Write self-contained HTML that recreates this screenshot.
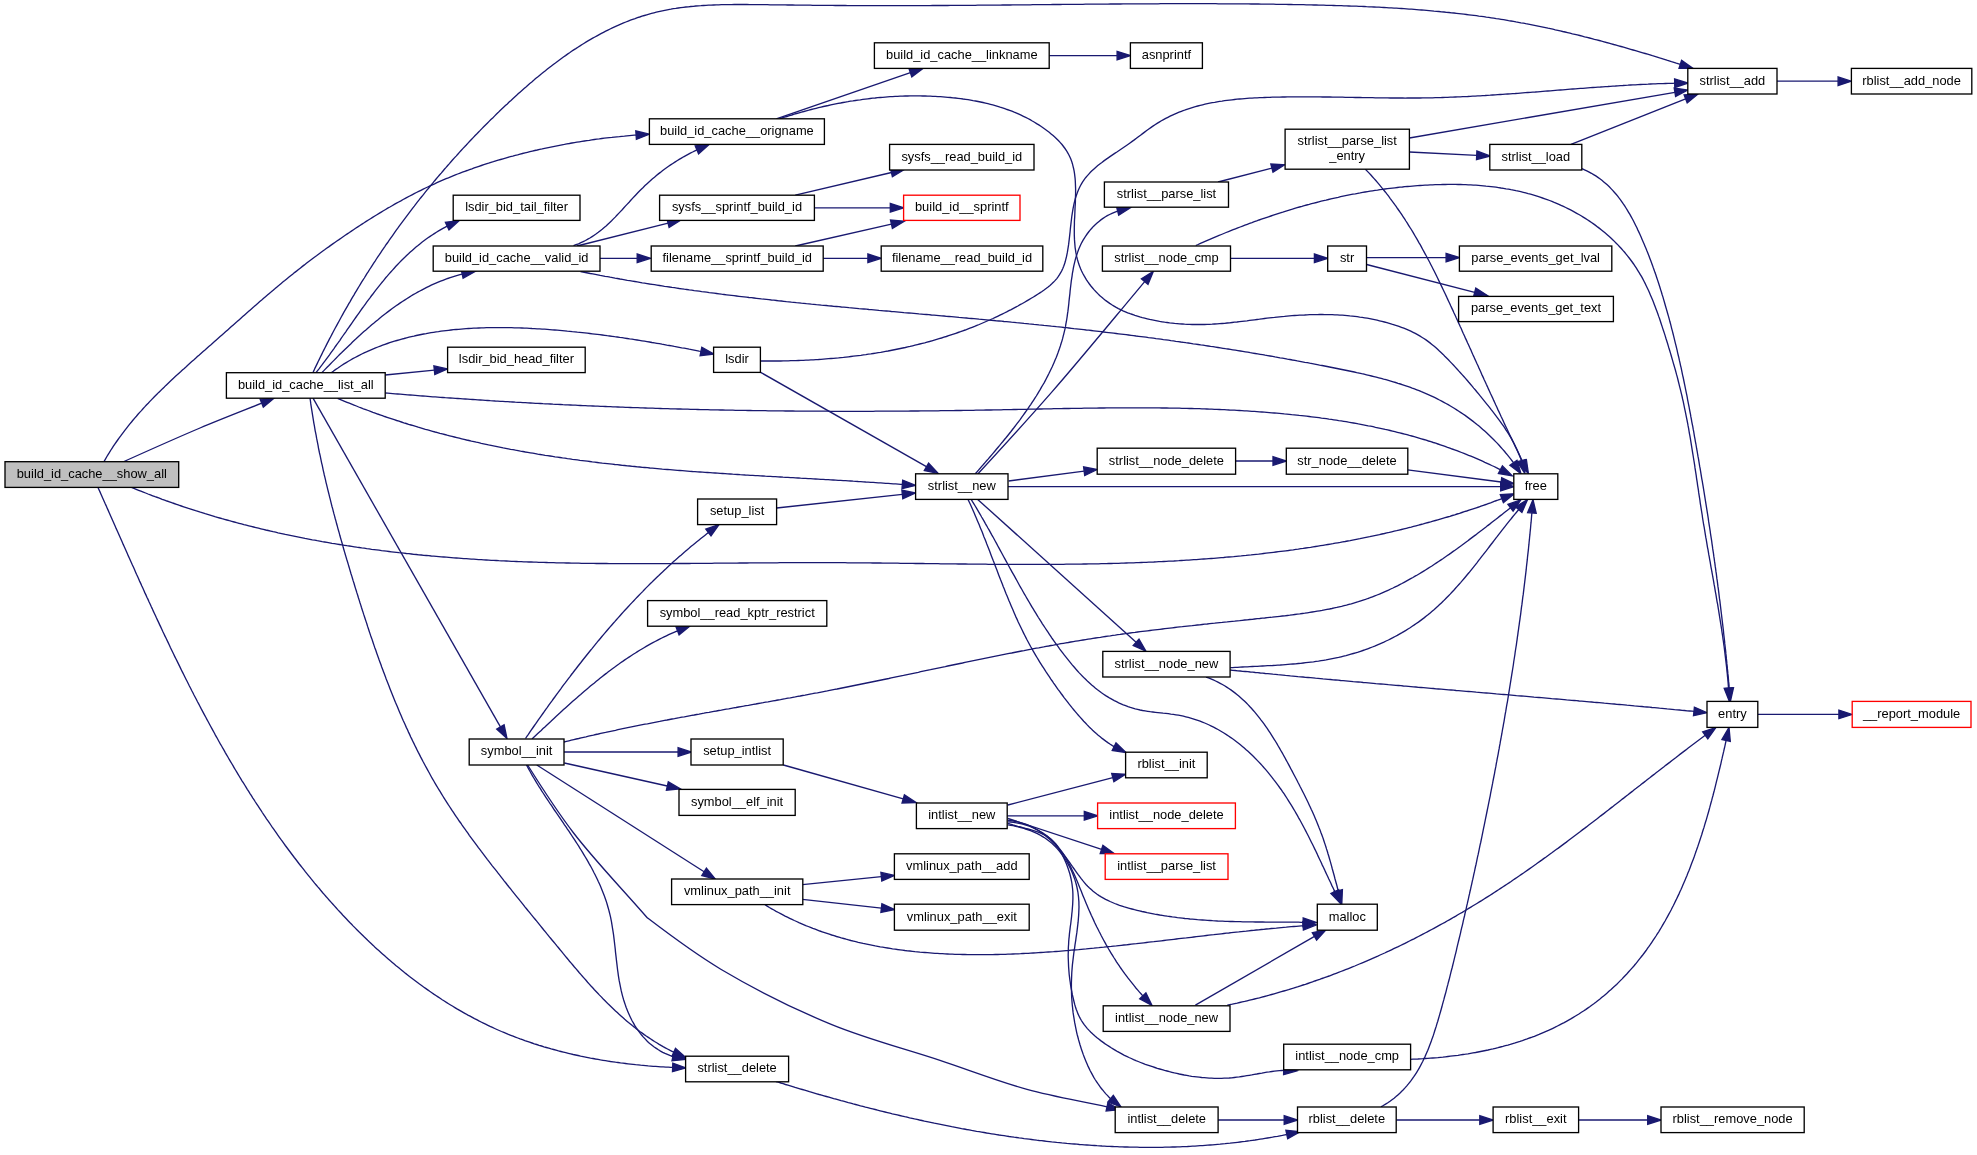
<!DOCTYPE html><html><head><meta charset="utf-8"><style>html,body{margin:0;padding:0;background:#fff;width:1977px;height:1155px;overflow:hidden}svg{display:block;will-change:transform}text{font-family:"Liberation Sans",sans-serif;font-size:12.87px;fill:#000}</style></head><body>
<svg width="1977" height="1155" viewBox="0 0 1977 1155">
<g fill="none" stroke="#191970" stroke-width="1.33">
<path d="M124,461.5 C150,449.8 175.9,438.2 200,428 C221.6,418.9 241.1,411.4 261.7,403.2"/>
<path d="M104,461.5 L105.3,459.3 L106.6,457 L107.9,454.9 L109.3,452.7 L110.6,450.5 L112,448.4 L113.4,446.2 L114.8,444.1 L116.3,442 L117.7,440 L119.2,437.9 L120.7,435.9 L122.2,433.8 L123.7,431.8 L125.2,429.8 L126.8,427.8 L128.3,425.9 L129.9,423.9 L131.5,422 L133.1,420 L134.7,418.1 L136.4,416.2 L138,414.3 L139.7,412.4 L141.4,410.6 L143,408.7 L144.7,406.9 L146.4,405 L148.2,403.2 L149.9,401.4 L151.6,399.6 L153.4,397.8 L155.1,396 L156.9,394.2 L158.7,392.4 L160.5,390.7 L162.3,388.9 L164.1,387.2 L165.9,385.4 L167.7,383.7 L169.5,382 L171.3,380.3 L173.2,378.5 L175,376.8 L176.9,375.1 L178.7,373.4 L180.6,371.7 L182.4,370 L184.3,368.4 L186.2,366.7 L188,365 L189.9,363.3 L191.8,361.6 L193.7,360 L195.6,358.3 L197.4,356.6 L199.3,355 L201.2,353.3 L203.1,351.6 L205,350 L206.9,348.3 L208.8,346.6 L210.7,345 L212.6,343.3 L214.5,341.6 L216.3,340 L218.2,338.3 L220.1,336.6 L222,334.9 L223.9,333.3 L225.8,331.6 L227.7,329.9 L229.5,328.3 L231.4,326.6 L233.3,324.9 L235.2,323.2 L237.1,321.6 L239,319.9 L240.9,318.2 L242.7,316.6 L244.6,314.9 L246.5,313.2 L248.4,311.6 L250.3,309.9 L252.2,308.2 L254.1,306.6 L256,304.9 L257.9,303.3 L259.8,301.6 L261.7,300 L263.6,298.3 L265.5,296.7 L267.4,295.1 L269.3,293.4 L271.3,291.8 L273.2,290.2 L275.1,288.6 L277,286.9 L279,285.3 L280.9,283.7 L282.8,282.1 L284.8,280.5 L286.7,278.9 L288.7,277.3 L290.6,275.8 L292.6,274.2 L294.5,272.6 L296.5,271.1 L298.5,269.5 L300.5,267.9 L302.4,266.4 L304.4,264.9 L306.4,263.3 L308.4,261.8 L310.4,260.3 L312.4,258.8 L314.4,257.3 L316.5,255.8 L318.5,254.3 L320.5,252.8 L322.5,251.3 L324.6,249.8 L326.6,248.3 L328.7,246.9 L330.7,245.4 L332.8,243.9 L334.8,242.5 L336.9,241 L339,239.6 L341,238.2 L343.1,236.7 L345.2,235.3 L347.3,233.9 L349.4,232.5 L351.4,231.1 L353.5,229.7 L355.6,228.3 L357.8,226.9 L359.9,225.5 L362,224.1 L364.1,222.8 L366.2,221.4 L368.4,220 L370.5,218.7 L372.6,217.4 L374.8,216 L376.9,214.7 L379.1,213.4 L381.2,212.1 L383.4,210.8 L385.6,209.5 L387.7,208.2 L389.9,207 L392.1,205.7 L394.3,204.4 L396.5,203.2 L398.7,202 L400.9,200.8 L403.1,199.5 L405.3,198.3 L407.5,197.2 L409.7,196 L412,194.8 L414.2,193.6 L416.4,192.5 L418.7,191.4 L420.9,190.3 L423.2,189.1 L425.5,188 L427.7,187 L430,185.9 L432.3,184.8 L434.6,183.8 L436.9,182.7 L439.2,181.7 L441.5,180.7 L443.8,179.7 L446.1,178.7 L448.4,177.8 L450.7,176.8 L453,175.9 L455.4,174.9 L457.7,174 L460.1,173.1 L462.4,172.2 L464.8,171.3 L467.1,170.5 L469.5,169.6 L471.9,168.8 L474.2,167.9 L476.6,167.1 L479,166.3 L481.4,165.5 L483.8,164.7 L486.2,163.9 L488.6,163.2 L491,162.4 L493.4,161.7 L495.8,160.9 L498.2,160.2 L500.6,159.5 L503,158.8 L505.5,158.1 L507.9,157.4 L510.3,156.7 L512.8,156.1 L515.2,155.4 L517.6,154.8 L520.1,154.1 L522.5,153.5 L525,152.9 L527.4,152.3 L529.9,151.7 L532.3,151.1 L534.8,150.5 L537.2,150 L539.7,149.4 L542.2,148.9 L544.6,148.3 L547.1,147.8 L549.6,147.3 L552,146.8 L554.5,146.3 L557,145.8 L559.5,145.3 L562,144.8 L564.4,144.4 L566.9,143.9 L569.4,143.5 L571.9,143 L574.4,142.6 L576.9,142.2 L579.4,141.8 L581.9,141.4 L584.4,141 L586.9,140.6 L589.3,140.3 L591.8,139.9 L594.3,139.5 L596.8,139.2 L599.3,138.9 L601.8,138.5 L604.3,138.2 L606.8,137.9 L609.3,137.6 L611.9,137.4 L614.4,137.1 L616.9,136.8 L619.4,136.6 L621.9,136.3 L624.4,136.1 L626.9,135.8 L629.4,135.6 L631.9,135.4 L634.4,135.2 L636.1,135.1"/>
<path d="M131.5,487.4 L133.9,488.4 L136.2,489.3 L138.6,490.3 L140.9,491.2 L143.3,492.1 L145.6,493 L148,494 L150.4,494.9 L152.7,495.8 L155.1,496.7 L157.5,497.5 L159.9,498.4 L162.2,499.3 L164.6,500.1 L167,501 L169.4,501.8 L171.7,502.7 L174.1,503.5 L176.5,504.3 L178.9,505.2 L181.3,506 L183.7,506.8 L186.1,507.6 L188.5,508.4 L190.8,509.1 L193.2,509.9 L195.6,510.7 L198,511.4 L200.4,512.2 L202.8,512.9 L205.2,513.7 L207.6,514.4 L210.1,515.1 L212.5,515.8 L214.9,516.6 L217.3,517.3 L219.7,518 L222.1,518.7 L224.5,519.3 L226.9,520 L229.4,520.7 L231.8,521.3 L234.2,522 L236.6,522.7 L239,523.3 L241.5,523.9 L243.9,524.6 L246.3,525.2 L248.8,525.8 L251.2,526.4 L253.6,527 L256,527.6 L258.5,528.2 L260.9,528.8 L263.4,529.4 L265.8,530 L268.2,530.5 L270.7,531.1 L273.1,531.7 L275.6,532.2 L278,532.8 L280.4,533.3 L282.9,533.8 L285.3,534.4 L287.8,534.9 L290.2,535.4 L292.7,535.9 L295.1,536.4 L297.6,536.9 L300,537.4 L302.5,537.9 L305,538.4 L307.4,538.8 L309.9,539.3 L312.3,539.8 L314.8,540.2 L317.2,540.7 L319.7,541.1 L322.2,541.6 L324.6,542 L327.1,542.4 L329.6,542.8 L332,543.3 L334.5,543.7 L337,544.1 L339.4,544.5 L341.9,544.9 L344.4,545.3 L346.9,545.7 L349.3,546 L351.8,546.4 L354.3,546.8 L356.7,547.2 L359.2,547.5 L361.7,547.9 L364.2,548.2 L366.7,548.6 L369.1,548.9 L371.6,549.3 L374.1,549.6 L376.6,549.9 L379.1,550.2 L381.5,550.6 L384,550.9 L386.5,551.2 L389,551.5 L391.5,551.8 L394,552.1 L396.4,552.4 L398.9,552.7 L401.4,552.9 L403.9,553.2 L406.4,553.5 L408.9,553.7 L411.4,554 L413.9,554.3 L416.4,554.5 L418.8,554.8 L421.3,555 L423.8,555.3 L426.3,555.5 L428.8,555.7 L431.3,556 L433.8,556.2 L436.3,556.4 L438.8,556.6 L441.3,556.8 L443.8,557 L446.3,557.2 L448.8,557.4 L451.3,557.6 L453.8,557.8 L456.3,558 L458.8,558.2 L461.3,558.4 L463.8,558.6 L466.3,558.7 L468.8,558.9 L471.3,559.1 L473.8,559.2 L476.2,559.4 L478.7,559.6 L481.2,559.7 L483.7,559.9 L486.2,560 L488.7,560.1 L491.2,560.3 L493.7,560.4 L496.2,560.5 L498.8,560.7 L501.3,560.8 L503.8,560.9 L506.3,561 L508.8,561.1 L511.3,561.3 L513.8,561.4 L516.3,561.5 L518.8,561.6 L521.3,561.7 L523.8,561.8 L526.3,561.9 L528.8,562 L531.3,562 L533.8,562.1 L536.3,562.2 L538.8,562.3 L541.3,562.4 L543.8,562.4 L546.3,562.5 L548.8,562.6 L551.3,562.7 L553.8,562.7 L556.3,562.8 L558.8,562.8 L561.3,562.9 L563.8,562.9 L566.3,563 L568.8,563 L571.4,563.1 L573.9,563.1 L576.4,563.2 L578.9,563.2 L581.4,563.3 L583.9,563.3 L586.4,563.3 L588.9,563.4 L591.4,563.4 L593.9,563.4 L596.4,563.5 L598.9,563.5 L601.4,563.5 L603.9,563.5 L606.5,563.5 L609,563.6 L611.5,563.6 L614,563.6 L616.5,563.6 L619,563.6 L621.5,563.6 L624,563.6 L626.5,563.6 L629,563.7 L631.5,563.7 L634,563.7 L636.6,563.7 L639.1,563.7 L641.6,563.7 L644.1,563.7 L646.6,563.7 L649.1,563.6 L651.6,563.6 L654.1,563.6 L656.6,563.6 L659.1,563.6 L661.7,563.6 L664.2,563.6 L666.7,563.6 L669.2,563.6 L671.7,563.6 L674.2,563.5 L676.7,563.5 L679.2,563.5 L681.7,563.5 L684.3,563.5 L686.8,563.5 L689.3,563.5 L691.8,563.4 L694.3,563.4 L696.8,563.4 L699.3,563.4 L701.8,563.4 L704.3,563.3 L706.9,563.3 L709.4,563.3 L711.9,563.3 L714.4,563.2 L716.9,563.2 L719.4,563.2 L721.9,563.2 L724.4,563.2 L727,563.1 L729.5,563.1 L732,563.1 L734.5,563.1 L737,563.1 L739.5,563 L742,563 L744.5,563 L747.1,563 L749.6,562.9 L752.1,562.9 L754.6,562.9 L757.1,562.9 L759.6,562.9 L762.1,562.9 L764.6,562.8 L767.2,562.8 L769.7,562.8 L772.2,562.8 L774.7,562.8 L777.2,562.8 L779.7,562.7 L782.2,562.7 L784.8,562.7 L787.3,562.7 L789.8,562.7 L792.3,562.7 L794.8,562.7 L797.3,562.7 L799.8,562.7 L802.4,562.7 L804.9,562.7 L807.4,562.6 L809.9,562.6 L812.4,562.6 L814.9,562.6 L817.4,562.6 L819.9,562.6 L822.5,562.7 L825,562.7 L827.5,562.7 L830,562.7 L832.5,562.7 L835,562.7 L837.5,562.7 L840.1,562.7 L842.6,562.7 L845.1,562.7 L847.6,562.8 L850.1,562.8 L852.6,562.8 L855.1,562.8 L857.7,562.8 L860.2,562.9 L862.7,562.9 L865.2,562.9 L867.7,562.9 L870.2,562.9 L872.7,563 L875.2,563 L877.8,563 L880.3,563 L882.8,563.1 L885.3,563.1 L887.8,563.1 L890.3,563.2 L892.8,563.2 L895.4,563.2 L897.9,563.2 L900.4,563.3 L902.9,563.3 L905.4,563.3 L907.9,563.4 L910.4,563.4 L912.9,563.4 L915.5,563.5 L918,563.5 L920.5,563.5 L923,563.5 L925.5,563.6 L928,563.6 L930.5,563.6 L933.1,563.7 L935.6,563.7 L938.1,563.7 L940.6,563.8 L943.1,563.8 L945.6,563.8 L948.1,563.9 L950.6,563.9 L953.1,563.9 L955.7,563.9 L958.2,564 L960.7,564 L963.2,564 L965.7,564 L968.2,564.1 L970.7,564.1 L973.2,564.1 L975.8,564.1 L978.3,564.2 L980.8,564.2 L983.3,564.2 L985.8,564.2 L988.3,564.3 L990.8,564.3 L993.3,564.3 L995.8,564.3 L998.4,564.3 L1000.9,564.3 L1003.4,564.3 L1005.9,564.4 L1008.4,564.4 L1010.9,564.4 L1013.4,564.4 L1015.9,564.4 L1018.4,564.4 L1020.9,564.4 L1023.5,564.4 L1026,564.4 L1028.5,564.4 L1031,564.4 L1033.5,564.4 L1036,564.4 L1038.5,564.4 L1041,564.4 L1043.5,564.4 L1046,564.4 L1048.5,564.4 L1051,564.4 L1053.6,564.3 L1056.1,564.3 L1058.6,564.3 L1061.1,564.3 L1063.6,564.3 L1066.1,564.2 L1068.6,564.2 L1071.1,564.2 L1073.6,564.2 L1076.1,564.1 L1078.6,564.1 L1081.1,564.1 L1083.6,564 L1086.1,564 L1088.7,563.9 L1091.2,563.9 L1093.7,563.9 L1096.2,563.8 L1098.7,563.8 L1101.2,563.7 L1103.7,563.6 L1106.2,563.6 L1108.7,563.5 L1111.2,563.5 L1113.7,563.4 L1116.2,563.3 L1118.7,563.3 L1121.2,563.2 L1123.7,563.1 L1126.2,563 L1128.7,562.9 L1131.2,562.9 L1133.7,562.8 L1136.2,562.7 L1138.7,562.6 L1141.2,562.5 L1143.7,562.4 L1146.3,562.3 L1148.8,562.2 L1151.3,562.1 L1153.8,562 L1156.3,561.8 L1158.8,561.7 L1161.3,561.6 L1163.8,561.5 L1166.3,561.4 L1168.8,561.2 L1171.3,561.1 L1173.8,561 L1176.3,560.8 L1178.8,560.7 L1181.3,560.5 L1183.8,560.4 L1186.3,560.2 L1188.8,560.1 L1191.3,559.9 L1193.8,559.7 L1196.3,559.6 L1198.8,559.4 L1201.2,559.2 L1203.7,559 L1206.2,558.9 L1208.7,558.7 L1211.2,558.5 L1213.7,558.3 L1216.2,558.1 L1218.7,557.9 L1221.2,557.7 L1223.7,557.5 L1226.2,557.2 L1228.7,557 L1231.2,556.8 L1233.7,556.6 L1236.2,556.3 L1238.7,556.1 L1241.2,555.9 L1243.6,555.6 L1246.1,555.4 L1248.6,555.1 L1251.1,554.9 L1253.6,554.6 L1256.1,554.3 L1258.6,554.1 L1261.1,553.8 L1263.5,553.5 L1266,553.2 L1268.5,552.9 L1271,552.6 L1273.5,552.3 L1276,552 L1278.4,551.7 L1280.9,551.4 L1283.4,551.1 L1285.9,550.8 L1288.4,550.5 L1290.8,550.1 L1293.3,549.8 L1295.8,549.4 L1298.3,549.1 L1300.8,548.7 L1303.2,548.4 L1305.7,548 L1308.2,547.6 L1310.6,547.3 L1313.1,546.9 L1315.6,546.5 L1318.1,546.1 L1320.5,545.7 L1323,545.3 L1325.5,544.9 L1327.9,544.5 L1330.4,544.1 L1332.9,543.7 L1335.3,543.2 L1337.8,542.8 L1340.3,542.4 L1342.7,541.9 L1345.2,541.5 L1347.6,541 L1350.1,540.6 L1352.5,540.1 L1355,539.6 L1357.5,539.1 L1359.9,538.7 L1362.4,538.2 L1364.8,537.7 L1367.3,537.2 L1369.7,536.7 L1372.2,536.1 L1374.6,535.6 L1377.1,535.1 L1379.5,534.6 L1381.9,534 L1384.4,533.5 L1386.8,532.9 L1389.3,532.4 L1391.7,531.8 L1394.2,531.2 L1396.6,530.7 L1399,530.1 L1401.5,529.5 L1403.9,528.9 L1406.3,528.3 L1408.8,527.7 L1411.2,527.1 L1413.6,526.4 L1416,525.8 L1418.5,525.2 L1420.9,524.5 L1423.3,523.9 L1425.7,523.2 L1428.2,522.5 L1430.6,521.9 L1433,521.2 L1435.4,520.5 L1437.8,519.8 L1440.2,519.1 L1442.7,518.4 L1445.1,517.7 L1447.5,517 L1449.9,516.3 L1452.3,515.5 L1454.7,514.8 L1457.1,514 L1459.5,513.3 L1461.9,512.5 L1464.3,511.7 L1466.7,511 L1469.1,510.2 L1471.5,509.4 L1473.9,508.6 L1476.3,507.8 L1478.7,507 L1481,506.1 L1483.4,505.3 L1485.8,504.5 L1488.2,503.6 L1490.6,502.8 L1493,501.9 L1495.3,501 L1497.7,500.2 L1500.1,499.3 L1501.9,498.6"/>
<path d="M98,487.4 L99,489.7 L100,491.9 L101,494.2 L102,496.5 L103,498.7 L104,501 L105,503.3 L106.1,505.6 L107.1,507.9 L108.1,510.1 L109.1,512.4 L110.1,514.7 L111.1,517 L112.1,519.3 L113.1,521.5 L114.1,523.8 L115.1,526.1 L116.1,528.4 L117.2,530.7 L118.2,533 L119.2,535.3 L120.2,537.5 L121.2,539.8 L122.2,542.1 L123.2,544.4 L124.3,546.7 L125.3,549 L126.3,551.3 L127.3,553.6 L128.3,555.9 L129.4,558.2 L130.4,560.5 L131.4,562.7 L132.4,565 L133.5,567.3 L134.5,569.6 L135.5,571.9 L136.5,574.2 L137.6,576.5 L138.6,578.8 L139.6,581.1 L140.7,583.4 L141.7,585.7 L142.8,588 L143.8,590.3 L144.8,592.6 L145.9,594.9 L146.9,597.2 L148,599.4 L149,601.7 L150.1,604 L151.1,606.3 L152.2,608.6 L153.2,610.9 L154.3,613.2 L155.4,615.5 L156.4,617.8 L157.5,620.1 L158.6,622.4 L159.6,624.6 L160.7,626.9 L161.8,629.2 L162.8,631.5 L163.9,633.8 L165,636.1 L166.1,638.3 L167.2,640.6 L168.3,642.9 L169.4,645.2 L170.4,647.5 L171.5,649.7 L172.6,652 L173.7,654.3 L174.8,656.6 L175.9,658.8 L177.1,661.1 L178.2,663.4 L179.3,665.6 L180.4,667.9 L181.5,670.2 L182.6,672.4 L183.8,674.7 L184.9,677 L186,679.2 L187.2,681.5 L188.3,683.7 L189.4,686 L190.6,688.2 L191.7,690.5 L192.9,692.7 L194,695 L195.2,697.2 L196.4,699.5 L197.5,701.7 L198.7,703.9 L199.9,706.2 L201,708.4 L202.2,710.6 L203.4,712.9 L204.6,715.1 L205.8,717.3 L207,719.6 L208.2,721.8 L209.4,724 L210.6,726.2 L211.8,728.4 L213,730.6 L214.2,732.8 L215.4,735.1 L216.7,737.3 L217.9,739.5 L219.1,741.7 L220.3,743.9 L221.6,746 L222.8,748.2 L224.1,750.4 L225.3,752.6 L226.6,754.8 L227.9,757 L229.1,759.2 L230.4,761.3 L231.7,763.5 L233,765.7 L234.2,767.8 L235.5,770 L236.8,772.1 L238.1,774.3 L239.4,776.5 L240.7,778.6 L242,780.8 L243.4,782.9 L244.7,785 L246,787.2 L247.3,789.3 L248.7,791.4 L250,793.6 L251.4,795.7 L252.7,797.8 L254.1,799.9 L255.4,802 L256.8,804.1 L258.2,806.2 L259.6,808.3 L261,810.4 L262.3,812.5 L263.7,814.6 L265.1,816.7 L266.5,818.8 L268,820.9 L269.4,822.9 L270.8,825 L272.2,827.1 L273.7,829.1 L275.1,831.2 L276.5,833.2 L278,835.3 L279.4,837.3 L280.9,839.4 L282.4,841.4 L283.8,843.4 L285.3,845.5 L286.8,847.5 L288.3,849.5 L289.8,851.5 L291.3,853.5 L292.8,855.5 L294.3,857.5 L295.9,859.5 L297.4,861.5 L298.9,863.5 L300.5,865.5 L302,867.4 L303.6,869.4 L305.1,871.4 L306.7,873.3 L308.3,875.3 L309.8,877.2 L311.4,879.2 L313,881.1 L314.6,883.1 L316.2,885 L317.8,886.9 L319.5,888.8 L321.1,890.8 L322.7,892.7 L324.4,894.6 L326,896.5 L327.7,898.4 L329.3,900.3 L331,902.1 L332.7,904 L334.4,905.9 L336.1,907.8 L337.7,909.6 L339.5,911.5 L341.2,913.3 L342.9,915.2 L344.6,917 L346.3,918.8 L348.1,920.7 L349.8,922.5 L351.6,924.3 L353.3,926.1 L355.1,927.9 L356.9,929.7 L358.7,931.5 L360.5,933.2 L362.3,935 L364.1,936.8 L365.9,938.5 L367.7,940.3 L369.5,942 L371.4,943.7 L373.2,945.4 L375,947.2 L376.9,948.9 L378.8,950.6 L380.6,952.2 L382.5,953.9 L384.4,955.6 L386.3,957.3 L388.2,958.9 L390.1,960.6 L392,962.2 L393.9,963.8 L395.8,965.4 L397.8,967 L399.7,968.6 L401.7,970.2 L403.6,971.8 L405.6,973.4 L407.6,974.9 L409.5,976.5 L411.5,978 L413.5,979.5 L415.5,981 L417.5,982.5 L419.5,984 L421.6,985.5 L423.6,987 L425.6,988.4 L427.7,989.9 L429.7,991.3 L431.8,992.7 L433.8,994.1 L435.9,995.5 L438,996.9 L440.1,998.3 L442.2,999.7 L444.3,1001 L446.4,1002.4 L448.5,1003.7 L450.6,1005 L452.8,1006.3 L454.9,1007.6 L457,1008.9 L459.2,1010.1 L461.4,1011.4 L463.5,1012.6 L465.7,1013.8 L467.9,1015.1 L470.1,1016.2 L472.3,1017.4 L474.5,1018.6 L476.7,1019.7 L478.9,1020.9 L481.1,1022 L483.4,1023.1 L485.6,1024.2 L487.9,1025.3 L490.1,1026.4 L492.4,1027.4 L494.7,1028.5 L496.9,1029.5 L499.2,1030.5 L501.5,1031.5 L503.8,1032.4 L506.1,1033.4 L508.4,1034.4 L510.8,1035.3 L513.1,1036.2 L515.4,1037.1 L517.8,1038 L520.1,1038.9 L522.5,1039.7 L524.8,1040.6 L527.2,1041.4 L529.6,1042.2 L532,1043 L534.3,1043.8 L536.7,1044.5 L539.1,1045.3 L541.5,1046 L543.9,1046.8 L546.3,1047.5 L548.8,1048.2 L551.2,1048.9 L553.6,1049.5 L556,1050.2 L558.5,1050.9 L560.9,1051.5 L563.4,1052.1 L565.8,1052.7 L568.3,1053.3 L570.7,1053.9 L573.2,1054.5 L575.6,1055 L578.1,1055.5 L580.6,1056.1 L583.1,1056.6 L585.5,1057.1 L588,1057.6 L590.5,1058.1 L593,1058.5 L595.5,1059 L598,1059.4 L600.5,1059.9 L603,1060.3 L605.5,1060.7 L608,1061.1 L610.5,1061.5 L613,1061.8 L615.5,1062.2 L618,1062.5 L620.5,1062.9 L623,1063.2 L625.5,1063.5 L628,1063.8 L630.6,1064.1 L633.1,1064.4 L635.6,1064.7 L638.1,1064.9 L640.6,1065.2 L643.1,1065.4 L645.7,1065.6 L648.2,1065.9 L650.7,1066.1 L653.2,1066.3 L655.7,1066.4 L658.3,1066.6 L660.8,1066.8 L663.3,1066.9 L665.8,1067.1 L668.3,1067.2 L670.8,1067.3 L672.6,1067.4"/>
<path d="M312.9,372.7 L314,370.4 L315,368.1 L316.1,365.9 L317.2,363.6 L318.3,361.3 L319.4,359.1 L320.5,356.8 L321.6,354.6 L322.7,352.3 L323.8,350.1 L325,347.8 L326.1,345.6 L327.2,343.4 L328.4,341.1 L329.5,338.9 L330.7,336.7 L331.9,334.4 L333,332.2 L334.2,330 L335.4,327.8 L336.6,325.6 L337.8,323.4 L339,321.2 L340.2,319 L341.4,316.8 L342.6,314.6 L343.8,312.4 L345.1,310.2 L346.3,308.1 L347.6,305.9 L348.8,303.7 L350.1,301.6 L351.3,299.4 L352.6,297.2 L353.9,295.1 L355.1,292.9 L356.4,290.8 L357.7,288.6 L359,286.5 L360.3,284.4 L361.6,282.2 L362.9,280.1 L364.3,278 L365.6,275.9 L366.9,273.7 L368.3,271.6 L369.6,269.5 L371,267.4 L372.3,265.3 L373.7,263.2 L375.1,261.1 L376.4,259 L377.8,256.9 L379.2,254.9 L380.6,252.8 L382,250.7 L383.4,248.6 L384.8,246.6 L386.2,244.5 L387.7,242.5 L389.1,240.4 L390.5,238.4 L392,236.3 L393.4,234.3 L394.9,232.2 L396.3,230.2 L397.8,228.2 L399.2,226.1 L400.7,224.1 L402.2,222.1 L403.7,220.1 L405.2,218.1 L406.7,216.1 L408.2,214.1 L409.7,212.1 L411.2,210.1 L412.7,208.1 L414.3,206.1 L415.8,204.1 L417.3,202.2 L418.9,200.2 L420.4,198.2 L422,196.3 L423.6,194.3 L425.1,192.4 L426.7,190.4 L428.3,188.5 L429.9,186.5 L431.5,184.6 L433.1,182.7 L434.7,180.7 L436.3,178.8 L437.9,176.9 L439.5,175 L441.2,173.1 L442.8,171.2 L444.4,169.3 L446.1,167.4 L447.7,165.5 L449.4,163.6 L451,161.7 L452.7,159.8 L454.4,157.9 L456.1,156.1 L457.8,154.2 L459.4,152.4 L461.1,150.5 L462.8,148.6 L464.6,146.8 L466.3,145 L468,143.1 L469.7,141.3 L471.4,139.5 L473.2,137.6 L474.9,135.8 L476.7,134 L478.4,132.2 L480.2,130.4 L481.9,128.6 L483.7,126.8 L485.5,125 L487.3,123.2 L489.1,121.4 L490.9,119.6 L492.7,117.9 L494.5,116.1 L496.3,114.3 L498.1,112.6 L499.9,110.8 L501.7,109.1 L503.6,107.3 L505.4,105.6 L507.3,103.9 L509.1,102.1 L511,100.4 L512.8,98.7 L514.7,97 L516.6,95.3 L518.4,93.6 L520.3,91.9 L522.2,90.2 L524.1,88.5 L526,86.9 L527.9,85.2 L529.8,83.5 L531.8,81.9 L533.7,80.3 L535.6,78.6 L537.6,77 L539.5,75.4 L541.5,73.8 L543.4,72.2 L545.4,70.7 L547.4,69.1 L549.4,67.5 L551.4,66 L553.3,64.5 L555.4,63 L557.4,61.5 L559.4,60 L561.4,58.5 L563.4,57 L565.5,55.6 L567.5,54.1 L569.6,52.7 L571.6,51.3 L573.7,49.9 L575.8,48.6 L577.9,47.2 L580,45.9 L582.1,44.5 L584.2,43.2 L586.3,41.9 L588.4,40.7 L590.6,39.4 L592.7,38.2 L594.9,37 L597,35.8 L599.2,34.6 L601.4,33.4 L603.5,32.3 L605.7,31.2 L607.9,30.1 L610.1,29 L612.4,27.9 L614.6,26.9 L616.8,25.9 L619.1,24.9 L621.3,23.9 L623.6,22.9 L625.9,22 L628.2,21.1 L630.4,20.2 L632.7,19.4 L635.1,18.6 L637.4,17.7 L639.7,17 L642,16.2 L644.4,15.5 L646.7,14.8 L649.1,14.1 L651.5,13.4 L653.9,12.8 L656.3,12.2 L658.7,11.6 L661.1,11.1 L663.5,10.6 L666,10.1 L668.4,9.6 L670.9,9.2 L673.3,8.7 L675.8,8.4 L678.3,8 L680.8,7.6 L683.3,7.3 L685.8,7 L688.3,6.8 L690.8,6.5 L693.3,6.3 L695.8,6 L698.4,5.8 L700.9,5.7 L703.4,5.5 L706,5.3 L708.5,5.2 L711.1,5.1 L713.7,5 L716.2,4.9 L718.8,4.8 L721.3,4.7 L723.9,4.7 L726.5,4.6 L729,4.6 L731.6,4.6 L734.2,4.5 L736.7,4.5 L739.3,4.5 L741.9,4.5 L744.4,4.5 L747,4.5 L749.6,4.6 L752.1,4.6 L754.7,4.6 L757.3,4.6 L759.8,4.7 L762.4,4.7 L764.9,4.7 L767.4,4.7 L770,4.8 L772.5,4.8 L775.1,4.8 L777.6,4.9 L780.1,4.9 L782.6,4.9 L785.2,4.9 L787.7,5 L790.2,5 L792.7,5 L795.2,5.1 L797.7,5.1 L800.2,5.1 L802.7,5.1 L805.3,5.2 L807.8,5.2 L810.3,5.2 L812.8,5.3 L815.3,5.3 L817.8,5.3 L820.3,5.3 L822.8,5.4 L825.3,5.4 L827.8,5.4 L830.2,5.4 L832.7,5.4 L835.2,5.5 L837.7,5.5 L840.2,5.5 L842.7,5.5 L845.2,5.5 L847.7,5.6 L850.2,5.6 L852.7,5.6 L855.2,5.6 L857.7,5.6 L860.2,5.6 L862.7,5.6 L865.2,5.6 L867.7,5.6 L870.2,5.6 L872.7,5.7 L875.2,5.7 L877.7,5.7 L880.2,5.7 L882.7,5.7 L885.2,5.7 L887.7,5.7 L890.2,5.7 L892.7,5.7 L895.2,5.7 L897.7,5.7 L900.2,5.7 L902.7,5.7 L905.2,5.6 L907.7,5.6 L910.2,5.6 L912.7,5.6 L915.2,5.6 L917.6,5.6 L920.1,5.6 L922.6,5.6 L925.1,5.6 L927.6,5.6 L930.1,5.6 L932.6,5.5 L935.2,5.5 L937.7,5.5 L940.2,5.5 L942.7,5.5 L945.2,5.5 L947.7,5.5 L950.2,5.4 L952.7,5.4 L955.2,5.4 L957.7,5.4 L960.2,5.4 L962.7,5.4 L965.2,5.3 L967.7,5.3 L970.2,5.3 L972.7,5.3 L975.2,5.3 L977.7,5.2 L980.2,5.2 L982.7,5.2 L985.2,5.2 L987.7,5.2 L990.2,5.1 L992.7,5.1 L995.2,5.1 L997.7,5.1 L1000.2,5.1 L1002.7,5 L1005.2,5 L1007.7,5 L1010.2,5 L1012.7,4.9 L1015.2,4.9 L1017.7,4.9 L1020.2,4.9 L1022.7,4.8 L1025.2,4.8 L1027.7,4.8 L1030.3,4.8 L1032.8,4.7 L1035.3,4.7 L1037.8,4.7 L1040.3,4.7 L1042.8,4.6 L1045.3,4.6 L1047.8,4.6 L1050.3,4.6 L1052.8,4.5 L1055.3,4.5 L1057.8,4.5 L1060.3,4.5 L1062.8,4.4 L1065.3,4.4 L1067.8,4.4 L1070.3,4.4 L1072.8,4.4 L1075.4,4.3 L1077.9,4.3 L1080.4,4.3 L1082.9,4.3 L1085.4,4.2 L1087.9,4.2 L1090.4,4.2 L1092.9,4.2 L1095.4,4.2 L1097.9,4.1 L1100.4,4.1 L1102.9,4.1 L1105.4,4.1 L1107.9,4.1 L1110.4,4 L1113,4 L1115.5,4 L1118,4 L1120.5,4 L1123,3.9 L1125.5,3.9 L1128,3.9 L1130.5,3.9 L1133,3.9 L1135.5,3.9 L1138,3.9 L1140.5,3.8 L1143.1,3.8 L1145.6,3.8 L1148.1,3.8 L1150.6,3.8 L1153.1,3.8 L1155.6,3.8 L1158.1,3.8 L1160.6,3.7 L1163.1,3.7 L1165.6,3.7 L1168.1,3.7 L1170.7,3.7 L1173.2,3.7 L1175.7,3.7 L1178.2,3.7 L1180.7,3.7 L1183.2,3.7 L1185.7,3.7 L1188.2,3.7 L1190.7,3.7 L1193.2,3.7 L1195.7,3.7 L1198.3,3.7 L1200.8,3.7 L1203.3,3.7 L1205.8,3.7 L1208.3,3.7 L1210.8,3.7 L1213.3,3.7 L1215.8,3.7 L1218.3,3.8 L1220.8,3.8 L1223.4,3.8 L1225.9,3.8 L1228.4,3.8 L1230.9,3.8 L1233.4,3.8 L1235.9,3.8 L1238.4,3.9 L1240.9,3.9 L1243.4,3.9 L1245.9,3.9 L1248.5,3.9 L1251,4 L1253.5,4 L1256,4 L1258.5,4 L1261,4.1 L1263.5,4.1 L1266,4.1 L1268.5,4.2 L1271.1,4.2 L1273.6,4.2 L1276.1,4.3 L1278.6,4.3 L1281.1,4.3 L1283.6,4.4 L1286.1,4.4 L1288.6,4.5 L1291.1,4.5 L1293.7,4.6 L1296.2,4.6 L1298.7,4.6 L1301.2,4.7 L1303.7,4.7 L1306.2,4.8 L1308.7,4.9 L1311.2,4.9 L1313.8,5 L1316.3,5 L1318.8,5.1 L1321.3,5.1 L1323.8,5.2 L1326.3,5.3 L1328.8,5.3 L1331.3,5.4 L1333.8,5.5 L1336.4,5.6 L1338.9,5.6 L1341.4,5.7 L1343.9,5.8 L1346.4,5.9 L1348.9,6 L1351.4,6.1 L1353.9,6.1 L1356.4,6.2 L1358.9,6.3 L1361.4,6.4 L1364,6.5 L1366.5,6.7 L1369,6.8 L1371.5,6.9 L1374,7 L1376.5,7.1 L1379,7.2 L1381.5,7.4 L1384,7.5 L1386.5,7.6 L1389,7.8 L1391.5,7.9 L1394,8.1 L1396.5,8.2 L1399,8.4 L1401.5,8.5 L1404,8.7 L1406.5,8.9 L1409.1,9.1 L1411.6,9.2 L1414.1,9.4 L1416.6,9.6 L1419.1,9.8 L1421.6,10 L1424,10.2 L1426.5,10.4 L1429,10.6 L1431.5,10.8 L1434,11.1 L1436.5,11.3 L1439,11.5 L1441.5,11.8 L1444,12 L1446.5,12.3 L1449,12.5 L1451.5,12.8 L1454,13 L1456.5,13.3 L1459,13.6 L1461.4,13.9 L1463.9,14.2 L1466.4,14.5 L1468.9,14.8 L1471.4,15.1 L1473.9,15.4 L1476.4,15.7 L1478.8,16.1 L1481.3,16.4 L1483.8,16.7 L1486.3,17.1 L1488.8,17.4 L1491.2,17.8 L1493.7,18.2 L1496.2,18.6 L1498.7,18.9 L1501.1,19.3 L1503.6,19.7 L1506.1,20.1 L1508.6,20.6 L1511,21 L1513.5,21.4 L1516,21.9 L1518.4,22.3 L1520.9,22.8 L1523.4,23.2 L1525.8,23.7 L1528.3,24.1 L1530.8,24.6 L1533.2,25.1 L1535.7,25.6 L1538.1,26.1 L1540.6,26.6 L1543,27.1 L1545.5,27.6 L1548,28.2 L1550.4,28.7 L1552.9,29.2 L1555.3,29.8 L1557.8,30.3 L1560.2,30.9 L1562.7,31.5 L1565.1,32 L1567.5,32.6 L1570,33.2 L1572.4,33.8 L1574.9,34.3 L1577.3,34.9 L1579.8,35.5 L1582.2,36.1 L1584.6,36.8 L1587.1,37.4 L1589.5,38 L1591.9,38.6 L1594.4,39.3 L1596.8,39.9 L1599.2,40.5 L1601.7,41.2 L1604.1,41.8 L1606.5,42.5 L1608.9,43.1 L1611.4,43.8 L1613.8,44.5 L1616.2,45.1 L1618.6,45.8 L1621,46.5 L1623.5,47.2 L1625.9,47.9 L1628.3,48.6 L1630.7,49.3 L1633.1,50 L1635.5,50.7 L1637.9,51.4 L1640.3,52.1 L1642.8,52.8 L1645.2,53.5 L1647.6,54.2 L1650,54.9 L1652.4,55.7 L1654.8,56.4 L1657.2,57.1 L1659.6,57.9 L1662,58.6 L1664.4,59.3 L1666.8,60.1 L1669.1,60.8 L1671.5,61.6 L1673.9,62.3 L1676.3,63.1 L1678.7,63.8 L1680.3,64.3"/>
<path d="M315.9,372.7 L317.4,370.8 L319,368.8 L320.5,366.8 L322,364.9 L323.5,362.9 L325,360.9 L326.5,358.8 L328,356.8 L329.5,354.8 L331,352.7 L332.5,350.7 L334,348.6 L335.4,346.5 L336.9,344.4 L338.4,342.4 L339.9,340.3 L341.3,338.2 L342.8,336 L344.3,333.9 L345.8,331.8 L347.2,329.7 L348.7,327.6 L350.2,325.5 L351.7,323.4 L353.2,321.2 L354.6,319.1 L356.1,317 L357.6,314.9 L359.1,312.8 L360.6,310.6 L362.1,308.5 L363.7,306.4 L365.2,304.3 L366.7,302.2 L368.2,300.2 L369.8,298.1 L371.3,296 L372.9,294 L374.5,291.9 L376,289.9 L377.6,287.8 L379.2,285.8 L380.8,283.8 L382.5,281.8 L384.1,279.8 L385.7,277.8 L387.4,275.9 L389.1,273.9 L390.8,272 L392.5,270.1 L394.2,268.2 L395.9,266.3 L397.6,264.5 L399.4,262.6 L401.2,260.8 L403,259 L404.8,257.3 L406.6,255.5 L408.5,253.8 L410.3,252.1 L412.2,250.4 L414.1,248.7 L416,247.1 L418,245.5 L419.9,243.9 L421.9,242.3 L423.9,240.8 L425.9,239.3 L428,237.8 L430.1,236.4 L432.2,235 L434.3,233.6 L436.4,232.2 L438.6,230.9 L440.8,229.6 L443,228.4 L445.3,227.2 L447.2,226.1"/>
<path d="M321.8,372.7 L323.6,370.9 L325.3,369.1 L327.1,367.3 L328.9,365.5 L330.6,363.7 L332.4,361.9 L334.2,360.1 L336,358.3 L337.8,356.4 L339.6,354.6 L341.5,352.8 L343.3,351 L345.1,349.2 L347,347.4 L348.8,345.7 L350.7,343.9 L352.5,342.1 L354.4,340.3 L356.3,338.6 L358.2,336.8 L360.1,335.1 L362,333.3 L363.9,331.6 L365.9,329.9 L367.8,328.2 L369.8,326.5 L371.7,324.8 L373.7,323.2 L375.7,321.5 L377.7,319.9 L379.7,318.2 L381.7,316.6 L383.7,315 L385.7,313.5 L387.8,311.9 L389.8,310.4 L391.9,308.8 L394,307.3 L396.1,305.8 L398.2,304.4 L400.3,302.9 L402.4,301.5 L404.6,300.1 L406.7,298.7 L408.9,297.4 L411,296 L413.2,294.7 L415.4,293.5 L417.7,292.2 L419.9,291 L422.1,289.8 L424.4,288.6 L426.7,287.4 L428.9,286.3 L431.2,285.2 L433.5,284.2 L435.9,283.2 L438.2,282.2 L440.6,281.2 L442.9,280.3 L445.3,279.4 L447.7,278.5 L450.2,277.7 L452.6,276.9 L455,276.1 L457.5,275.4 L460,274.7 L462.2,274.1"/>
<path d="M331.2,372.7 L333.3,371.2 L335.4,369.6 L337.6,368.2 L339.7,366.7 L341.9,365.3 L344,363.9 L346.2,362.6 L348.4,361.3 L350.6,360 L352.8,358.7 L355.1,357.5 L357.3,356.3 L359.6,355.2 L361.8,354 L364.1,352.9 L366.4,351.9 L368.7,350.8 L371,349.8 L373.3,348.8 L375.6,347.9 L377.9,347 L380.3,346.1 L382.6,345.2 L385,344.3 L387.4,343.5 L389.7,342.7 L392.1,341.9 L394.5,341.2 L396.9,340.5 L399.3,339.8 L401.7,339.1 L404.1,338.5 L406.5,337.8 L409,337.2 L411.4,336.6 L413.9,336.1 L416.3,335.5 L418.8,335 L421.2,334.5 L423.7,334 L426.1,333.6 L428.6,333.1 L431.1,332.7 L433.6,332.3 L436.1,331.9 L438.5,331.6 L441,331.2 L443.5,330.9 L446,330.6 L448.5,330.3 L451,330 L453.5,329.7 L456.1,329.5 L458.6,329.3 L461.1,329.1 L463.6,328.9 L466.1,328.7 L468.6,328.5 L471.2,328.4 L473.7,328.2 L476.2,328.1 L478.8,328 L481.3,327.9 L483.8,327.8 L486.4,327.7 L488.9,327.7 L491.4,327.6 L494,327.6 L496.5,327.6 L499,327.6 L501.6,327.6 L504.1,327.6 L506.6,327.6 L509.2,327.7 L511.7,327.7 L514.3,327.8 L516.8,327.8 L519.3,327.9 L521.9,328 L524.4,328.1 L526.9,328.2 L529.5,328.3 L532,328.5 L534.5,328.6 L537.1,328.8 L539.6,328.9 L542.1,329.1 L544.6,329.2 L547.2,329.4 L549.7,329.6 L552.2,329.8 L554.7,330 L557.2,330.2 L559.7,330.4 L562.3,330.6 L564.8,330.8 L567.3,331.1 L569.8,331.3 L572.3,331.6 L574.8,331.8 L577.3,332.1 L579.8,332.3 L582.3,332.6 L584.8,332.9 L587.3,333.2 L589.8,333.5 L592.3,333.8 L594.8,334.1 L597.3,334.4 L599.8,334.7 L602.3,335 L604.8,335.3 L607.2,335.7 L609.7,336 L612.2,336.3 L614.7,336.7 L617.2,337 L619.7,337.4 L622.2,337.7 L624.6,338.1 L627.1,338.5 L629.6,338.9 L632.1,339.2 L634.6,339.6 L637.1,340 L639.5,340.4 L642,340.8 L644.5,341.2 L647,341.6 L649.5,342 L651.9,342.5 L654.4,342.9 L656.9,343.3 L659.4,343.7 L661.9,344.2 L664.3,344.6 L666.8,345.1 L669.3,345.5 L671.8,345.9 L674.3,346.4 L676.7,346.8 L679.2,347.3 L681.7,347.8 L684.2,348.2 L686.7,348.7 L689.2,349.2 L691.6,349.6 L694.1,350.1 L696.6,350.6 L699.1,351.1 L701,351.4"/>
<path d="M385.2,375 L434.4,370.2"/>
<path d="M385.2,393 L387.7,393.2 L390.2,393.4 L392.7,393.6 L395.2,393.8 L397.7,394 L400.2,394.2 L402.7,394.4 L405.2,394.6 L407.7,394.8 L410.2,395 L412.7,395.2 L415.3,395.4 L417.8,395.6 L420.3,395.8 L422.8,396 L425.3,396.2 L427.8,396.4 L430.3,396.6 L432.8,396.8 L435.3,396.9 L437.8,397.1 L440.3,397.3 L442.8,397.5 L445.3,397.7 L447.8,397.8 L450.3,398 L452.8,398.2 L455.3,398.4 L457.8,398.5 L460.3,398.7 L462.8,398.9 L465.3,399 L467.8,399.2 L470.3,399.4 L472.8,399.5 L475.3,399.7 L477.8,399.9 L480.3,400 L482.8,400.2 L485.3,400.4 L487.8,400.5 L490.3,400.7 L492.8,400.8 L495.3,401 L497.8,401.1 L500.3,401.3 L502.8,401.4 L505.3,401.6 L507.8,401.7 L510.3,401.9 L512.8,402 L515.3,402.2 L517.9,402.3 L520.4,402.4 L522.9,402.6 L525.4,402.7 L527.9,402.9 L530.4,403 L532.9,403.1 L535.4,403.3 L537.9,403.4 L540.4,403.5 L542.9,403.7 L545.4,403.8 L547.9,403.9 L550.4,404 L552.9,404.2 L555.4,404.3 L557.9,404.4 L560.4,404.5 L562.9,404.7 L565.4,404.8 L567.9,404.9 L570.4,405 L572.9,405.1 L575.4,405.2 L577.9,405.4 L580.4,405.5 L582.9,405.6 L585.4,405.7 L587.9,405.8 L590.4,405.9 L592.9,406 L595.4,406.1 L597.9,406.2 L600.4,406.3 L602.9,406.4 L605.4,406.5 L607.9,406.6 L610.4,406.7 L612.9,406.8 L615.4,406.9 L617.9,407 L620.4,407.1 L622.9,407.2 L625.4,407.3 L627.9,407.4 L630.4,407.5 L632.9,407.6 L635.4,407.7 L637.9,407.7 L640.4,407.8 L642.9,407.9 L645.4,408 L647.9,408.1 L650.4,408.2 L652.9,408.2 L655.4,408.3 L657.9,408.4 L660.4,408.5 L662.9,408.6 L665.4,408.6 L667.9,408.7 L670.4,408.8 L672.9,408.8 L675.4,408.9 L677.9,409 L680.4,409 L682.9,409.1 L685.4,409.2 L687.9,409.2 L690.4,409.3 L692.9,409.4 L695.4,409.4 L697.9,409.5 L700.4,409.6 L702.9,409.6 L705.4,409.7 L707.9,409.7 L710.4,409.8 L712.9,409.8 L715.4,409.9 L717.9,409.9 L720.4,410 L722.9,410 L725.4,410.1 L727.9,410.1 L730.4,410.2 L732.9,410.2 L735.4,410.3 L737.9,410.3 L740.4,410.4 L742.9,410.4 L745.4,410.4 L747.9,410.5 L750.4,410.5 L752.9,410.6 L755.4,410.6 L757.9,410.6 L760.4,410.7 L762.9,410.7 L765.5,410.7 L768,410.8 L770.5,410.8 L773,410.8 L775.5,410.9 L778,410.9 L780.5,410.9 L783,410.9 L785.5,411 L788,411 L790.5,411 L793,411 L795.5,411.1 L798,411.1 L800.5,411.1 L803,411.1 L805.5,411.1 L808,411.1 L810.5,411.2 L813,411.2 L815.5,411.2 L818,411.2 L820.5,411.2 L823,411.2 L825.5,411.2 L828,411.2 L830.5,411.3 L833,411.3 L835.5,411.3 L838,411.3 L840.5,411.3 L843.1,411.3 L845.6,411.3 L848.1,411.3 L850.6,411.3 L853.1,411.3 L855.6,411.3 L858.1,411.3 L860.6,411.3 L863.1,411.3 L865.6,411.3 L868.1,411.3 L870.6,411.3 L873.1,411.3 L875.6,411.2 L878.1,411.2 L880.6,411.2 L883.1,411.2 L885.6,411.2 L888.2,411.2 L890.7,411.2 L893.2,411.2 L895.7,411.1 L898.2,411.1 L900.7,411.1 L903.2,411.1 L905.7,411.1 L908.2,411.1 L910.7,411 L913.2,411 L915.7,411 L918.2,411 L920.7,410.9 L923.3,410.9 L925.8,410.9 L928.3,410.9 L930.8,410.8 L933.3,410.8 L935.8,410.8 L938.3,410.8 L940.8,410.7 L943.3,410.7 L945.8,410.7 L948.3,410.6 L950.8,410.6 L953.4,410.6 L955.9,410.5 L958.4,410.5 L960.9,410.5 L963.4,410.4 L965.9,410.4 L968.4,410.3 L970.9,410.3 L973.4,410.3 L975.9,410.2 L978.5,410.2 L981,410.1 L983.5,410.1 L986,410 L988.5,410 L991,410 L993.5,409.9 L996,409.9 L998.6,409.8 L1001.1,409.8 L1003.6,409.7 L1006.1,409.7 L1008.6,409.6 L1011.1,409.6 L1013.6,409.5 L1016.1,409.5 L1018.7,409.4 L1021.2,409.4 L1023.7,409.3 L1026.2,409.3 L1028.7,409.2 L1031.2,409.2 L1033.7,409.1 L1036.2,409.1 L1038.8,409 L1041.3,409 L1043.8,408.9 L1046.3,408.9 L1048.8,408.8 L1051.3,408.8 L1053.8,408.7 L1056.3,408.7 L1058.9,408.6 L1061.4,408.6 L1063.9,408.5 L1066.4,408.5 L1068.9,408.5 L1071.4,408.4 L1073.9,408.4 L1076.5,408.3 L1079,408.3 L1081.5,408.3 L1084,408.2 L1086.5,408.2 L1089,408.1 L1091.5,408.1 L1094,408.1 L1096.6,408.1 L1099.1,408 L1101.6,408 L1104.1,408 L1106.6,407.9 L1109.1,407.9 L1111.6,407.9 L1114.1,407.9 L1116.6,407.9 L1119.2,407.9 L1121.7,407.8 L1124.2,407.8 L1126.7,407.8 L1129.2,407.8 L1131.7,407.8 L1134.2,407.8 L1136.7,407.8 L1139.2,407.8 L1141.8,407.8 L1144.3,407.8 L1146.8,407.8 L1149.3,407.9 L1151.8,407.9 L1154.3,407.9 L1156.8,407.9 L1159.3,407.9 L1161.8,408 L1164.3,408 L1166.8,408 L1169.3,408.1 L1171.8,408.1 L1174.4,408.1 L1176.9,408.2 L1179.4,408.2 L1181.9,408.3 L1184.4,408.3 L1186.9,408.4 L1189.4,408.5 L1191.9,408.5 L1194.4,408.6 L1196.9,408.7 L1199.4,408.7 L1201.9,408.8 L1204.4,408.9 L1206.9,409 L1209.4,409.1 L1211.9,409.2 L1214.4,409.3 L1216.9,409.4 L1219.4,409.5 L1221.9,409.6 L1224.4,409.7 L1226.9,409.8 L1229.4,410 L1231.9,410.1 L1234.4,410.2 L1236.9,410.4 L1239.4,410.5 L1241.9,410.6 L1244.4,410.8 L1246.9,410.9 L1249.4,411.1 L1251.9,411.3 L1254.4,411.4 L1256.9,411.6 L1259.4,411.8 L1261.9,412 L1264.3,412.2 L1266.8,412.4 L1269.3,412.6 L1271.8,412.8 L1274.3,413 L1276.8,413.2 L1279.3,413.4 L1281.8,413.6 L1284.3,413.9 L1286.8,414.1 L1289.2,414.3 L1291.7,414.6 L1294.2,414.8 L1296.7,415.1 L1299.2,415.4 L1301.7,415.6 L1304.1,415.9 L1306.6,416.2 L1309.1,416.5 L1311.6,416.8 L1314.1,417.1 L1316.5,417.4 L1319,417.7 L1321.5,418.1 L1323.9,418.4 L1326.4,418.7 L1328.9,419.1 L1331.4,419.4 L1333.8,419.8 L1336.3,420.2 L1338.7,420.6 L1341.2,420.9 L1343.7,421.3 L1346.1,421.7 L1348.6,422.2 L1351,422.6 L1353.5,423 L1355.9,423.4 L1358.4,423.9 L1360.8,424.3 L1363.3,424.8 L1365.7,425.3 L1368.2,425.8 L1370.6,426.2 L1373.1,426.7 L1375.5,427.3 L1377.9,427.8 L1380.4,428.3 L1382.8,428.8 L1385.2,429.4 L1387.7,429.9 L1390.1,430.5 L1392.5,431.1 L1394.9,431.7 L1397.3,432.3 L1399.8,432.9 L1402.2,433.5 L1404.6,434.1 L1407,434.7 L1409.4,435.4 L1411.8,436 L1414.2,436.7 L1416.6,437.4 L1419,438.1 L1421.4,438.8 L1423.8,439.5 L1426.2,440.2 L1428.5,441 L1430.9,441.7 L1433.3,442.5 L1435.7,443.2 L1438,444 L1440.4,444.8 L1442.8,445.6 L1445.1,446.4 L1447.5,447.3 L1449.9,448.1 L1452.2,449 L1454.6,449.8 L1456.9,450.7 L1459.3,451.6 L1461.6,452.5 L1463.9,453.4 L1466.3,454.3 L1468.6,455.3 L1470.9,456.2 L1473.3,457.2 L1475.6,458.2 L1477.9,459.2 L1480.2,460.2 L1482.5,461.2 L1484.8,462.3 L1487.1,463.3 L1489.4,464.4 L1491.7,465.5 L1494,466.5 L1496.3,467.7 L1498.6,468.8 L1500.4,469.7"/>
<path d="M337.6,398.4 L339.9,399.4 L342.3,400.4 L344.6,401.3 L347,402.3 L349.3,403.2 L351.7,404.2 L354,405.1 L356.4,406 L358.7,407 L361.1,407.9 L363.4,408.8 L365.8,409.6 L368.2,410.5 L370.5,411.4 L372.9,412.3 L375.2,413.1 L377.6,414 L380,414.8 L382.4,415.6 L384.7,416.5 L387.1,417.3 L389.5,418.1 L391.9,418.9 L394.3,419.7 L396.7,420.5 L399,421.2 L401.4,422 L403.8,422.8 L406.2,423.5 L408.6,424.3 L411,425 L413.4,425.7 L415.8,426.4 L418.2,427.2 L420.6,427.9 L423,428.6 L425.4,429.3 L427.8,429.9 L430.2,430.6 L432.6,431.3 L435.1,432 L437.5,432.6 L439.9,433.3 L442.3,433.9 L444.7,434.5 L447.1,435.2 L449.6,435.8 L452,436.4 L454.4,437 L456.8,437.6 L459.3,438.2 L461.7,438.8 L464.1,439.4 L466.6,440 L469,440.5 L471.4,441.1 L473.9,441.6 L476.3,442.2 L478.8,442.7 L481.2,443.3 L483.6,443.8 L486.1,444.3 L488.5,444.9 L491,445.4 L493.4,445.9 L495.9,446.4 L498.3,446.9 L500.8,447.4 L503.2,447.9 L505.7,448.3 L508.2,448.8 L510.6,449.3 L513.1,449.7 L515.5,450.2 L518,450.6 L520.5,451.1 L522.9,451.5 L525.4,452 L527.8,452.4 L530.3,452.8 L532.8,453.2 L535.3,453.6 L537.7,454.1 L540.2,454.5 L542.7,454.9 L545.1,455.3 L547.6,455.6 L550.1,456 L552.6,456.4 L555,456.8 L557.5,457.1 L560,457.5 L562.5,457.9 L565,458.2 L567.4,458.6 L569.9,458.9 L572.4,459.3 L574.9,459.6 L577.4,459.9 L579.9,460.3 L582.4,460.6 L584.8,460.9 L587.3,461.2 L589.8,461.5 L592.3,461.9 L594.8,462.2 L597.3,462.5 L599.8,462.8 L602.3,463.1 L604.8,463.3 L607.3,463.6 L609.8,463.9 L612.3,464.2 L614.8,464.5 L617.3,464.7 L619.8,465 L622.3,465.3 L624.8,465.5 L627.3,465.8 L629.8,466 L632.3,466.3 L634.8,466.5 L637.3,466.8 L639.8,467 L642.3,467.3 L644.8,467.5 L647.3,467.7 L649.8,468 L652.3,468.2 L654.8,468.4 L657.3,468.6 L659.8,468.8 L662.3,469.1 L664.8,469.3 L667.4,469.5 L669.9,469.7 L672.4,469.9 L674.9,470.1 L677.4,470.3 L679.9,470.5 L682.4,470.7 L684.9,470.9 L687.4,471.1 L690,471.3 L692.5,471.5 L695,471.6 L697.5,471.8 L700,472 L702.5,472.2 L705,472.4 L707.5,472.5 L710.1,472.7 L712.6,472.9 L715.1,473 L717.6,473.2 L720.1,473.4 L722.6,473.5 L725.1,473.7 L727.7,473.9 L730.2,474 L732.7,474.2 L735.2,474.3 L737.7,474.5 L740.2,474.7 L742.7,474.8 L745.3,475 L747.8,475.1 L750.3,475.3 L752.8,475.4 L755.3,475.6 L757.8,475.7 L760.4,475.9 L762.9,476 L765.4,476.2 L767.9,476.3 L770.4,476.4 L772.9,476.6 L775.4,476.7 L778,476.9 L780.5,477 L783,477.2 L785.5,477.3 L788,477.4 L790.5,477.6 L793,477.7 L795.5,477.9 L798.1,478 L800.6,478.2 L803.1,478.3 L805.6,478.4 L808.1,478.6 L810.6,478.7 L813.1,478.9 L815.6,479 L818.1,479.1 L820.7,479.3 L823.2,479.4 L825.7,479.6 L828.2,479.7 L830.7,479.9 L833.2,480 L835.7,480.1 L838.2,480.3 L840.7,480.4 L843.2,480.6 L845.7,480.7 L848.2,480.9 L850.7,481 L853.2,481.2 L855.7,481.3 L858.2,481.5 L860.7,481.6 L863.2,481.8 L865.7,482 L868.2,482.1 L870.7,482.3 L873.2,482.4 L875.7,482.6 L878.2,482.8 L880.7,482.9 L883.2,483.1 L885.7,483.3 L888.2,483.4 L890.7,483.6 L893.2,483.8 L895.7,483.9 L898.2,484.1 L900.7,484.3 L902.3,484.4"/>
<path d="M313,398.2 L500.4,726.9"/>
<path d="M310,398.2 L310.4,400.7 L310.7,403.2 L311.1,405.8 L311.5,408.3 L311.9,410.8 L312.3,413.3 L312.7,415.8 L313.1,418.3 L313.5,420.8 L313.9,423.3 L314.4,425.8 L314.8,428.3 L315.2,430.8 L315.7,433.2 L316.2,435.7 L316.6,438.2 L317.1,440.7 L317.6,443.1 L318.1,445.6 L318.5,448.1 L319,450.5 L319.5,453 L320.1,455.4 L320.6,457.9 L321.1,460.3 L321.6,462.8 L322.2,465.2 L322.7,467.7 L323.2,470.1 L323.8,472.6 L324.3,475 L324.9,477.4 L325.5,479.9 L326,482.3 L326.6,484.7 L327.2,487.1 L327.8,489.6 L328.4,492 L329,494.4 L329.6,496.8 L330.2,499.2 L330.8,501.7 L331.4,504.1 L332,506.5 L332.7,508.9 L333.3,511.3 L333.9,513.7 L334.6,516.1 L335.2,518.5 L335.9,520.9 L336.5,523.3 L337.2,525.7 L337.8,528.1 L338.5,530.5 L339.2,532.9 L339.8,535.3 L340.5,537.7 L341.2,540.1 L341.9,542.5 L342.6,544.9 L343.2,547.3 L343.9,549.7 L344.6,552.1 L345.3,554.5 L346,556.9 L346.7,559.3 L347.5,561.7 L348.2,564.1 L348.9,566.5 L349.6,568.9 L350.3,571.3 L351,573.7 L351.8,576.1 L352.5,578.5 L353.2,580.9 L354,583.3 L354.7,585.7 L355.4,588.1 L356.2,590.5 L356.9,592.9 L357.7,595.3 L358.4,597.7 L359.2,600.1 L359.9,602.5 L360.7,604.9 L361.4,607.3 L362.2,609.7 L363,612.1 L363.7,614.4 L364.5,616.8 L365.3,619.2 L366.1,621.6 L366.9,624 L367.6,626.4 L368.4,628.8 L369.2,631.2 L370,633.6 L370.8,636 L371.7,638.4 L372.5,640.8 L373.3,643.2 L374.1,645.6 L374.9,647.9 L375.8,650.3 L376.6,652.7 L377.4,655.1 L378.3,657.5 L379.1,659.8 L380,662.2 L380.9,664.6 L381.7,666.9 L382.6,669.3 L383.5,671.7 L384.4,674 L385.3,676.4 L386.1,678.8 L387,681.1 L388,683.5 L388.9,685.8 L389.8,688.2 L390.7,690.5 L391.6,692.8 L392.6,695.2 L393.5,697.5 L394.5,699.9 L395.4,702.2 L396.4,704.5 L397.4,706.8 L398.3,709.1 L399.3,711.5 L400.3,713.8 L401.3,716.1 L402.3,718.4 L403.3,720.7 L404.4,723 L405.4,725.3 L406.4,727.6 L407.5,729.8 L408.5,732.1 L409.6,734.4 L410.6,736.7 L411.7,738.9 L412.8,741.2 L413.9,743.4 L415,745.7 L416.1,747.9 L417.2,750.2 L418.3,752.4 L419.5,754.6 L420.6,756.9 L421.8,759.1 L422.9,761.3 L424.1,763.5 L425.3,765.7 L426.5,767.9 L427.7,770.1 L428.9,772.3 L430.1,774.5 L431.3,776.7 L432.5,778.8 L433.8,781 L435,783.2 L436.3,785.3 L437.6,787.5 L438.9,789.6 L440.2,791.7 L441.5,793.9 L442.8,796 L444.1,798.1 L445.4,800.2 L446.8,802.3 L448.1,804.4 L449.5,806.5 L450.9,808.6 L452.2,810.7 L453.6,812.7 L455,814.8 L456.4,816.9 L457.8,818.9 L459.2,821 L460.7,823 L462.1,825.1 L463.5,827.1 L465,829.2 L466.4,831.2 L467.9,833.2 L469.3,835.3 L470.8,837.3 L472.3,839.3 L473.8,841.3 L475.3,843.3 L476.8,845.3 L478.2,847.4 L479.8,849.4 L481.3,851.4 L482.8,853.3 L484.3,855.3 L485.8,857.3 L487.3,859.3 L488.9,861.3 L490.4,863.3 L491.9,865.3 L493.5,867.3 L495,869.2 L496.6,871.2 L498.1,873.2 L499.7,875.2 L501.2,877.1 L502.8,879.1 L504.3,881.1 L505.9,883 L507.4,885 L509,887 L510.6,888.9 L512.1,890.9 L513.7,892.8 L515.3,894.8 L516.9,896.8 L518.4,898.7 L520,900.7 L521.6,902.6 L523.2,904.6 L524.7,906.6 L526.3,908.5 L527.9,910.5 L529.5,912.4 L531.1,914.4 L532.7,916.3 L534.3,918.3 L535.9,920.2 L537.5,922.2 L539.1,924.1 L540.7,926.1 L542.2,928 L543.8,930 L545.4,931.9 L547,933.9 L548.6,935.8 L550.2,937.8 L551.8,939.7 L553.5,941.7 L555.1,943.6 L556.7,945.6 L558.3,947.5 L559.9,949.5 L561.5,951.4 L563.1,953.4 L564.7,955.3 L566.3,957.3 L567.9,959.2 L569.5,961.2 L571.2,963.1 L572.8,965 L574.4,967 L576.1,968.9 L577.7,970.8 L579.3,972.7 L581,974.6 L582.6,976.5 L584.3,978.4 L586,980.3 L587.6,982.2 L589.3,984.1 L591,986 L592.7,987.8 L594.4,989.7 L596.1,991.5 L597.8,993.3 L599.5,995.1 L601.3,996.9 L603,998.7 L604.8,1000.5 L606.5,1002.3 L608.3,1004.1 L610.1,1005.8 L611.9,1007.5 L613.7,1009.2 L615.5,1011 L617.3,1012.6 L619.1,1014.3 L621,1016 L622.8,1017.6 L624.7,1019.3 L626.6,1020.9 L628.5,1022.5 L630.4,1024 L632.3,1025.6 L634.3,1027.1 L636.2,1028.7 L638.2,1030.2 L640.2,1031.7 L642.2,1033.1 L644.2,1034.6 L646.2,1036 L648.3,1037.4 L650.4,1038.8 L652.4,1040.1 L654.5,1041.5 L656.7,1042.8 L658.8,1044.1 L660.9,1045.3 L663.1,1046.6 L665.3,1047.8 L667.5,1049 L669.7,1050.2 L672,1051.3 L673.8,1052.2"/>
<path d="M573.5,245.6 L576,244.7 L578.5,243.8 L580.9,242.7 L583.2,241.6 L585.5,240.5 L587.8,239.2 L589.9,238 L592.1,236.6 L594.2,235.2 L596.3,233.8 L598.3,232.3 L600.3,230.7 L602.2,229.2 L604.2,227.5 L606.1,225.9 L607.9,224.2 L609.8,222.4 L611.6,220.7 L613.4,218.9 L615.2,217.1 L616.9,215.3 L618.7,213.4 L620.4,211.6 L622.2,209.7 L623.9,207.8 L625.6,205.9 L627.3,204.1 L629.1,202.2 L630.8,200.3 L632.5,198.4 L634.3,196.5 L636,194.7 L637.8,192.8 L639.5,191 L641.3,189.2 L643.2,187.4 L645,185.6 L646.8,183.9 L648.7,182.2 L650.6,180.5 L652.5,178.8 L654.5,177.2 L656.4,175.5 L658.4,173.9 L660.4,172.4 L662.4,170.8 L664.4,169.3 L666.5,167.8 L668.6,166.3 L670.6,164.9 L672.8,163.5 L674.9,162.1 L677,160.7 L679.2,159.4 L681.4,158.1 L683.6,156.8 L685.8,155.6 L688.1,154.3 L690.3,153.1 L692.6,152 L694.9,150.8 L696.9,149.9"/>
<path d="M577,246 L668.1,223.2"/>
<path d="M600,258.3 L637.2,258.3"/>
<path d="M580.5,271.5 L583,272 L585.4,272.5 L587.9,273 L590.3,273.5 L592.8,273.9 L595.3,274.4 L597.7,274.9 L600.2,275.4 L602.7,275.8 L605.1,276.3 L607.6,276.7 L610.1,277.2 L612.5,277.6 L615,278.1 L617.5,278.5 L619.9,279 L622.4,279.4 L624.9,279.8 L627.3,280.3 L629.8,280.7 L632.3,281.1 L634.8,281.5 L637.2,281.9 L639.7,282.3 L642.2,282.8 L644.6,283.2 L647.1,283.6 L649.6,284 L652.1,284.3 L654.5,284.7 L657,285.1 L659.5,285.5 L662,285.9 L664.5,286.3 L666.9,286.6 L669.4,287 L671.9,287.4 L674.4,287.7 L676.9,288.1 L679.3,288.5 L681.8,288.8 L684.3,289.2 L686.8,289.5 L689.3,289.9 L691.8,290.2 L694.2,290.6 L696.7,290.9 L699.2,291.2 L701.7,291.6 L704.2,291.9 L706.7,292.2 L709.2,292.6 L711.6,292.9 L714.1,293.2 L716.6,293.5 L719.1,293.8 L721.6,294.2 L724.1,294.5 L726.6,294.8 L729.1,295.1 L731.5,295.4 L734,295.7 L736.5,296 L739,296.3 L741.5,296.6 L744,296.9 L746.5,297.2 L749,297.5 L751.5,297.7 L754,298 L756.5,298.3 L759,298.6 L761.4,298.9 L763.9,299.1 L766.4,299.4 L768.9,299.7 L771.4,300 L773.9,300.2 L776.4,300.5 L778.9,300.8 L781.4,301 L783.9,301.3 L786.4,301.6 L788.9,301.8 L791.4,302.1 L793.9,302.3 L796.4,302.6 L798.9,302.8 L801.4,303.1 L803.9,303.3 L806.4,303.6 L808.9,303.8 L811.4,304.1 L813.9,304.3 L816.4,304.6 L818.9,304.8 L821.4,305.1 L823.9,305.3 L826.4,305.5 L828.9,305.8 L831.4,306 L833.9,306.3 L836.4,306.5 L838.9,306.7 L841.4,307 L843.9,307.2 L846.4,307.4 L848.9,307.7 L851.4,307.9 L853.9,308.1 L856.4,308.3 L858.9,308.6 L861.4,308.8 L863.9,309 L866.4,309.2 L868.9,309.5 L871.4,309.7 L873.9,309.9 L876.4,310.1 L878.9,310.4 L881.4,310.6 L883.9,310.8 L886.4,311 L888.9,311.2 L891.4,311.5 L893.9,311.7 L896.4,311.9 L898.9,312.1 L901.4,312.3 L903.9,312.6 L906.4,312.8 L908.9,313 L911.4,313.2 L913.9,313.4 L916.4,313.6 L918.9,313.9 L921.4,314.1 L923.9,314.3 L926.4,314.5 L928.9,314.7 L931.4,315 L934,315.2 L936.5,315.4 L939,315.6 L941.5,315.8 L944,316 L946.5,316.3 L949,316.5 L951.5,316.7 L954,316.9 L956.5,317.1 L959,317.4 L961.5,317.6 L964,317.8 L966.5,318 L969,318.3 L971.5,318.5 L974,318.7 L976.5,318.9 L979,319.2 L981.5,319.4 L984,319.6 L986.5,319.8 L989,320.1 L991.5,320.3 L994,320.5 L996.5,320.8 L999,321 L1001.5,321.2 L1004,321.5 L1006.5,321.7 L1009,321.9 L1011.5,322.2 L1014,322.4 L1016.5,322.7 L1019,322.9 L1021.5,323.1 L1024,323.4 L1026.5,323.6 L1029,323.9 L1031.5,324.1 L1034,324.4 L1036.4,324.6 L1038.9,324.9 L1041.4,325.1 L1043.9,325.4 L1046.4,325.6 L1048.9,325.9 L1051.4,326.2 L1053.9,326.4 L1056.4,326.7 L1058.9,326.9 L1061.4,327.2 L1063.9,327.5 L1066.4,327.7 L1068.9,328 L1071.4,328.3 L1073.9,328.6 L1076.3,328.8 L1078.8,329.1 L1081.3,329.4 L1083.8,329.7 L1086.3,330 L1088.8,330.2 L1091.3,330.5 L1093.8,330.8 L1096.3,331.1 L1098.8,331.4 L1101.3,331.7 L1103.7,332 L1106.2,332.3 L1108.7,332.6 L1111.2,332.9 L1113.7,333.2 L1116.2,333.5 L1118.7,333.8 L1121.2,334.1 L1123.7,334.4 L1126.1,334.7 L1128.6,335 L1131.1,335.3 L1133.6,335.6 L1136.1,336 L1138.6,336.3 L1141.1,336.6 L1143.5,336.9 L1146,337.2 L1148.5,337.6 L1151,337.9 L1153.5,338.2 L1156,338.6 L1158.5,338.9 L1160.9,339.2 L1163.4,339.6 L1165.9,339.9 L1168.4,340.2 L1170.9,340.6 L1173.4,340.9 L1175.8,341.3 L1178.3,341.6 L1180.8,342 L1183.3,342.3 L1185.8,342.7 L1188.3,343 L1190.7,343.4 L1193.2,343.8 L1195.7,344.1 L1198.2,344.5 L1200.7,344.9 L1203.1,345.2 L1205.6,345.6 L1208.1,346 L1210.6,346.4 L1213.1,346.7 L1215.6,347.1 L1218,347.5 L1220.5,347.9 L1223,348.3 L1225.5,348.7 L1228,349 L1230.4,349.4 L1232.9,349.8 L1235.4,350.2 L1237.9,350.6 L1240.4,351 L1242.8,351.4 L1245.3,351.8 L1247.8,352.2 L1250.3,352.7 L1252.7,353.1 L1255.2,353.5 L1257.7,353.9 L1260.2,354.3 L1262.7,354.7 L1265.1,355.2 L1267.6,355.6 L1270.1,356 L1272.6,356.4 L1275,356.9 L1277.5,357.3 L1280,357.8 L1282.5,358.2 L1285,358.6 L1287.4,359.1 L1289.9,359.5 L1292.4,360 L1294.9,360.4 L1297.3,360.9 L1299.8,361.3 L1302.3,361.8 L1304.8,362.3 L1307.3,362.7 L1309.7,363.2 L1312.2,363.6 L1314.7,364.1 L1317.2,364.6 L1319.6,365.1 L1322.1,365.5 L1324.6,366 L1327.1,366.5 L1329.5,367 L1332,367.5 L1334.5,368 L1337,368.5 L1339.4,369 L1341.9,369.5 L1344.4,370 L1346.9,370.5 L1349.3,371 L1351.8,371.5 L1354.3,372 L1356.7,372.6 L1359.2,373.1 L1361.7,373.7 L1364.1,374.2 L1366.6,374.8 L1369,375.4 L1371.5,376 L1373.9,376.6 L1376.3,377.2 L1378.8,377.8 L1381.2,378.4 L1383.6,379.1 L1386,379.7 L1388.4,380.4 L1390.8,381.1 L1393.2,381.8 L1395.6,382.5 L1398,383.3 L1400.4,384 L1402.8,384.8 L1405.1,385.6 L1407.5,386.4 L1409.8,387.2 L1412.2,388.1 L1414.5,388.9 L1416.8,389.8 L1419.1,390.7 L1421.4,391.7 L1423.7,392.6 L1426,393.6 L1428.3,394.6 L1430.5,395.6 L1432.8,396.7 L1435,397.7 L1437.3,398.8 L1439.5,400 L1441.7,401.1 L1443.9,402.3 L1446,403.5 L1448.2,404.7 L1450.4,406 L1452.5,407.2 L1454.6,408.5 L1456.7,409.9 L1458.8,411.2 L1460.9,412.6 L1463,414 L1465.1,415.4 L1467.1,416.9 L1469.1,418.4 L1471.1,419.9 L1473.1,421.4 L1475.1,422.9 L1477,424.5 L1479,426.1 L1480.9,427.7 L1482.8,429.4 L1484.7,431.1 L1486.6,432.8 L1488.4,434.5 L1490.2,436.2 L1492,438 L1493.8,439.8 L1495.6,441.6 L1497.4,443.4 L1499.1,445.3 L1500.8,447.2 L1502.5,449.1 L1504.2,451 L1505.8,453 L1507.4,454.9 L1509,456.9 L1510.6,458.9 L1512.2,461 L1513.5,462.7"/>
<path d="M776.3,118.8 L910.4,72.7"/>
<path d="M779.7,118.8 L782.1,118 L784.5,117.2 L786.9,116.5 L789.4,115.7 L791.8,115 L794.2,114.2 L796.6,113.5 L799.1,112.8 L801.5,112.1 L803.9,111.5 L806.3,110.8 L808.8,110.2 L811.2,109.5 L813.7,108.9 L816.1,108.3 L818.5,107.7 L821,107.1 L823.4,106.5 L825.9,106 L828.3,105.5 L830.8,104.9 L833.2,104.4 L835.7,103.9 L838.1,103.4 L840.6,103 L843.1,102.5 L845.5,102.1 L848,101.7 L850.4,101.2 L852.9,100.9 L855.4,100.5 L857.9,100.1 L860.3,99.8 L862.8,99.4 L865.3,99.1 L867.8,98.8 L870.2,98.5 L872.7,98.2 L875.2,98 L877.7,97.7 L880.2,97.5 L882.7,97.3 L885.2,97.1 L887.6,96.9 L890.1,96.7 L892.6,96.6 L895.1,96.4 L897.6,96.3 L900.1,96.2 L902.6,96.1 L905.1,96 L907.6,96 L910.1,95.9 L912.7,95.9 L915.2,95.9 L917.7,95.9 L920.2,95.9 L922.7,96 L925.2,96 L927.7,96.1 L930.3,96.2 L932.8,96.3 L935.3,96.4 L937.8,96.6 L940.4,96.7 L942.9,96.9 L945.4,97.1 L947.9,97.3 L950.5,97.5 L953,97.8 L955.5,98 L958,98.3 L960.6,98.6 L963.1,99 L965.6,99.3 L968.1,99.7 L970.6,100.1 L973.1,100.6 L975.6,101 L978.1,101.5 L980.5,102 L983,102.5 L985.5,103.1 L987.9,103.7 L990.4,104.3 L992.8,104.9 L995.2,105.6 L997.7,106.3 L1000.1,107.1 L1002.5,107.8 L1004.8,108.6 L1007.2,109.5 L1009.6,110.3 L1011.9,111.2 L1014.2,112.2 L1016.6,113.1 L1018.9,114.2 L1021.1,115.2 L1023.4,116.3 L1025.7,117.4 L1027.9,118.5 L1030.1,119.7 L1032.3,121 L1034.5,122.2 L1036.6,123.6 L1038.8,124.9 L1040.9,126.3 L1043,127.7 L1045.1,129.2 L1047.1,130.7 L1049.2,132.3 L1051.1,133.9 L1053.1,135.6 L1055,137.3 L1056.8,139 L1058.6,140.8 L1060.3,142.6 L1062,144.5 L1063.5,146.5 L1065,148.5 L1066.4,150.5 L1067.6,152.6 L1068.8,154.7 L1069.9,156.9 L1070.8,159.1 L1071.7,161.4 L1072.4,163.7 L1073,166.1 L1073.6,168.5 L1074.1,170.9 L1074.5,173.4 L1074.8,175.9 L1075.1,178.4 L1075.3,181 L1075.4,183.5 L1075.5,186.1 L1075.6,188.6 L1075.6,191.2 L1075.6,193.8 L1075.5,196.4 L1075.4,199 L1075.4,201.6 L1075.3,204.2 L1075.1,206.8 L1075,209.3 L1074.9,211.9 L1074.8,214.5 L1074.7,217.1 L1074.5,219.6 L1074.4,222.2 L1074.4,224.8 L1074.3,227.3 L1074.3,229.9 L1074.3,232.4 L1074.3,234.9 L1074.4,237.4 L1074.5,239.9 L1074.7,242.4 L1074.9,244.9 L1075.1,247.3 L1075.5,249.8 L1075.8,252.2 L1076.3,254.6 L1076.8,257 L1077.4,259.4 L1078.1,261.7 L1078.8,264.1 L1079.7,266.4 L1080.6,268.7 L1081.6,271 L1082.7,273.2 L1083.9,275.4 L1085.2,277.6 L1086.5,279.8 L1087.9,281.9 L1089.4,284 L1090.9,286 L1092.6,288 L1094.2,289.9 L1096,291.8 L1097.8,293.6 L1099.6,295.4 L1101.5,297.1 L1103.5,298.8 L1105.5,300.4 L1107.6,301.9 L1109.7,303.4 L1111.8,304.8 L1114,306.1 L1116.2,307.4 L1118.4,308.6 L1120.7,309.7 L1123,310.8 L1125.4,311.8 L1127.7,312.8 L1130.1,313.7 L1132.5,314.5 L1134.9,315.4 L1137.4,316.1 L1139.8,316.9 L1142.3,317.6 L1144.7,318.2 L1147.2,318.8 L1149.7,319.4 L1152.2,319.9 L1154.6,320.4 L1157.1,320.9 L1159.6,321.4 L1162.1,321.8 L1164.6,322.2 L1167.1,322.5 L1169.6,322.9 L1172.1,323.1 L1174.6,323.4 L1177.1,323.6 L1179.6,323.9 L1182.1,324 L1184.6,324.2 L1187.1,324.3 L1189.6,324.4 L1192.1,324.5 L1194.6,324.5 L1197.1,324.5 L1199.6,324.5 L1202.1,324.5 L1204.6,324.5 L1207.1,324.4 L1209.6,324.3 L1212.1,324.2 L1214.6,324 L1217.1,323.9 L1219.6,323.7 L1222.1,323.5 L1224.6,323.3 L1227.1,323 L1229.6,322.8 L1232.1,322.5 L1234.5,322.2 L1237,322 L1239.5,321.7 L1242,321.4 L1244.5,321.1 L1247,320.8 L1249.5,320.4 L1252,320.1 L1254.5,319.8 L1257,319.5 L1259.5,319.2 L1262,318.8 L1264.5,318.5 L1267,318.2 L1269.5,317.9 L1272,317.6 L1274.5,317.4 L1277,317.1 L1279.5,316.8 L1282,316.6 L1284.5,316.4 L1287,316.1 L1289.5,315.9 L1292,315.7 L1294.6,315.5 L1297.1,315.4 L1299.6,315.2 L1302.1,315.1 L1304.6,315 L1307.1,314.8 L1309.6,314.7 L1312.2,314.7 L1314.7,314.6 L1317.2,314.6 L1319.7,314.5 L1322.2,314.5 L1324.7,314.6 L1327.2,314.6 L1329.7,314.6 L1332.3,314.7 L1334.8,314.8 L1337.3,314.9 L1339.8,315.1 L1342.3,315.2 L1344.8,315.4 L1347.3,315.6 L1349.8,315.9 L1352.3,316.1 L1354.8,316.4 L1357.2,316.7 L1359.7,317.1 L1362.2,317.4 L1364.7,317.8 L1367.2,318.2 L1369.7,318.7 L1372.1,319.2 L1374.6,319.7 L1377.1,320.2 L1379.5,320.8 L1382,321.4 L1384.4,322 L1386.9,322.6 L1389.3,323.3 L1391.8,324.1 L1394.2,324.8 L1396.6,325.6 L1399,326.4 L1401.4,327.3 L1403.8,328.2 L1406.2,329.2 L1408.5,330.2 L1410.8,331.2 L1413.1,332.3 L1415.3,333.4 L1417.5,334.6 L1419.7,335.9 L1421.8,337.2 L1423.9,338.5 L1426,339.9 L1428,341.4 L1430,342.9 L1431.9,344.4 L1433.9,346 L1435.7,347.6 L1437.6,349.3 L1439.4,351 L1441.3,352.7 L1443.1,354.4 L1444.8,356.2 L1446.6,358 L1448.4,359.8 L1450.1,361.6 L1451.8,363.4 L1453.6,365.3 L1455.3,367.1 L1457,369 L1458.7,370.9 L1460.4,372.7 L1462.1,374.6 L1463.8,376.5 L1465.5,378.4 L1467.1,380.3 L1468.8,382.3 L1470.5,384.2 L1472.1,386.1 L1473.7,388.1 L1475.4,390 L1477,392 L1478.6,393.9 L1480.2,395.9 L1481.8,397.8 L1483.4,399.8 L1485,401.8 L1486.6,403.8 L1488.1,405.7 L1489.7,407.7 L1491.2,409.7 L1492.8,411.7 L1494.3,413.6 L1495.8,415.6 L1497.3,417.6 L1498.8,419.6 L1500.3,421.6 L1501.7,423.7 L1503.2,425.7 L1504.6,427.7 L1505.9,429.8 L1507.3,431.9 L1508.6,434 L1509.9,436.1 L1511.2,438.2 L1512.4,440.4 L1513.6,442.5 L1514.7,444.7 L1515.8,447 L1516.9,449.2 L1517.9,451.5 L1518.9,453.8 L1519.8,456.1 L1520.7,458.5 L1521.4,460.6"/>
<path d="M1049.2,55.6 L1117.1,55.6"/>
<path d="M795.3,195.2 L891.5,172.5"/>
<path d="M815,207.8 L890.3,207.8"/>
<path d="M795.3,246 L891.4,224.2"/>
<path d="M823.2,258.3 L867.9,258.3"/>
<path d="M760.7,361 L763.2,361 L765.7,361 L768.2,361 L770.7,361 L773.3,361 L775.8,361 L778.3,361 L780.8,361 L783.3,360.9 L785.8,360.9 L788.3,360.8 L790.8,360.7 L793.4,360.7 L795.9,360.6 L798.4,360.5 L800.9,360.4 L803.4,360.3 L805.9,360.2 L808.4,360.1 L810.9,359.9 L813.4,359.8 L815.9,359.6 L818.5,359.5 L821,359.3 L823.5,359.1 L826,358.9 L828.5,358.7 L831,358.5 L833.5,358.3 L836,358.1 L838.5,357.9 L841,357.6 L843.5,357.4 L846,357.1 L848.5,356.8 L850.9,356.5 L853.4,356.2 L855.9,355.9 L858.4,355.6 L860.9,355.3 L863.4,354.9 L865.9,354.6 L868.3,354.2 L870.8,353.9 L873.3,353.5 L875.8,353.1 L878.2,352.7 L880.7,352.3 L883.2,351.8 L885.6,351.4 L888.1,351 L890.6,350.5 L893,350 L895.5,349.5 L897.9,349 L900.4,348.5 L902.8,348 L905.3,347.5 L907.7,346.9 L910.1,346.4 L912.6,345.8 L915,345.2 L917.4,344.6 L919.8,344 L922.3,343.4 L924.7,342.8 L927.1,342.1 L929.5,341.5 L931.9,340.8 L934.3,340.1 L936.7,339.4 L939.1,338.7 L941.5,338 L943.9,337.2 L946.3,336.5 L948.6,335.7 L951,334.9 L953.4,334.1 L955.8,333.3 L958.1,332.5 L960.5,331.7 L962.8,330.8 L965.2,330 L967.5,329.1 L969.9,328.2 L972.2,327.3 L974.6,326.4 L976.9,325.4 L979.2,324.5 L981.5,323.5 L983.8,322.5 L986.1,321.5 L988.4,320.5 L990.7,319.5 L993,318.5 L995.3,317.4 L997.6,316.3 L999.9,315.2 L1002.2,314.1 L1004.4,313 L1006.7,311.9 L1008.9,310.7 L1011.2,309.6 L1013.4,308.4 L1015.7,307.2 L1017.9,306 L1020.1,304.7 L1022.4,303.5 L1024.6,302.2 L1026.8,300.9 L1029,299.6 L1031.2,298.3 L1033.4,297 L1035.6,295.6 L1037.7,294.3 L1039.9,292.9 L1042,291.5 L1044.1,290 L1046.1,288.5 L1048.1,287 L1050,285.4 L1051.8,283.8 L1053.6,282.1 L1055.2,280.4 L1056.8,278.6 L1058.2,276.7 L1059.5,274.7 L1060.7,272.7 L1061.8,270.6 L1062.8,268.5 L1063.7,266.3 L1064.5,264.1 L1065.2,261.8 L1065.8,259.4 L1066.4,257 L1066.9,254.6 L1067.4,252.2 L1067.8,249.7 L1068.2,247.2 L1068.6,244.7 L1068.9,242.1 L1069.2,239.6 L1069.5,237 L1069.8,234.4 L1070.1,231.8 L1070.3,229.3 L1070.6,226.7 L1070.9,224.1 L1071.2,221.5 L1071.5,219 L1071.8,216.4 L1072.2,213.9 L1072.6,211.3 L1073,208.8 L1073.5,206.4 L1074,203.9 L1074.6,201.5 L1075.2,199.1 L1075.9,196.8 L1076.7,194.5 L1077.5,192.2 L1078.4,190 L1079.4,187.8 L1080.4,185.7 L1081.6,183.6 L1082.8,181.6 L1084.2,179.6 L1085.6,177.7 L1087.2,175.9 L1088.8,174.1 L1090.4,172.3 L1092.2,170.6 L1094,168.9 L1095.9,167.2 L1097.8,165.6 L1099.8,164 L1101.9,162.5 L1103.9,160.9 L1106,159.4 L1108.2,157.9 L1110.3,156.4 L1112.5,154.9 L1114.7,153.4 L1116.9,152 L1119.1,150.5 L1121.3,149 L1123.5,147.5 L1125.7,146 L1127.9,144.5 L1130,143 L1132.2,141.4 L1134.3,139.9 L1136.4,138.3 L1138.4,136.7 L1140.5,135.2 L1142.6,133.6 L1144.6,132.1 L1146.7,130.5 L1148.8,129 L1150.8,127.6 L1152.9,126.1 L1155,124.7 L1157.1,123.4 L1159.2,122.1 L1161.4,120.8 L1163.5,119.6 L1165.7,118.4 L1167.9,117.3 L1170.1,116.2 L1172.4,115.1 L1174.6,114.1 L1176.9,113.1 L1179.1,112.2 L1181.4,111.3 L1183.7,110.5 L1186,109.6 L1188.4,108.8 L1190.7,108.1 L1193,107.4 L1195.4,106.7 L1197.8,106 L1200.2,105.4 L1202.6,104.8 L1205,104.2 L1207.4,103.7 L1209.8,103.2 L1212.2,102.7 L1214.7,102.3 L1217.1,101.8 L1219.6,101.4 L1222.1,101.1 L1224.5,100.7 L1227,100.4 L1229.5,100.1 L1232,99.8 L1234.5,99.5 L1237,99.2 L1239.5,99 L1242,98.8 L1244.5,98.6 L1247,98.4 L1249.5,98.2 L1252.1,98.1 L1254.6,97.9 L1257.1,97.8 L1259.6,97.7 L1262.2,97.6 L1264.7,97.5 L1267.2,97.4 L1269.8,97.3 L1272.3,97.2 L1274.8,97.2 L1277.3,97.1 L1279.9,97.1 L1282.4,97 L1284.9,97 L1287.4,96.9 L1289.9,96.9 L1292.5,96.9 L1295,96.9 L1297.5,96.9 L1300,96.9 L1302.5,96.8 L1305,96.8 L1307.6,96.9 L1310.1,96.9 L1312.6,96.9 L1315.1,96.9 L1317.6,96.9 L1320.1,96.9 L1322.6,97 L1325.1,97 L1327.6,97 L1330.1,97 L1332.7,97.1 L1335.2,97.1 L1337.7,97.2 L1340.2,97.2 L1342.7,97.2 L1345.2,97.3 L1347.7,97.3 L1350.2,97.4 L1352.7,97.4 L1355.2,97.5 L1357.7,97.5 L1360.2,97.5 L1362.7,97.6 L1365.2,97.6 L1367.7,97.7 L1370.2,97.7 L1372.7,97.7 L1375.2,97.8 L1377.7,97.8 L1380.2,97.9 L1382.7,97.9 L1385.2,97.9 L1387.7,97.9 L1390.2,98 L1392.7,98 L1395.2,98 L1397.7,98 L1400.2,98 L1402.7,98 L1405.2,98.1 L1407.7,98 L1410.2,98 L1412.7,98 L1415.2,98 L1417.7,98 L1420.2,98 L1422.7,97.9 L1425.2,97.9 L1427.7,97.9 L1430.2,97.8 L1432.7,97.8 L1435.2,97.7 L1437.7,97.6 L1440.2,97.6 L1442.7,97.5 L1445.2,97.4 L1447.7,97.3 L1450.2,97.2 L1452.7,97.1 L1455.2,97 L1457.7,96.9 L1460.2,96.8 L1462.7,96.7 L1465.2,96.6 L1467.7,96.5 L1470.2,96.3 L1472.7,96.2 L1475.2,96.1 L1477.7,95.9 L1480.2,95.8 L1482.7,95.6 L1485.2,95.5 L1487.7,95.3 L1490.2,95.2 L1492.7,95 L1495.2,94.9 L1497.7,94.7 L1500.2,94.5 L1502.7,94.4 L1505.2,94.2 L1507.7,94 L1510.2,93.8 L1512.7,93.6 L1515.3,93.5 L1517.8,93.3 L1520.3,93.1 L1522.8,92.9 L1525.3,92.7 L1527.8,92.5 L1530.3,92.3 L1532.8,92.1 L1535.3,92 L1537.8,91.8 L1540.3,91.6 L1542.8,91.4 L1545.3,91.2 L1547.8,91 L1550.3,90.8 L1552.8,90.6 L1555.3,90.4 L1557.8,90.2 L1560.3,90 L1562.8,89.8 L1565.3,89.6 L1567.8,89.4 L1570.3,89.2 L1572.8,89 L1575.3,88.8 L1577.8,88.6 L1580.4,88.4 L1582.9,88.3 L1585.4,88.1 L1587.9,87.9 L1590.4,87.7 L1592.9,87.5 L1595.4,87.3 L1597.9,87.1 L1600.4,87 L1602.9,86.8 L1605.4,86.6 L1607.9,86.5 L1610.4,86.3 L1612.9,86.1 L1615.4,86 L1617.9,85.8 L1620.4,85.6 L1622.9,85.5 L1625.4,85.3 L1627.9,85.2 L1630.4,85 L1632.9,84.9 L1635.4,84.8 L1637.9,84.6 L1640.4,84.5 L1643,84.4 L1645.5,84.3 L1648,84.2 L1650.5,84 L1653,83.9 L1655.5,83.8 L1658,83.7 L1660.5,83.6 L1663,83.6 L1665.5,83.5 L1668,83.4 L1670.5,83.3 L1673,83.3 L1674.7,83.2"/>
<path d="M760.7,372.4 L926.4,466.7"/>
<path d="M776.6,508 L902.4,494.4"/>
<path d="M525.5,738.5 L526.9,736.4 L528.4,734.3 L529.8,732.2 L531.2,730.1 L532.7,728 L534.1,726 L535.6,723.9 L537,721.8 L538.5,719.7 L540,717.6 L541.4,715.6 L542.9,713.5 L544.4,711.4 L545.8,709.3 L547.3,707.3 L548.8,705.2 L550.3,703.1 L551.8,701.1 L553.3,699 L554.8,697 L556.3,694.9 L557.8,692.9 L559.3,690.8 L560.8,688.8 L562.3,686.7 L563.8,684.7 L565.4,682.7 L566.9,680.6 L568.4,678.6 L570,676.6 L571.5,674.5 L573.1,672.5 L574.6,670.5 L576.2,668.5 L577.7,666.5 L579.3,664.5 L580.9,662.5 L582.4,660.5 L584,658.5 L585.6,656.5 L587.2,654.5 L588.8,652.5 L590.4,650.5 L592,648.6 L593.6,646.6 L595.2,644.6 L596.8,642.7 L598.4,640.7 L600.1,638.7 L601.7,636.8 L603.3,634.9 L605,632.9 L606.6,631 L608.3,629 L609.9,627.1 L611.6,625.2 L613.3,623.3 L615,621.4 L616.6,619.5 L618.3,617.6 L620,615.7 L621.7,613.8 L623.4,611.9 L625.1,610 L626.8,608.2 L628.6,606.3 L630.3,604.4 L632,602.6 L633.8,600.7 L635.5,598.9 L637.3,597 L639,595.2 L640.8,593.4 L642.6,591.6 L644.3,589.7 L646.1,587.9 L647.9,586.1 L649.7,584.3 L651.5,582.6 L653.3,580.8 L655.1,579 L656.9,577.2 L658.8,575.5 L660.6,573.7 L662.5,572 L664.3,570.2 L666.2,568.5 L668,566.8 L669.9,565.1 L671.8,563.3 L673.6,561.6 L675.5,559.9 L677.4,558.3 L679.3,556.6 L681.3,554.9 L683.2,553.2 L685.1,551.6 L687,549.9 L689,548.3 L690.9,546.6 L692.9,545 L694.8,543.4 L696.8,541.8 L698.8,540.2 L700.8,538.6 L702.8,537 L704.8,535.4 L706.8,533.8 L708.4,532.6"/>
<path d="M532,739 L533.8,737.3 L535.7,735.5 L537.5,733.8 L539.4,732.1 L541.2,730.4 L543,728.6 L544.9,726.9 L546.7,725.2 L548.6,723.4 L550.5,721.7 L552.3,720 L554.2,718.2 L556,716.5 L557.9,714.8 L559.8,713.1 L561.7,711.3 L563.5,709.6 L565.4,707.9 L567.3,706.2 L569.2,704.5 L571.1,702.8 L573,701.1 L574.9,699.4 L576.9,697.7 L578.8,696 L580.7,694.4 L582.6,692.7 L584.6,691 L586.5,689.4 L588.5,687.8 L590.4,686.1 L592.4,684.5 L594.4,682.9 L596.3,681.3 L598.3,679.7 L600.3,678.1 L602.3,676.5 L604.3,674.9 L606.3,673.4 L608.3,671.8 L610.4,670.3 L612.4,668.8 L614.5,667.3 L616.5,665.8 L618.6,664.3 L620.6,662.8 L622.7,661.4 L624.8,659.9 L626.9,658.5 L629,657.1 L631.1,655.7 L633.3,654.3 L635.4,653 L637.5,651.6 L639.7,650.3 L641.9,649 L644,647.7 L646.2,646.4 L648.4,645.1 L650.6,643.9 L652.9,642.7 L655.1,641.5 L657.3,640.3 L659.6,639.1 L661.8,638 L664.1,636.9 L666.4,635.8 L668.7,634.7 L671,633.6 L673.4,632.6 L675.7,631.6 L677.6,630.8"/>
<path d="M564,742 L566.4,741.4 L568.9,740.8 L571.3,740.2 L573.8,739.6 L576.2,739 L578.7,738.5 L581.1,737.9 L583.6,737.3 L586,736.8 L588.5,736.2 L590.9,735.6 L593.4,735.1 L595.8,734.5 L598.3,734 L600.7,733.4 L603.2,732.9 L605.6,732.4 L608.1,731.8 L610.6,731.3 L613,730.8 L615.5,730.3 L617.9,729.7 L620.4,729.2 L622.8,728.7 L625.3,728.2 L627.7,727.7 L630.2,727.2 L632.7,726.7 L635.1,726.2 L637.6,725.7 L640,725.2 L642.5,724.7 L645,724.2 L647.4,723.8 L649.9,723.3 L652.3,722.8 L654.8,722.3 L657.3,721.8 L659.7,721.4 L662.2,720.9 L664.6,720.4 L667.1,720 L669.6,719.5 L672,719 L674.5,718.6 L677,718.1 L679.4,717.7 L681.9,717.2 L684.3,716.8 L686.8,716.3 L689.3,715.8 L691.7,715.4 L694.2,715 L696.7,714.5 L699.1,714.1 L701.6,713.6 L704,713.2 L706.5,712.7 L709,712.3 L711.4,711.8 L713.9,711.4 L716.4,711 L718.8,710.5 L721.3,710.1 L723.8,709.6 L726.2,709.2 L728.7,708.8 L731.2,708.3 L733.6,707.9 L736.1,707.5 L738.6,707 L741,706.6 L743.5,706.2 L746,705.7 L748.4,705.3 L750.9,704.8 L753.4,704.4 L755.8,704 L758.3,703.5 L760.7,703.1 L763.2,702.7 L765.7,702.2 L768.1,701.8 L770.6,701.3 L773.1,700.9 L775.5,700.5 L778,700 L780.5,699.6 L782.9,699.1 L785.4,698.7 L787.9,698.2 L790.3,697.8 L792.8,697.3 L795.3,696.9 L797.7,696.4 L800.2,696 L802.6,695.5 L805.1,695.1 L807.6,694.6 L810,694.1 L812.5,693.7 L815,693.2 L817.4,692.8 L819.9,692.3 L822.4,691.8 L824.8,691.3 L827.3,690.9 L829.7,690.4 L832.2,689.9 L834.7,689.4 L837.1,689 L839.6,688.5 L842,688 L844.5,687.5 L847,687 L849.4,686.5 L851.9,686 L854.3,685.5 L856.8,685 L859.3,684.5 L861.7,684 L864.2,683.5 L866.6,683 L869.1,682.5 L871.6,682 L874,681.5 L876.5,681 L878.9,680.5 L881.4,680 L883.8,679.5 L886.3,679 L888.8,678.5 L891.2,677.9 L893.7,677.4 L896.1,676.9 L898.6,676.4 L901.1,675.9 L903.5,675.4 L906,674.8 L908.4,674.3 L910.9,673.8 L913.3,673.3 L915.8,672.8 L918.3,672.3 L920.7,671.7 L923.2,671.2 L925.6,670.7 L928.1,670.2 L930.5,669.7 L933,669.1 L935.5,668.6 L937.9,668.1 L940.4,667.6 L942.8,667.1 L945.3,666.6 L947.7,666 L950.2,665.5 L952.7,665 L955.1,664.5 L957.6,664 L960,663.5 L962.5,663 L964.9,662.4 L967.4,661.9 L969.9,661.4 L972.3,660.9 L974.8,660.4 L977.2,659.9 L979.7,659.4 L982.2,658.9 L984.6,658.4 L987.1,657.9 L989.5,657.4 L992,656.9 L994.4,656.4 L996.9,655.9 L999.4,655.4 L1001.8,654.9 L1004.3,654.4 L1006.7,653.9 L1009.2,653.4 L1011.7,653 L1014.1,652.5 L1016.6,652 L1019.1,651.5 L1021.5,651 L1024,650.6 L1026.4,650.1 L1028.9,649.6 L1031.4,649.2 L1033.8,648.7 L1036.3,648.2 L1038.8,647.8 L1041.2,647.3 L1043.7,646.9 L1046.1,646.4 L1048.6,646 L1051.1,645.5 L1053.5,645.1 L1056,644.6 L1058.5,644.2 L1060.9,643.7 L1063.4,643.3 L1065.9,642.9 L1068.3,642.5 L1070.8,642 L1073.3,641.6 L1075.7,641.2 L1078.2,640.8 L1080.7,640.4 L1083.1,640 L1085.6,639.6 L1088.1,639.2 L1090.6,638.8 L1093,638.4 L1095.5,638 L1098,637.6 L1100.4,637.3 L1102.9,636.9 L1105.4,636.5 L1107.9,636.1 L1110.3,635.8 L1112.8,635.4 L1115.3,635.1 L1117.8,634.7 L1120.2,634.4 L1122.7,634 L1125.2,633.7 L1127.7,633.3 L1130.1,633 L1132.6,632.7 L1135.1,632.4 L1137.6,632 L1140.1,631.7 L1142.5,631.4 L1145,631.1 L1147.5,630.8 L1150,630.5 L1152.5,630.2 L1154.9,629.9 L1157.4,629.6 L1159.9,629.3 L1162.4,629 L1164.9,628.7 L1167.4,628.4 L1169.8,628.1 L1172.3,627.8 L1174.8,627.5 L1177.3,627.2 L1179.8,626.9 L1182.3,626.7 L1184.8,626.4 L1187.3,626.1 L1189.7,625.8 L1192.2,625.6 L1194.7,625.3 L1197.2,625 L1199.7,624.8 L1202.2,624.5 L1204.7,624.2 L1207.2,624 L1209.7,623.7 L1212.2,623.4 L1214.7,623.2 L1217.2,622.9 L1219.7,622.6 L1222.2,622.4 L1224.7,622.1 L1227.2,621.9 L1229.7,621.6 L1232.2,621.3 L1234.7,621.1 L1237.2,620.8 L1239.7,620.6 L1242.2,620.3 L1244.7,620 L1247.2,619.8 L1249.7,619.5 L1252.2,619.3 L1254.7,619 L1257.2,618.7 L1259.7,618.5 L1262.2,618.2 L1264.7,618 L1267.2,617.7 L1269.7,617.4 L1272.3,617.2 L1274.8,616.9 L1277.3,616.6 L1279.8,616.3 L1282.3,616 L1284.8,615.8 L1287.3,615.5 L1289.8,615.2 L1292.3,614.8 L1294.8,614.5 L1297.3,614.2 L1299.8,613.9 L1302.3,613.5 L1304.8,613.2 L1307.3,612.8 L1309.8,612.4 L1312.2,612 L1314.7,611.6 L1317.2,611.2 L1319.7,610.8 L1322.1,610.4 L1324.6,609.9 L1327,609.4 L1329.5,609 L1331.9,608.5 L1334.4,607.9 L1336.8,607.4 L1339.2,606.8 L1341.6,606.3 L1344.1,605.7 L1346.5,605.1 L1348.9,604.4 L1351.3,603.8 L1353.7,603.1 L1356,602.4 L1358.4,601.7 L1360.8,600.9 L1363.1,600.1 L1365.5,599.4 L1367.8,598.5 L1370.1,597.7 L1372.5,596.8 L1374.8,595.9 L1377.1,595 L1379.4,594.1 L1381.7,593.1 L1383.9,592.1 L1386.2,591.1 L1388.5,590.1 L1390.7,589 L1393,588 L1395.2,586.9 L1397.5,585.8 L1399.7,584.6 L1401.9,583.5 L1404.1,582.3 L1406.3,581.1 L1408.5,579.9 L1410.7,578.7 L1412.9,577.5 L1415.1,576.2 L1417.3,575 L1419.4,573.7 L1421.6,572.4 L1423.7,571.1 L1425.9,569.7 L1428,568.4 L1430.2,567 L1432.3,565.7 L1434.4,564.3 L1436.5,562.9 L1438.6,561.5 L1440.7,560.1 L1442.8,558.7 L1444.9,557.2 L1447,555.8 L1449.1,554.4 L1451.2,552.9 L1453.2,551.4 L1455.3,550 L1457.4,548.5 L1459.4,547 L1461.5,545.5 L1463.5,544 L1465.5,542.5 L1467.6,541 L1469.6,539.4 L1471.6,537.9 L1473.6,536.4 L1475.7,534.9 L1477.7,533.3 L1479.7,531.8 L1481.7,530.3 L1483.7,528.7 L1485.7,527.2 L1487.7,525.6 L1489.7,524.1 L1491.6,522.6 L1493.6,521 L1495.6,519.5 L1497.6,517.9 L1499.5,516.4 L1501.5,514.9 L1503.5,513.3 L1505.4,511.8 L1507.4,510.3 L1509.3,508.7 L1510.5,507.8"/>
<path d="M564,752 L678.1,752"/>
<path d="M564.4,763 L667.3,786"/>
<path d="M536.8,765 L704.1,871.8"/>
<path d="M526.5,765 L527.7,767.2 L528.9,769.4 L530.1,771.5 L531.3,773.7 L532.5,775.9 L533.8,778 L535.1,780.2 L536.4,782.3 L537.7,784.5 L539,786.6 L540.4,788.7 L541.7,790.9 L543.1,793 L544.5,795.1 L545.9,797.3 L547.3,799.4 L548.7,801.5 L550.1,803.6 L551.6,805.7 L553,807.9 L554.4,810 L555.9,812.1 L557.3,814.2 L558.8,816.3 L560.2,818.4 L561.7,820.6 L563.1,822.7 L564.5,824.8 L566,826.9 L567.4,829.1 L568.9,831.2 L570.3,833.3 L571.7,835.5 L573.1,837.6 L574.5,839.7 L575.9,841.9 L577.3,844 L578.7,846.2 L580,848.3 L581.4,850.5 L582.7,852.7 L584,854.8 L585.3,857 L586.6,859.2 L587.9,861.4 L589.1,863.6 L590.4,865.8 L591.6,868 L592.8,870.3 L593.9,872.5 L595.1,874.7 L596.2,877 L597.3,879.2 L598.3,881.5 L599.4,883.8 L600.4,886.1 L601.4,888.4 L602.3,890.7 L603.2,893 L604.1,895.3 L605,897.7 L605.8,900 L606.6,902.4 L607.3,904.8 L608,907.2 L608.7,909.6 L609.3,912 L609.9,914.4 L610.5,916.9 L611,919.3 L611.5,921.8 L611.9,924.3 L612.3,926.8 L612.7,929.3 L613.1,931.8 L613.5,934.3 L613.8,936.9 L614.1,939.4 L614.4,941.9 L614.7,944.5 L615,947 L615.3,949.6 L615.5,952.1 L615.8,954.7 L616.1,957.2 L616.4,959.8 L616.7,962.4 L617,964.9 L617.3,967.5 L617.6,970 L618,972.6 L618.3,975.1 L618.7,977.6 L619.1,980.2 L619.6,982.7 L620.1,985.2 L620.6,987.7 L621.1,990.2 L621.7,992.7 L622.3,995.1 L623,997.6 L623.7,1000 L624.5,1002.5 L625.3,1004.9 L626.1,1007.3 L627,1009.6 L628,1012 L629,1014.3 L630,1016.5 L631.1,1018.8 L632.2,1021 L633.5,1023.2 L634.7,1025.3 L636,1027.4 L637.4,1029.4 L638.8,1031.4 L640.3,1033.4 L641.8,1035.3 L643.4,1037.1 L645.1,1038.9 L646.8,1040.7 L648.5,1042.4 L650.4,1044 L652.3,1045.5 L654.2,1047 L656.3,1048.4 L658.4,1049.8 L660.5,1051.1 L662.7,1052.3 L665,1053.4 L667.4,1054.4 L669.8,1055.4 L672.3,1056.3 L672.9,1056.5"/>
<path d="M527.6,765 C541.6,787.3 555.7,809.6 573.6,833 C594.6,860.3 622.7,889.5 647.2,917.7 C670.2,935.2 693.1,952.7 720.8,969.2 C753.3,988.5 794,1009 831.2,1024.4 C867.1,1039.2 905.8,1049 940,1060.4 C970.6,1070.6 998.4,1081.5 1027,1089.4 C1054,1096.8 1080.3,1101 1107,1106.9"/>
<path d="M783.4,765 L903.2,798.9"/>
<path d="M802.5,884.6 L881.4,876.7"/>
<path d="M802.5,899.3 L881.4,908.1"/>
<path d="M765,904.8 L767.2,906.1 L769.4,907.5 L771.7,908.8 L773.9,910 L776.1,911.3 L778.4,912.5 L780.6,913.7 L782.9,914.9 L785.1,916.1 L787.4,917.2 L789.7,918.3 L792,919.4 L794.3,920.5 L796.6,921.5 L798.9,922.6 L801.2,923.6 L803.5,924.6 L805.8,925.6 L808.2,926.5 L810.5,927.4 L812.8,928.4 L815.2,929.2 L817.5,930.1 L819.9,931 L822.2,931.8 L824.6,932.6 L827,933.4 L829.3,934.2 L831.7,935 L834.1,935.7 L836.5,936.5 L838.9,937.2 L841.3,937.9 L843.7,938.5 L846.1,939.2 L848.5,939.8 L850.9,940.5 L853.4,941.1 L855.8,941.7 L858.2,942.3 L860.6,942.8 L863.1,943.4 L865.5,943.9 L867.9,944.4 L870.4,944.9 L872.8,945.4 L875.3,945.9 L877.7,946.3 L880.2,946.8 L882.7,947.2 L885.1,947.6 L887.6,948 L890.1,948.4 L892.5,948.8 L895,949.1 L897.5,949.5 L900,949.8 L902.4,950.1 L904.9,950.5 L907.4,950.8 L909.9,951 L912.4,951.3 L914.9,951.6 L917.4,951.8 L919.9,952.1 L922.4,952.3 L924.9,952.5 L927.4,952.7 L929.9,952.9 L932.4,953.1 L934.9,953.3 L937.4,953.4 L939.9,953.6 L942.4,953.7 L944.9,953.9 L947.4,954 L949.9,954.1 L952.4,954.2 L954.9,954.3 L957.5,954.4 L960,954.4 L962.5,954.5 L965,954.5 L967.5,954.6 L970.1,954.6 L972.6,954.7 L975.1,954.7 L977.6,954.7 L980.1,954.7 L982.7,954.7 L985.2,954.7 L987.7,954.6 L990.3,954.6 L992.8,954.6 L995.3,954.5 L997.8,954.5 L1000.4,954.4 L1002.9,954.3 L1005.4,954.3 L1007.9,954.2 L1010.5,954.1 L1013,954 L1015.5,953.9 L1018.1,953.8 L1020.6,953.7 L1023.1,953.5 L1025.7,953.4 L1028.2,953.3 L1030.7,953.1 L1033.2,953 L1035.8,952.9 L1038.3,952.7 L1040.8,952.5 L1043.4,952.4 L1045.9,952.2 L1048.4,952 L1050.9,951.8 L1053.5,951.7 L1056,951.5 L1058.5,951.3 L1061,951.1 L1063.6,950.9 L1066.1,950.7 L1068.6,950.5 L1071.1,950.2 L1073.6,950 L1076.2,949.8 L1078.7,949.6 L1081.2,949.3 L1083.7,949.1 L1086.2,948.9 L1088.7,948.6 L1091.2,948.4 L1093.8,948.2 L1096.3,947.9 L1098.8,947.7 L1101.3,947.4 L1103.8,947.2 L1106.3,946.9 L1108.8,946.6 L1111.3,946.4 L1113.8,946.1 L1116.3,945.9 L1118.8,945.6 L1121.3,945.3 L1123.9,945 L1126.4,944.8 L1128.9,944.5 L1131.4,944.2 L1133.9,943.9 L1136.4,943.7 L1138.9,943.4 L1141.4,943.1 L1143.9,942.8 L1146.4,942.5 L1148.9,942.2 L1151.4,941.9 L1153.9,941.7 L1156.4,941.4 L1158.9,941.1 L1161.4,940.8 L1163.9,940.5 L1166.4,940.2 L1168.9,939.9 L1171.4,939.6 L1173.9,939.3 L1176.3,939 L1178.8,938.7 L1181.3,938.4 L1183.8,938.1 L1186.3,937.9 L1188.8,937.6 L1191.3,937.3 L1193.8,937 L1196.3,936.7 L1198.8,936.4 L1201.3,936.1 L1203.8,935.8 L1206.3,935.5 L1208.8,935.2 L1211.3,934.9 L1213.8,934.7 L1216.3,934.4 L1218.8,934.1 L1221.3,933.8 L1223.8,933.5 L1226.3,933.2 L1228.8,933 L1231.3,932.7 L1233.8,932.4 L1236.3,932.1 L1238.8,931.9 L1241.3,931.6 L1243.8,931.3 L1246.2,931.1 L1248.7,930.8 L1251.2,930.5 L1253.7,930.3 L1256.2,930 L1258.7,929.8 L1261.2,929.5 L1263.7,929.3 L1266.2,929 L1268.8,928.8 L1271.3,928.5 L1273.8,928.3 L1276.3,928.1 L1278.8,927.8 L1281.3,927.6 L1283.8,927.4 L1286.3,927.2 L1288.8,926.9 L1291.3,926.7 L1293.8,926.5 L1296.3,926.3 L1298.8,926.1 L1301.3,925.9 L1303.1,925.8"/>
<path d="M776,1081.5 L778.4,1082.2 L780.8,1083 L783.2,1083.7 L785.5,1084.5 L787.9,1085.2 L790.3,1085.9 L792.7,1086.6 L795.1,1087.4 L797.5,1088.1 L799.9,1088.8 L802.3,1089.5 L804.7,1090.2 L807.1,1090.9 L809.5,1091.7 L812,1092.4 L814.4,1093.1 L816.8,1093.8 L819.2,1094.5 L821.6,1095.1 L824,1095.8 L826.4,1096.5 L828.9,1097.2 L831.3,1097.9 L833.7,1098.6 L836.1,1099.2 L838.6,1099.9 L841,1100.6 L843.4,1101.2 L845.9,1101.9 L848.3,1102.6 L850.7,1103.2 L853.2,1103.9 L855.6,1104.5 L858,1105.1 L860.5,1105.8 L862.9,1106.4 L865.4,1107.1 L867.8,1107.7 L870.3,1108.3 L872.7,1108.9 L875.2,1109.5 L877.6,1110.2 L880.1,1110.8 L882.5,1111.4 L885,1112 L887.4,1112.6 L889.9,1113.2 L892.3,1113.8 L894.8,1114.3 L897.3,1114.9 L899.7,1115.5 L902.2,1116.1 L904.7,1116.7 L907.1,1117.2 L909.6,1117.8 L912.1,1118.3 L914.5,1118.9 L917,1119.4 L919.5,1120 L921.9,1120.5 L924.4,1121.1 L926.9,1121.6 L929.4,1122.1 L931.8,1122.6 L934.3,1123.2 L936.8,1123.7 L939.3,1124.2 L941.8,1124.7 L944.2,1125.2 L946.7,1125.7 L949.2,1126.2 L951.7,1126.7 L954.2,1127.1 L956.7,1127.6 L959.2,1128.1 L961.6,1128.6 L964.1,1129 L966.6,1129.5 L969.1,1129.9 L971.6,1130.4 L974.1,1130.8 L976.6,1131.3 L979.1,1131.7 L981.6,1132.1 L984.1,1132.5 L986.6,1133 L989.1,1133.4 L991.6,1133.8 L994.1,1134.2 L996.6,1134.6 L999.1,1135 L1001.6,1135.3 L1004.1,1135.7 L1006.6,1136.1 L1009.1,1136.5 L1011.6,1136.8 L1014.1,1137.2 L1016.6,1137.5 L1019.1,1137.9 L1021.6,1138.2 L1024.1,1138.6 L1026.6,1138.9 L1029.1,1139.2 L1031.6,1139.5 L1034.1,1139.8 L1036.7,1140.2 L1039.2,1140.5 L1041.7,1140.7 L1044.2,1141 L1046.7,1141.3 L1049.2,1141.6 L1051.7,1141.9 L1054.2,1142.1 L1056.7,1142.4 L1059.3,1142.6 L1061.8,1142.9 L1064.3,1143.1 L1066.8,1143.4 L1069.3,1143.6 L1071.8,1143.8 L1074.3,1144 L1076.9,1144.2 L1079.4,1144.5 L1081.9,1144.6 L1084.4,1144.8 L1086.9,1145 L1089.4,1145.2 L1091.9,1145.4 L1094.5,1145.5 L1097,1145.7 L1099.5,1145.8 L1102,1146 L1104.5,1146.1 L1107,1146.3 L1109.6,1146.4 L1112.1,1146.5 L1114.6,1146.6 L1117.1,1146.7 L1119.6,1146.8 L1122.1,1146.9 L1124.7,1147 L1127.2,1147 L1129.7,1147.1 L1132.2,1147.2 L1134.7,1147.2 L1137.2,1147.2 L1139.8,1147.3 L1142.3,1147.3 L1144.8,1147.3 L1147.3,1147.3 L1149.8,1147.3 L1152.3,1147.3 L1154.8,1147.3 L1157.4,1147.3 L1159.9,1147.3 L1162.4,1147.3 L1164.9,1147.2 L1167.4,1147.2 L1169.9,1147.1 L1172.4,1147 L1175,1147 L1177.5,1146.9 L1180,1146.8 L1182.5,1146.7 L1185,1146.6 L1187.5,1146.5 L1190,1146.3 L1192.5,1146.2 L1195,1146.1 L1197.6,1145.9 L1200.1,1145.7 L1202.6,1145.6 L1205.1,1145.4 L1207.6,1145.2 L1210.1,1145 L1212.6,1144.8 L1215.1,1144.6 L1217.6,1144.4 L1220.1,1144.2 L1222.6,1143.9 L1225.1,1143.7 L1227.6,1143.4 L1230.1,1143.2 L1232.6,1142.9 L1235.1,1142.6 L1237.6,1142.3 L1240.1,1142 L1242.6,1141.7 L1245.1,1141.4 L1247.6,1141 L1250.1,1140.7 L1252.6,1140.3 L1255.1,1140 L1257.6,1139.6 L1260.1,1139.2 L1262.6,1138.8 L1265,1138.4 L1267.5,1138 L1270,1137.6 L1272.5,1137.2 L1275,1136.7 L1277.5,1136.3 L1280,1135.8 L1282.4,1135.4 L1284.9,1134.9 L1286.8,1134.5"/>
<path d="M975.3,473.8 L976.9,472 L978.5,470.1 L980.1,468.3 L981.7,466.4 L983.4,464.5 L985,462.6 L986.6,460.8 L988.3,458.9 L989.9,457 L991.5,455.1 L993.2,453.1 L994.8,451.2 L996.4,449.3 L998.1,447.3 L999.7,445.4 L1001.3,443.4 L1002.9,441.5 L1004.5,439.5 L1006.2,437.5 L1007.8,435.5 L1009.4,433.5 L1011,431.5 L1012.5,429.5 L1014.1,427.5 L1015.7,425.4 L1017.2,423.4 L1018.8,421.3 L1020.3,419.3 L1021.8,417.2 L1023.3,415.1 L1024.8,413 L1026.3,410.9 L1027.8,408.8 L1029.2,406.7 L1030.7,404.6 L1032.1,402.4 L1033.5,400.3 L1034.9,398.1 L1036.3,396 L1037.6,393.8 L1038.9,391.6 L1040.3,389.4 L1041.5,387.2 L1042.8,385 L1044.1,382.8 L1045.3,380.6 L1046.5,378.3 L1047.6,376.1 L1048.8,373.8 L1049.9,371.5 L1051,369.3 L1052.1,367 L1053.1,364.7 L1054.1,362.4 L1055.1,360 L1056.1,357.7 L1057,355.4 L1057.9,353 L1058.7,350.7 L1059.6,348.3 L1060.4,345.9 L1061.1,343.5 L1061.9,341.1 L1062.6,338.7 L1063.2,336.2 L1063.8,333.8 L1064.4,331.4 L1065,328.9 L1065.5,326.4 L1065.9,323.9 L1066.4,321.5 L1066.8,319 L1067.2,316.4 L1067.5,313.9 L1067.9,311.4 L1068.2,308.9 L1068.5,306.3 L1068.8,303.8 L1069,301.3 L1069.3,298.7 L1069.6,296.2 L1069.9,293.6 L1070.1,291.1 L1070.4,288.5 L1070.7,286 L1071,283.5 L1071.3,280.9 L1071.7,278.4 L1072.1,275.8 L1072.4,273.3 L1072.9,270.8 L1073.3,268.3 L1073.8,265.8 L1074.4,263.4 L1075,260.9 L1075.6,258.5 L1076.3,256.1 L1077.1,253.7 L1077.9,251.4 L1078.8,249.1 L1079.8,246.8 L1080.8,244.5 L1081.9,242.3 L1083.1,240.2 L1084.4,238.1 L1085.7,236 L1087.1,234 L1088.6,232 L1090.1,230.1 L1091.8,228.2 L1093.4,226.4 L1095.2,224.7 L1097.1,223 L1099,221.4 L1100.9,219.9 L1103,218.4 L1105.1,217 L1107.3,215.7 L1109.6,214.5 L1112,213.4 L1114.4,212.3 L1116.9,211.3 L1117.6,211.1"/>
<path d="M978,473.8 C1002.3,447.4 1026.5,421.1 1052.4,391.4 C1081.8,357.7 1114,318.2 1144.7,281.6"/>
<path d="M1008.6,481 L1084.1,471.2"/>
<path d="M1008,486.6 L1500.7,486.6"/>
<path d="M977.7,499.4 L1136.1,642.3"/>
<path d="M968,499.4 L969.1,501.7 L970.2,504 L971.2,506.3 L972.3,508.7 L973.3,511 L974.3,513.3 L975.3,515.7 L976.3,518 L977.3,520.4 L978.3,522.7 L979.3,525.1 L980.2,527.4 L981.2,529.8 L982.2,532.1 L983.1,534.5 L984,536.9 L985,539.2 L985.9,541.6 L986.8,544 L987.8,546.4 L988.7,548.7 L989.6,551.1 L990.5,553.5 L991.4,555.9 L992.3,558.2 L993.2,560.6 L994.2,563 L995.1,565.4 L996,567.7 L996.9,570.1 L997.8,572.5 L998.7,574.9 L999.6,577.2 L1000.5,579.6 L1001.5,582 L1002.4,584.3 L1003.3,586.7 L1004.3,589.1 L1005.2,591.4 L1006.1,593.8 L1007.1,596.1 L1008.1,598.5 L1009,600.8 L1010,603.1 L1011,605.5 L1012,607.8 L1013,610.1 L1014,612.4 L1015,614.8 L1016,617.1 L1017.1,619.4 L1018.1,621.7 L1019.2,624 L1020.3,626.2 L1021.4,628.5 L1022.5,630.8 L1023.6,633.1 L1024.7,635.3 L1025.9,637.6 L1027,639.8 L1028.2,642 L1029.4,644.3 L1030.6,646.5 L1031.9,648.7 L1033.1,650.9 L1034.4,653.1 L1035.7,655.3 L1037,657.5 L1038.3,659.6 L1039.6,661.8 L1040.9,663.9 L1042.3,666.1 L1043.7,668.2 L1045.1,670.4 L1046.4,672.5 L1047.9,674.6 L1049.3,676.7 L1050.7,678.9 L1052.2,681 L1053.6,683.1 L1055.1,685.2 L1056.6,687.3 L1058,689.3 L1059.6,691.4 L1061.1,693.5 L1062.6,695.5 L1064.1,697.6 L1065.7,699.6 L1067.3,701.7 L1068.8,703.7 L1070.4,705.7 L1072,707.7 L1073.7,709.7 L1075.3,711.6 L1077,713.6 L1078.6,715.5 L1080.3,717.4 L1082,719.3 L1083.7,721.2 L1085.5,723 L1087.2,724.9 L1089,726.7 L1090.8,728.4 L1092.6,730.2 L1094.5,731.9 L1096.3,733.6 L1098.2,735.2 L1100.2,736.8 L1102.1,738.4 L1104.1,739.9 L1106.1,741.4 L1108.2,742.9 L1110.3,744.3 L1112.4,745.6 L1114.1,746.6"/>
<path d="M971.2,499.4 L972.5,501.6 L973.9,503.8 L975.2,506 L976.5,508.2 L977.8,510.4 L979.1,512.6 L980.4,514.8 L981.6,517 L982.9,519.2 L984.2,521.4 L985.4,523.6 L986.7,525.8 L987.9,528 L989.2,530.2 L990.4,532.4 L991.6,534.6 L992.9,536.8 L994.1,539 L995.3,541.2 L996.5,543.4 L997.7,545.7 L998.9,547.9 L1000.1,550.1 L1001.3,552.3 L1002.5,554.5 L1003.7,556.7 L1004.9,558.9 L1006.1,561.1 L1007.3,563.3 L1008.5,565.5 L1009.7,567.7 L1010.9,569.9 L1012.1,572.1 L1013.3,574.2 L1014.6,576.4 L1015.8,578.6 L1017,580.8 L1018.2,583 L1019.4,585.2 L1020.6,587.3 L1021.9,589.5 L1023.1,591.7 L1024.3,593.8 L1025.6,596 L1026.8,598.2 L1028.1,600.3 L1029.4,602.5 L1030.6,604.6 L1031.9,606.8 L1033.2,608.9 L1034.5,611.1 L1035.8,613.2 L1037.1,615.3 L1038.4,617.5 L1039.8,619.6 L1041.1,621.7 L1042.4,623.8 L1043.8,625.9 L1045.2,628 L1046.6,630.1 L1048,632.2 L1049.4,634.3 L1050.8,636.4 L1052.2,638.5 L1053.7,640.6 L1055.1,642.6 L1056.6,644.7 L1058.1,646.7 L1059.6,648.8 L1061.1,650.8 L1062.7,652.9 L1064.2,654.9 L1065.8,656.9 L1067.4,658.9 L1069,660.9 L1070.6,662.9 L1072.2,664.9 L1073.9,666.8 L1075.6,668.8 L1077.3,670.7 L1079,672.6 L1080.7,674.4 L1082.5,676.3 L1084.3,678.1 L1086.1,679.8 L1087.9,681.6 L1089.8,683.3 L1091.7,685 L1093.6,686.6 L1095.5,688.2 L1097.5,689.8 L1099.5,691.3 L1101.5,692.8 L1103.6,694.2 L1105.7,695.6 L1107.8,696.9 L1109.9,698.2 L1112.1,699.4 L1114.3,700.6 L1116.5,701.7 L1118.7,702.8 L1121,703.8 L1123.3,704.8 L1125.6,705.7 L1128,706.6 L1130.4,707.4 L1132.8,708.1 L1135.2,708.8 L1137.6,709.4 L1140.1,710 L1142.6,710.5 L1145.1,710.9 L1147.7,711.3 L1150.2,711.7 L1152.8,712 L1155.4,712.3 L1157.9,712.6 L1160.5,712.9 L1163.1,713.2 L1165.7,713.4 L1168.3,713.7 L1170.8,714.1 L1173.4,714.4 L1175.9,714.8 L1178.4,715.2 L1180.9,715.7 L1183.4,716.2 L1185.8,716.8 L1188.3,717.4 L1190.7,718.1 L1193.1,718.8 L1195.4,719.6 L1197.8,720.4 L1200.1,721.2 L1202.4,722.1 L1204.7,723 L1207,724 L1209.2,725 L1211.4,726.1 L1213.6,727.2 L1215.8,728.3 L1218,729.5 L1220.1,730.7 L1222.2,732 L1224.3,733.3 L1226.4,734.6 L1228.5,736 L1230.5,737.4 L1232.6,738.8 L1234.6,740.2 L1236.5,741.7 L1238.5,743.3 L1240.4,744.8 L1242.4,746.4 L1244.3,748 L1246.1,749.7 L1248,751.3 L1249.8,753 L1251.7,754.8 L1253.5,756.5 L1255.2,758.3 L1257,760.1 L1258.7,761.9 L1260.5,763.8 L1262.2,765.6 L1263.8,767.5 L1265.5,769.4 L1267.2,771.4 L1268.8,773.3 L1270.4,775.3 L1272,777.3 L1273.5,779.3 L1275.1,781.3 L1276.6,783.3 L1278.1,785.4 L1279.6,787.5 L1281.1,789.5 L1282.5,791.6 L1284,793.7 L1285.4,795.8 L1286.8,798 L1288.1,800.1 L1289.5,802.3 L1290.8,804.4 L1292.2,806.6 L1293.5,808.8 L1294.8,811 L1296,813.1 L1297.3,815.3 L1298.5,817.6 L1299.8,819.8 L1301,822 L1302.2,824.2 L1303.4,826.5 L1304.6,828.7 L1305.7,830.9 L1306.9,833.2 L1308.1,835.5 L1309.2,837.7 L1310.3,840 L1311.4,842.2 L1312.6,844.5 L1313.7,846.8 L1314.8,849.1 L1315.9,851.3 L1317,853.6 L1318,855.9 L1319.1,858.2 L1320.2,860.5 L1321.3,862.8 L1322.3,865.1 L1323.4,867.3 L1324.5,869.6 L1325.5,871.9 L1326.6,874.2 L1327.7,876.5 L1328.7,878.8 L1329.8,881 L1330.9,883.3 L1331.9,885.6 L1333,887.8 L1334.1,890.1 L1334.8,891.6"/>
<path d="M1007.9,805 L1112.8,777.7"/>
<path d="M1007.2,815.8 L1084.3,815.8"/>
<path d="M1008,818.5 L1101.6,849.4"/>
<path d="M1008,820.3 L1010.8,820.6 L1013.5,821 L1016.2,821.5 L1018.7,822.1 L1021.3,822.8 L1023.8,823.6 L1026.2,824.4 L1028.5,825.4 L1030.8,826.4 L1033.1,827.6 L1035.3,828.8 L1037.5,830 L1039.6,831.4 L1041.6,832.8 L1043.6,834.3 L1045.6,835.8 L1047.5,837.4 L1049.4,839.1 L1051.3,840.8 L1053.1,842.6 L1054.9,844.4 L1056.6,846.2 L1058.3,848.1 L1060,850 L1061.6,852 L1063.2,854 L1064.8,856 L1066.3,858 L1067.9,860.1 L1069.4,862.2 L1070.9,864.3 L1072.3,866.4 L1073.8,868.5 L1075.3,870.6 L1076.7,872.6 L1078.2,874.7 L1079.7,876.7 L1081.2,878.7 L1082.8,880.7 L1084.4,882.6 L1086,884.5 L1087.7,886.3 L1089.5,888 L1091.3,889.6 L1093.1,891.2 L1095.1,892.7 L1097.1,894.2 L1099.1,895.6 L1101.2,896.9 L1103.4,898.1 L1105.6,899.3 L1107.8,900.4 L1110.1,901.5 L1112.4,902.5 L1114.7,903.5 L1117.1,904.4 L1119.5,905.3 L1122,906.1 L1124.4,906.9 L1126.9,907.6 L1129.4,908.3 L1131.9,909 L1134.5,909.7 L1137,910.3 L1139.5,910.9 L1142,911.5 L1144.6,912 L1147.1,912.6 L1149.6,913.1 L1152.1,913.6 L1154.7,914.1 L1157.2,914.5 L1159.7,915 L1162.2,915.4 L1164.8,915.8 L1167.3,916.2 L1169.8,916.5 L1172.3,916.9 L1174.8,917.2 L1177.4,917.6 L1179.9,917.9 L1182.4,918.2 L1184.9,918.5 L1187.4,918.7 L1189.9,919 L1192.4,919.2 L1195,919.4 L1197.5,919.7 L1200,919.9 L1202.5,920 L1205,920.2 L1207.5,920.4 L1210,920.5 L1212.6,920.7 L1215.1,920.8 L1217.6,921 L1220.1,921.1 L1222.6,921.2 L1225.1,921.3 L1227.6,921.4 L1230.2,921.5 L1232.7,921.5 L1235.2,921.6 L1237.7,921.7 L1240.2,921.7 L1242.8,921.8 L1245.3,921.8 L1247.8,921.9 L1250.3,921.9 L1252.8,921.9 L1255.4,922 L1257.9,922 L1260.4,922 L1262.9,922 L1265.5,922.1 L1268,922.1 L1270.5,922.1 L1273.1,922.1 L1275.6,922.1 L1278.1,922.1 L1280.7,922.1 L1283.2,922.2 L1285.8,922.2 L1288.3,922.2 L1290.8,922.2 L1293.4,922.2 L1295.9,922.2 L1298.5,922.2 L1301,922.3 L1303.1,922.3"/>
<path d="M1008,821.8 L1010.8,822 L1013.6,822.4 L1016.4,822.8 L1019.1,823.3 L1021.7,823.9 L1024.3,824.6 L1026.8,825.4 L1029.3,826.2 L1031.7,827.2 L1034.1,828.2 L1036.4,829.3 L1038.6,830.5 L1040.8,831.7 L1043,833.1 L1045,834.5 L1047,835.9 L1048.9,837.5 L1050.8,839.1 L1052.6,840.8 L1054.3,842.5 L1056,844.3 L1057.6,846.2 L1059.1,848.1 L1060.6,850.1 L1062.1,852.1 L1063.5,854.2 L1064.8,856.3 L1066.1,858.4 L1067.4,860.6 L1068.6,862.8 L1069.8,865.1 L1070.9,867.4 L1072,869.7 L1073.1,872 L1074.2,874.4 L1075.3,876.8 L1076.3,879.2 L1077.3,881.6 L1078.3,884 L1079.3,886.4 L1080.3,888.9 L1081.3,891.3 L1082.2,893.7 L1083.2,896.2 L1084.2,898.6 L1085.2,901 L1086.2,903.4 L1087.2,905.8 L1088.2,908.2 L1089.2,910.5 L1090.3,912.9 L1091.3,915.2 L1092.4,917.5 L1093.5,919.9 L1094.5,922.2 L1095.6,924.5 L1096.7,926.8 L1097.9,929 L1099,931.3 L1100.2,933.5 L1101.3,935.8 L1102.5,938 L1103.7,940.2 L1104.9,942.4 L1106.1,944.6 L1107.4,946.8 L1108.6,949 L1109.9,951.1 L1111.2,953.3 L1112.5,955.4 L1113.8,957.5 L1115.2,959.6 L1116.5,961.8 L1117.9,963.9 L1119.3,965.9 L1120.7,968 L1122.2,970.1 L1123.6,972.1 L1125.1,974.2 L1126.6,976.2 L1128.1,978.2 L1129.7,980.2 L1131.3,982.2 L1132.9,984.2 L1134.5,986.2 L1136.1,988.2 L1137.8,990.1 L1139.5,992.1 L1141.2,994 L1142.8,995.9"/>
<path d="M1008,823.3 L1010.4,824.2 L1012.8,825 L1015.3,825.7 L1017.8,826.4 L1020.3,827 L1022.8,827.7 L1025.3,828.3 L1027.9,829 L1030.4,829.7 L1032.8,830.4 L1035.2,831.1 L1037.6,831.9 L1040,832.8 L1042.2,833.8 L1044.4,834.9 L1046.5,836.1 L1048.5,837.4 L1050.4,838.8 L1052.2,840.4 L1053.9,842.1 L1055.5,844 L1057,845.9 L1058.4,848 L1059.7,850.1 L1061,852.3 L1062.2,854.6 L1063.3,856.9 L1064.4,859.3 L1065.5,861.7 L1066.5,864.1 L1067.4,866.6 L1068.3,869 L1069.1,871.5 L1069.9,874 L1070.5,876.5 L1071.1,879 L1071.6,881.5 L1072,884 L1072.3,886.5 L1072.6,889 L1072.8,891.5 L1072.9,894 L1072.9,896.5 L1072.9,899 L1072.8,901.5 L1072.7,904 L1072.5,906.5 L1072.3,909 L1072.1,911.5 L1071.8,914 L1071.6,916.5 L1071.3,919 L1071,921.5 L1070.7,924 L1070.3,926.5 L1070,929.1 L1069.7,931.6 L1069.4,934.1 L1069.2,936.6 L1068.9,939.1 L1068.7,941.6 L1068.6,944.2 L1068.4,946.7 L1068.3,949.2 L1068.3,951.7 L1068.2,954.3 L1068.2,956.8 L1068.3,959.3 L1068.4,961.8 L1068.5,964.4 L1068.6,966.9 L1068.8,969.4 L1069,972 L1069.2,974.5 L1069.5,977 L1069.8,979.5 L1070.2,982 L1070.5,984.5 L1070.9,987 L1071.4,989.5 L1071.8,992 L1072.3,994.5 L1072.9,997 L1073.5,999.5 L1074.1,1002 L1074.7,1004.4 L1075.4,1006.8 L1076.2,1009.2 L1077.1,1011.6 L1078,1013.9 L1079.1,1016.2 L1080.2,1018.4 L1081.4,1020.5 L1082.8,1022.6 L1084.2,1024.7 L1085.8,1026.6 L1087.4,1028.6 L1089.1,1030.4 L1090.9,1032.2 L1092.8,1034 L1094.7,1035.7 L1096.7,1037.4 L1098.7,1039 L1100.7,1040.6 L1102.8,1042.1 L1104.8,1043.6 L1106.9,1045 L1109.1,1046.4 L1111.2,1047.8 L1113.4,1049.1 L1115.5,1050.4 L1117.7,1051.7 L1120,1052.9 L1122.2,1054.1 L1124.4,1055.3 L1126.7,1056.4 L1129,1057.5 L1131.3,1058.5 L1133.6,1059.6 L1135.9,1060.6 L1138.2,1061.5 L1140.6,1062.5 L1142.9,1063.4 L1145.3,1064.3 L1147.7,1065.1 L1150.1,1065.9 L1152.5,1066.7 L1154.9,1067.5 L1157.3,1068.3 L1159.7,1069 L1162.1,1069.7 L1164.6,1070.4 L1167,1071 L1169.5,1071.7 L1171.9,1072.3 L1174.4,1072.9 L1176.8,1073.4 L1179.3,1074 L1181.8,1074.5 L1184.2,1075 L1186.7,1075.4 L1189.2,1075.9 L1191.7,1076.3 L1194.2,1076.6 L1196.7,1076.9 L1199.2,1077.2 L1201.7,1077.5 L1204.2,1077.7 L1206.7,1077.9 L1209.2,1078.1 L1211.7,1078.2 L1214.2,1078.3 L1216.7,1078.4 L1219.2,1078.4 L1221.7,1078.3 L1224.2,1078.2 L1226.7,1078.1 L1229.2,1078 L1231.7,1077.8 L1234.3,1077.5 L1236.8,1077.2 L1239.3,1076.9 L1241.8,1076.5 L1244.3,1076.1 L1246.8,1075.7 L1249.3,1075.3 L1251.8,1074.9 L1254.3,1074.4 L1256.8,1074 L1259.3,1073.5 L1261.9,1073.1 L1264.4,1072.6 L1266.9,1072.2 L1269.4,1071.9 L1271.9,1071.5 L1274.4,1071.2 L1276.9,1070.9 L1279.4,1070.7 L1281.9,1070.5 L1283.7,1070.4"/>
<path d="M1008,824.8 L1010.6,825.3 L1013.2,825.7 L1015.7,826.3 L1018.2,826.9 L1020.7,827.5 L1023.2,828.2 L1025.7,829 L1028.1,829.8 L1030.5,830.7 L1032.8,831.6 L1035.1,832.6 L1037.4,833.7 L1039.6,834.8 L1041.8,836.1 L1043.9,837.3 L1046,838.7 L1048,840.2 L1050,841.7 L1051.9,843.3 L1053.7,845 L1055.5,846.8 L1057.2,848.6 L1058.9,850.5 L1060.5,852.5 L1062,854.5 L1063.5,856.6 L1064.9,858.7 L1066.3,860.9 L1067.6,863.1 L1068.8,865.4 L1070,867.7 L1071.1,870 L1072.2,872.4 L1073.1,874.8 L1074,877.2 L1074.9,879.6 L1075.6,882.1 L1076.3,884.5 L1076.9,887 L1077.4,889.5 L1077.9,892 L1078.2,894.5 L1078.5,897 L1078.7,899.5 L1078.9,902 L1078.9,904.5 L1079,907 L1078.9,909.6 L1078.8,912.1 L1078.7,914.6 L1078.5,917.1 L1078.3,919.6 L1078.1,922.2 L1077.8,924.7 L1077.5,927.2 L1077.2,929.7 L1076.9,932.2 L1076.5,934.8 L1076.1,937.3 L1075.8,939.8 L1075.4,942.3 L1075,944.8 L1074.7,947.3 L1074.3,949.8 L1073.9,952.3 L1073.6,954.8 L1073.3,957.4 L1073,959.9 L1072.7,962.4 L1072.4,964.9 L1072.2,967.4 L1072,969.9 L1071.8,972.5 L1071.7,975 L1071.6,977.5 L1071.5,980 L1071.4,982.6 L1071.4,985.1 L1071.4,987.6 L1071.5,990.1 L1071.5,992.6 L1071.6,995.2 L1071.7,997.7 L1071.9,1000.2 L1072.1,1002.7 L1072.3,1005.2 L1072.6,1007.7 L1072.8,1010.2 L1073.1,1012.7 L1073.5,1015.2 L1073.9,1017.7 L1074.3,1020.2 L1074.7,1022.7 L1075.2,1025.2 L1075.7,1027.6 L1076.2,1030.1 L1076.7,1032.6 L1077.3,1035 L1078,1037.5 L1078.6,1039.9 L1079.3,1042.3 L1080,1044.8 L1080.8,1047.2 L1081.5,1049.6 L1082.4,1052 L1083.2,1054.4 L1084.1,1056.8 L1085,1059.1 L1086,1061.5 L1087,1063.8 L1088,1066.1 L1089.1,1068.4 L1090.2,1070.7 L1091.4,1072.9 L1092.6,1075.1 L1093.8,1077.3 L1095.1,1079.5 L1096.5,1081.6 L1097.9,1083.7 L1099.3,1085.7 L1100.8,1087.8 L1102.4,1089.7 L1104,1091.7 L1105.6,1093.6 L1107.4,1095.4 L1109.1,1097.2 L1110.6,1098.7"/>
<path d="M1218.1,1120 L1284.2,1120"/>
<path d="M1218,182 L1271.9,168.1"/>
<path d="M1230.5,258.3 L1314.4,258.3"/>
<path d="M1195.8,245.5 L1198.1,244.5 L1200.4,243.4 L1202.8,242.4 L1205.1,241.4 L1207.4,240.4 L1209.8,239.4 L1212.1,238.4 L1214.4,237.4 L1216.8,236.4 L1219.1,235.4 L1221.4,234.5 L1223.8,233.5 L1226.1,232.5 L1228.5,231.6 L1230.8,230.7 L1233.2,229.7 L1235.5,228.8 L1237.8,227.9 L1240.2,227 L1242.6,226.1 L1244.9,225.2 L1247.3,224.3 L1249.6,223.4 L1252,222.6 L1254.3,221.7 L1256.7,220.9 L1259.1,220 L1261.4,219.2 L1263.8,218.4 L1266.2,217.6 L1268.5,216.8 L1270.9,216 L1273.3,215.2 L1275.7,214.4 L1278,213.6 L1280.4,212.8 L1282.8,212.1 L1285.2,211.3 L1287.6,210.6 L1290,209.9 L1292.4,209.2 L1294.7,208.4 L1297.1,207.7 L1299.5,207 L1301.9,206.4 L1304.3,205.7 L1306.7,205 L1309.2,204.4 L1311.6,203.7 L1314,203.1 L1316.4,202.5 L1318.8,201.8 L1321.2,201.2 L1323.6,200.6 L1326.1,200.1 L1328.5,199.5 L1330.9,198.9 L1333.3,198.3 L1335.8,197.8 L1338.2,197.3 L1340.6,196.7 L1343.1,196.2 L1345.5,195.7 L1348,195.2 L1350.4,194.7 L1352.9,194.2 L1355.3,193.8 L1357.8,193.3 L1360.2,192.9 L1362.7,192.4 L1365.1,192 L1367.6,191.6 L1370.1,191.2 L1372.5,190.8 L1375,190.4 L1377.5,190.1 L1380,189.7 L1382.4,189.4 L1384.9,189 L1387.4,188.7 L1389.9,188.4 L1392.4,188.1 L1394.9,187.8 L1397.4,187.5 L1399.9,187.2 L1402.4,187 L1404.9,186.7 L1407.4,186.5 L1409.9,186.3 L1412.4,186.1 L1414.9,185.9 L1417.5,185.7 L1420,185.5 L1422.5,185.3 L1425,185.2 L1427.6,185.1 L1430.1,184.9 L1432.6,184.8 L1435.2,184.7 L1437.7,184.6 L1440.3,184.6 L1442.8,184.5 L1445.3,184.5 L1447.9,184.4 L1450.4,184.4 L1453,184.4 L1455.5,184.4 L1458.1,184.5 L1460.6,184.5 L1463.2,184.6 L1465.7,184.7 L1468.2,184.8 L1470.8,184.9 L1473.3,185.1 L1475.9,185.2 L1478.4,185.4 L1480.9,185.6 L1483.4,185.8 L1486,186.1 L1488.5,186.3 L1491,186.6 L1493.5,186.9 L1496,187.2 L1498.5,187.6 L1501,188 L1503.5,188.3 L1506,188.8 L1508.5,189.2 L1511,189.7 L1513.4,190.1 L1515.9,190.7 L1518.4,191.2 L1520.8,191.7 L1523.3,192.3 L1525.7,192.9 L1528.1,193.6 L1530.5,194.2 L1533,194.9 L1535.4,195.6 L1537.8,196.4 L1540.1,197.2 L1542.5,198 L1544.9,198.8 L1547.2,199.6 L1549.6,200.5 L1551.9,201.4 L1554.2,202.4 L1556.6,203.3 L1558.9,204.3 L1561.1,205.4 L1563.4,206.4 L1565.7,207.5 L1567.9,208.6 L1570.1,209.7 L1572.4,210.9 L1574.6,212.1 L1576.7,213.3 L1578.9,214.5 L1581.1,215.8 L1583.2,217.1 L1585.3,218.4 L1587.4,219.7 L1589.5,221.1 L1591.5,222.5 L1593.5,223.9 L1595.6,225.4 L1597.5,226.9 L1599.5,228.4 L1601.5,229.9 L1603.4,231.5 L1605.3,233.1 L1607.2,234.7 L1609,236.3 L1610.9,238 L1612.7,239.7 L1614.4,241.4 L1616.2,243.2 L1617.9,244.9 L1619.6,246.7 L1621.3,248.5 L1622.9,250.4 L1624.6,252.3 L1626.1,254.2 L1627.7,256.1 L1629.2,258 L1630.7,260 L1632.2,262 L1633.6,264 L1635,266.1 L1636.4,268.2 L1637.7,270.3 L1639,272.4 L1640.3,274.6 L1641.6,276.7 L1642.8,278.9 L1644,281.2 L1645.1,283.4 L1646.2,285.7 L1647.3,288 L1648.4,290.2 L1649.4,292.6 L1650.4,294.9 L1651.4,297.2 L1652.4,299.6 L1653.4,302 L1654.3,304.4 L1655.2,306.8 L1656.1,309.2 L1657,311.6 L1657.9,314 L1658.7,316.4 L1659.6,318.8 L1660.4,321.3 L1661.2,323.7 L1662,326.1 L1662.8,328.6 L1663.6,331 L1664.4,333.4 L1665.2,335.9 L1665.9,338.3 L1666.7,340.7 L1667.5,343.2 L1668.2,345.6 L1668.9,348 L1669.7,350.5 L1670.4,352.9 L1671.1,355.3 L1671.8,357.7 L1672.5,360.1 L1673.2,362.6 L1673.9,365 L1674.6,367.4 L1675.3,369.8 L1676,372.3 L1676.6,374.7 L1677.3,377.1 L1677.9,379.5 L1678.5,382 L1679.1,384.4 L1679.7,386.8 L1680.3,389.2 L1680.9,391.7 L1681.5,394.1 L1682.1,396.5 L1682.6,399 L1683.2,401.4 L1683.7,403.9 L1684.2,406.3 L1684.7,408.8 L1685.2,411.2 L1685.7,413.7 L1686.2,416.1 L1686.7,418.6 L1687.2,421 L1687.7,423.5 L1688.1,425.9 L1688.6,428.4 L1689,430.8 L1689.4,433.3 L1689.9,435.8 L1690.3,438.2 L1690.7,440.7 L1691.1,443.2 L1691.5,445.6 L1691.9,448.1 L1692.3,450.6 L1692.7,453.1 L1693.1,455.5 L1693.5,458 L1693.9,460.5 L1694.3,462.9 L1694.7,465.4 L1695,467.9 L1695.4,470.4 L1695.8,472.9 L1696.2,475.3 L1696.5,477.8 L1696.9,480.3 L1697.3,482.8 L1697.6,485.3 L1698,487.7 L1698.4,490.2 L1698.7,492.7 L1699.1,495.2 L1699.5,497.7 L1699.9,500.1 L1700.2,502.6 L1700.6,505.1 L1701,507.6 L1701.4,510.1 L1701.8,512.6 L1702.2,515 L1702.5,517.5 L1702.9,520 L1703.3,522.5 L1703.7,525 L1704.2,527.4 L1704.6,529.9 L1705,532.4 L1705.4,534.9 L1705.8,537.4 L1706.3,539.8 L1706.7,542.3 L1707.1,544.8 L1707.5,547.3 L1708,549.7 L1708.4,552.2 L1708.8,554.7 L1709.3,557.2 L1709.7,559.6 L1710.2,562.1 L1710.6,564.6 L1711,567.1 L1711.5,569.6 L1711.9,572 L1712.4,574.5 L1712.8,577 L1713.3,579.5 L1713.7,581.9 L1714.1,584.4 L1714.6,586.9 L1715,589.4 L1715.4,591.8 L1715.9,594.3 L1716.3,596.8 L1716.7,599.3 L1717.1,601.8 L1717.6,604.2 L1718,606.7 L1718.4,609.2 L1718.8,611.7 L1719.2,614.2 L1719.6,616.6 L1720,619.1 L1720.4,621.6 L1720.8,624.1 L1721.2,626.6 L1721.6,629.1 L1721.9,631.5 L1722.3,634 L1722.7,636.5 L1723,639 L1723.4,641.5 L1723.7,644 L1724.1,646.5 L1724.4,648.9 L1724.7,651.4 L1725,653.9 L1725.3,656.4 L1725.6,658.9 L1725.9,661.4 L1726.2,663.9 L1726.5,666.4 L1726.8,668.9 L1727,671.4 L1727.3,673.9 L1727.5,676.4 L1727.8,678.9 L1728,681.4 L1728.2,683.9 L1728.4,686.4 L1728.5,688.1"/>
<path d="M1235.6,461 L1273,461"/>
<path d="M1230.2,667.7 L1232.6,667.6 L1235.1,667.4 L1237.5,667.3 L1240,667.1 L1242.4,667 L1244.9,666.9 L1247.4,666.8 L1249.9,666.6 L1252.4,666.5 L1254.9,666.4 L1257.4,666.3 L1259.9,666.1 L1262.5,666 L1265,665.9 L1267.5,665.7 L1270.1,665.6 L1272.6,665.5 L1275.2,665.3 L1277.7,665.1 L1280.3,665 L1282.8,664.8 L1285.4,664.6 L1287.9,664.4 L1290.5,664.2 L1293,664 L1295.6,663.8 L1298.2,663.5 L1300.7,663.3 L1303.3,663 L1305.8,662.7 L1308.4,662.4 L1310.9,662.1 L1313.5,661.8 L1316,661.4 L1318.5,661.1 L1321.1,660.7 L1323.6,660.3 L1326.1,659.9 L1328.6,659.4 L1331.1,658.9 L1333.6,658.4 L1336.1,657.9 L1338.6,657.4 L1341.1,656.8 L1343.6,656.2 L1346,655.6 L1348.5,654.9 L1350.9,654.2 L1353.3,653.5 L1355.7,652.8 L1358.2,652.1 L1360.5,651.3 L1362.9,650.5 L1365.3,649.7 L1367.7,648.8 L1370,647.9 L1372.4,647 L1374.7,646.1 L1377,645.1 L1379.3,644.1 L1381.6,643.1 L1383.9,642.1 L1386.1,641 L1388.4,640 L1390.6,638.8 L1392.9,637.7 L1395.1,636.5 L1397.3,635.4 L1399.4,634.1 L1401.6,632.9 L1403.8,631.6 L1405.9,630.4 L1408,629 L1410.1,627.7 L1412.2,626.3 L1414.3,624.9 L1416.3,623.5 L1418.4,622.1 L1420.4,620.6 L1422.4,619.1 L1424.4,617.6 L1426.3,616.1 L1428.3,614.5 L1430.2,612.9 L1432.1,611.3 L1434,609.7 L1435.9,608 L1437.8,606.3 L1439.6,604.6 L1441.4,602.9 L1443.3,601.1 L1445.1,599.3 L1446.8,597.5 L1448.6,595.7 L1450.4,593.9 L1452.1,592 L1453.8,590.2 L1455.5,588.3 L1457.2,586.4 L1458.9,584.5 L1460.6,582.6 L1462.3,580.6 L1463.9,578.7 L1465.6,576.7 L1467.2,574.8 L1468.9,572.8 L1470.5,570.8 L1472.1,568.8 L1473.7,566.8 L1475.3,564.8 L1476.9,562.8 L1478.5,560.7 L1480.1,558.7 L1481.6,556.7 L1483.2,554.7 L1484.8,552.6 L1486.4,550.6 L1487.9,548.6 L1489.5,546.5 L1491,544.5 L1492.6,542.5 L1494.2,540.4 L1495.7,538.4 L1497.3,536.4 L1498.8,534.4 L1500.4,532.3 L1501.9,530.3 L1503.5,528.3 L1505.1,526.3 L1506.6,524.4 L1508.2,522.4 L1509.8,520.4 L1511.4,518.5 L1512.9,516.5 L1514.5,514.6 L1516.1,512.7 L1517.7,510.8 L1518.7,509.7"/>
<path d="M1230.2,670 L1232.7,670.3 L1235.2,670.5 L1237.7,670.8 L1240.2,671 L1242.7,671.3 L1245.2,671.5 L1247.8,671.7 L1250.3,672 L1252.8,672.2 L1255.3,672.5 L1257.8,672.7 L1260.3,673 L1262.8,673.2 L1265.3,673.5 L1267.8,673.7 L1270.3,673.9 L1272.8,674.2 L1275.4,674.4 L1277.9,674.7 L1280.4,674.9 L1282.9,675.1 L1285.4,675.4 L1287.9,675.6 L1290.4,675.9 L1292.9,676.1 L1295.4,676.3 L1297.9,676.6 L1300.5,676.8 L1303,677 L1305.5,677.3 L1308,677.5 L1310.5,677.7 L1313,677.9 L1315.5,678.2 L1318,678.4 L1320.5,678.6 L1323,678.9 L1325.6,679.1 L1328.1,679.3 L1330.6,679.5 L1333.1,679.8 L1335.6,680 L1338.1,680.2 L1340.6,680.5 L1343.1,680.7 L1345.6,680.9 L1348.1,681.1 L1350.7,681.3 L1353.2,681.6 L1355.7,681.8 L1358.2,682 L1360.7,682.2 L1363.2,682.5 L1365.7,682.7 L1368.2,682.9 L1370.7,683.1 L1373.3,683.3 L1375.8,683.6 L1378.3,683.8 L1380.8,684 L1383.3,684.2 L1385.8,684.4 L1388.3,684.7 L1390.8,684.9 L1393.3,685.1 L1395.9,685.3 L1398.4,685.5 L1400.9,685.7 L1403.4,686 L1405.9,686.2 L1408.4,686.4 L1410.9,686.6 L1413.4,686.8 L1415.9,687 L1418.5,687.3 L1421,687.5 L1423.5,687.7 L1426,687.9 L1428.5,688.1 L1431,688.3 L1433.5,688.5 L1436,688.8 L1438.5,689 L1441.1,689.2 L1443.6,689.4 L1446.1,689.6 L1448.6,689.8 L1451.1,690 L1453.6,690.2 L1456.1,690.5 L1458.6,690.7 L1461.1,690.9 L1463.7,691.1 L1466.2,691.3 L1468.7,691.5 L1471.2,691.7 L1473.7,691.9 L1476.2,692.2 L1478.7,692.4 L1481.2,692.6 L1483.8,692.8 L1486.3,693 L1488.8,693.2 L1491.3,693.4 L1493.8,693.6 L1496.3,693.9 L1498.8,694.1 L1501.3,694.3 L1503.8,694.5 L1506.4,694.7 L1508.9,694.9 L1511.4,695.1 L1513.9,695.3 L1516.4,695.6 L1518.9,695.8 L1521.4,696 L1523.9,696.2 L1526.5,696.4 L1529,696.6 L1531.5,696.8 L1534,697.1 L1536.5,697.3 L1539,697.5 L1541.5,697.7 L1544,697.9 L1546.5,698.1 L1549.1,698.3 L1551.6,698.6 L1554.1,698.8 L1556.6,699 L1559.1,699.2 L1561.6,699.4 L1564.1,699.6 L1566.6,699.9 L1569.1,700.1 L1571.7,700.3 L1574.2,700.5 L1576.7,700.7 L1579.2,701 L1581.7,701.2 L1584.2,701.4 L1586.7,701.6 L1589.2,701.8 L1591.7,702 L1594.3,702.3 L1596.8,702.5 L1599.3,702.7 L1601.8,702.9 L1604.3,703.2 L1606.8,703.4 L1609.3,703.6 L1611.8,703.8 L1614.3,704 L1616.9,704.3 L1619.4,704.5 L1621.9,704.7 L1624.4,704.9 L1626.9,705.2 L1629.4,705.4 L1631.9,705.6 L1634.4,705.9 L1636.9,706.1 L1639.4,706.3 L1642,706.5 L1644.5,706.8 L1647,707 L1649.5,707.2 L1652,707.5 L1654.5,707.7 L1657,707.9 L1659.5,708.2 L1662,708.4 L1664.5,708.6 L1667.1,708.9 L1669.6,709.1 L1672.1,709.3 L1674.6,709.6 L1677.1,709.8 L1679.6,710 L1682.1,710.3 L1684.6,710.5 L1687.1,710.8 L1689.6,711 L1692.1,711.2 L1694,711.4"/>
<path d="M1206,677 L1208.5,677.9 L1210.9,678.9 L1213.3,679.9 L1215.6,681 L1217.9,682.1 L1220.2,683.3 L1222.4,684.5 L1224.6,685.8 L1226.7,687.1 L1228.8,688.5 L1230.9,689.9 L1232.9,691.4 L1234.9,692.9 L1236.9,694.5 L1238.8,696.1 L1240.7,697.7 L1242.6,699.4 L1244.4,701.1 L1246.2,702.8 L1248,704.6 L1249.7,706.5 L1251.4,708.3 L1253.1,710.2 L1254.8,712.1 L1256.4,714.1 L1258,716.1 L1259.6,718.1 L1261.1,720.1 L1262.7,722.1 L1264.2,724.2 L1265.7,726.3 L1267.2,728.4 L1268.6,730.6 L1270,732.7 L1271.4,734.9 L1272.8,737.1 L1274.2,739.3 L1275.6,741.5 L1276.9,743.7 L1278.2,746 L1279.5,748.2 L1280.8,750.5 L1282.1,752.7 L1283.4,755 L1284.7,757.3 L1285.9,759.6 L1287.1,761.8 L1288.4,764.1 L1289.6,766.4 L1290.8,768.7 L1292,770.9 L1293.2,773.2 L1294.4,775.5 L1295.6,777.7 L1296.8,780 L1297.9,782.3 L1299.1,784.5 L1300.2,786.8 L1301.4,789 L1302.5,791.2 L1303.7,793.5 L1304.8,795.7 L1305.9,798 L1307,800.2 L1308.1,802.5 L1309.1,804.7 L1310.2,807 L1311.2,809.3 L1312.3,811.5 L1313.3,813.8 L1314.3,816.1 L1315.3,818.4 L1316.2,820.6 L1317.2,822.9 L1318.1,825.3 L1319,827.6 L1320,829.9 L1320.8,832.2 L1321.7,834.6 L1322.6,836.9 L1323.4,839.3 L1324.2,841.7 L1325,844.1 L1325.8,846.5 L1326.5,848.9 L1327.3,851.3 L1328,853.8 L1328.8,856.2 L1329.5,858.7 L1330.2,861.1 L1330.9,863.6 L1331.6,866.1 L1332.2,868.5 L1332.9,871 L1333.6,873.5 L1334.3,876 L1334.9,878.5 L1335.6,881 L1336.3,883.5 L1337,886 L1337.6,888.5 L1338.2,890.8"/>
<path d="M1195.4,1005.2 L1314.5,936.4"/>
<path d="M1227.3,1005.2 L1229.8,1004.7 L1232.3,1004.2 L1234.8,1003.6 L1237.2,1003.1 L1239.7,1002.5 L1242.2,1001.9 L1244.7,1001.4 L1247.1,1000.8 L1249.6,1000.2 L1252.1,999.6 L1254.5,999 L1257,998.4 L1259.4,997.8 L1261.9,997.1 L1264.3,996.5 L1266.8,995.8 L1269.2,995.2 L1271.6,994.5 L1274.1,993.8 L1276.5,993.1 L1278.9,992.4 L1281.4,991.7 L1283.8,991 L1286.2,990.3 L1288.6,989.6 L1291,988.8 L1293.4,988.1 L1295.8,987.3 L1298.2,986.6 L1300.6,985.8 L1303,985 L1305.4,984.3 L1307.8,983.5 L1310.2,982.7 L1312.5,981.9 L1314.9,981 L1317.3,980.2 L1319.7,979.4 L1322,978.5 L1324.4,977.7 L1326.7,976.8 L1329.1,976 L1331.5,975.1 L1333.8,974.2 L1336.2,973.3 L1338.5,972.4 L1340.8,971.5 L1343.2,970.6 L1345.5,969.7 L1347.8,968.8 L1350.2,967.8 L1352.5,966.9 L1354.8,966 L1357.1,965 L1359.4,964 L1361.7,963.1 L1364.1,962.1 L1366.4,961.1 L1368.7,960.1 L1371,959.1 L1373.2,958.1 L1375.5,957.1 L1377.8,956.1 L1380.1,955 L1382.4,954 L1384.7,953 L1386.9,951.9 L1389.2,950.9 L1391.5,949.8 L1393.7,948.7 L1396,947.6 L1398.3,946.6 L1400.5,945.5 L1402.8,944.4 L1405,943.3 L1407.3,942.2 L1409.5,941 L1411.7,939.9 L1414,938.8 L1416.2,937.6 L1418.4,936.5 L1420.6,935.4 L1422.9,934.2 L1425.1,933 L1427.3,931.9 L1429.5,930.7 L1431.7,929.5 L1433.9,928.3 L1436.1,927.1 L1438.3,925.9 L1440.5,924.7 L1442.7,923.5 L1444.9,922.3 L1447.1,921 L1449.3,919.8 L1451.4,918.6 L1453.6,917.3 L1455.8,916.1 L1457.9,914.8 L1460.1,913.5 L1462.3,912.3 L1464.4,911 L1466.6,909.7 L1468.7,908.4 L1470.9,907.1 L1473,905.8 L1475.2,904.5 L1477.3,903.2 L1479.4,901.9 L1481.6,900.6 L1483.7,899.2 L1485.8,897.9 L1487.9,896.6 L1490.1,895.2 L1492.2,893.9 L1494.3,892.5 L1496.4,891.1 L1498.5,889.8 L1500.6,888.4 L1502.7,887 L1504.8,885.6 L1506.9,884.2 L1509,882.9 L1511.1,881.5 L1513.1,880 L1515.2,878.6 L1517.3,877.2 L1519.4,875.8 L1521.4,874.4 L1523.5,873 L1525.6,871.5 L1527.6,870.1 L1529.7,868.6 L1531.7,867.2 L1533.8,865.7 L1535.9,864.3 L1537.9,862.8 L1539.9,861.4 L1542,859.9 L1544,858.4 L1546.1,857 L1548.1,855.5 L1550.1,854 L1552.2,852.5 L1554.2,851 L1556.2,849.5 L1558.3,848.1 L1560.3,846.6 L1562.3,845.1 L1564.3,843.6 L1566.4,842.1 L1568.4,840.5 L1570.4,839 L1572.4,837.5 L1574.4,836 L1576.4,834.5 L1578.4,833 L1580.4,831.5 L1582.4,829.9 L1584.5,828.4 L1586.5,826.9 L1588.5,825.3 L1590.5,823.8 L1592.5,822.3 L1594.5,820.7 L1596.5,819.2 L1598.4,817.7 L1600.4,816.1 L1602.4,814.6 L1604.4,813.1 L1606.4,811.5 L1608.4,810 L1610.4,808.4 L1612.4,806.9 L1614.4,805.3 L1616.4,803.8 L1618.4,802.2 L1620.3,800.7 L1622.3,799.1 L1624.3,797.6 L1626.3,796 L1628.3,794.5 L1630.3,792.9 L1632.3,791.4 L1634.2,789.8 L1636.2,788.3 L1638.2,786.7 L1640.2,785.2 L1642.2,783.6 L1644.2,782.1 L1646.2,780.6 L1648.1,779 L1650.1,777.5 L1652.1,775.9 L1654.1,774.4 L1656.1,772.8 L1658.1,771.3 L1660.1,769.7 L1662,768.2 L1664,766.7 L1666,765.1 L1668,763.6 L1670,762.1 L1672,760.5 L1674,759 L1676,757.5 L1677.9,755.9 L1679.9,754.4 L1681.9,752.9 L1683.9,751.4 L1685.9,749.9 L1687.9,748.3 L1689.9,746.8 L1691.9,745.3 L1693.9,743.8 L1695.9,742.3 L1697.9,740.8 L1699.9,739.3 L1701.9,737.8 L1703.9,736.3 L1705.3,735.3"/>
<path d="M1410.5,1059.3 L1413,1059.2 L1415.4,1059.1 L1417.9,1059 L1420.4,1058.8 L1422.9,1058.7 L1425.4,1058.5 L1427.8,1058.4 L1430.3,1058.2 L1432.8,1058 L1435.3,1057.8 L1437.9,1057.6 L1440.4,1057.3 L1442.9,1057.1 L1445.4,1056.8 L1447.9,1056.5 L1450.4,1056.2 L1452.9,1055.9 L1455.4,1055.6 L1458,1055.3 L1460.5,1054.9 L1463,1054.5 L1465.5,1054.2 L1468,1053.8 L1470.5,1053.3 L1473,1052.9 L1475.6,1052.5 L1478.1,1052 L1480.6,1051.5 L1483.1,1051 L1485.6,1050.5 L1488.1,1050 L1490.6,1049.4 L1493,1048.9 L1495.5,1048.3 L1498,1047.7 L1500.5,1047 L1502.9,1046.4 L1505.4,1045.7 L1507.9,1045.1 L1510.3,1044.4 L1512.8,1043.6 L1515.2,1042.9 L1517.6,1042.1 L1520,1041.4 L1522.4,1040.6 L1524.9,1039.7 L1527.2,1038.9 L1529.6,1038 L1532,1037.2 L1534.4,1036.3 L1536.7,1035.3 L1539.1,1034.4 L1541.4,1033.4 L1543.8,1032.4 L1546.1,1031.4 L1548.4,1030.4 L1550.7,1029.3 L1552.9,1028.3 L1555.2,1027.2 L1557.5,1026 L1559.7,1024.9 L1562,1023.7 L1564.2,1022.6 L1566.4,1021.4 L1568.6,1020.1 L1570.8,1018.9 L1572.9,1017.6 L1575.1,1016.3 L1577.2,1015 L1579.3,1013.7 L1581.4,1012.3 L1583.5,1011 L1585.6,1009.6 L1587.7,1008.1 L1589.7,1006.7 L1591.7,1005.2 L1593.8,1003.8 L1595.8,1002.3 L1597.7,1000.7 L1599.7,999.2 L1601.6,997.6 L1603.6,996 L1605.5,994.4 L1607.4,992.8 L1609.2,991.1 L1611.1,989.5 L1612.9,987.8 L1614.8,986.1 L1616.6,984.4 L1618.4,982.6 L1620.1,980.9 L1621.9,979.1 L1623.6,977.3 L1625.3,975.5 L1627,973.7 L1628.7,971.8 L1630.4,969.9 L1632,968.1 L1633.7,966.2 L1635.3,964.3 L1636.9,962.3 L1638.4,960.4 L1640,958.4 L1641.5,956.5 L1643.1,954.5 L1644.6,952.5 L1646.1,950.5 L1647.5,948.4 L1649,946.4 L1650.4,944.4 L1651.8,942.3 L1653.2,940.2 L1654.6,938.1 L1656,936 L1657.3,933.9 L1658.7,931.8 L1660,929.7 L1661.3,927.5 L1662.5,925.4 L1663.8,923.2 L1665.1,921 L1666.3,918.8 L1667.5,916.6 L1668.7,914.4 L1669.9,912.2 L1671.1,910 L1672.2,907.7 L1673.4,905.5 L1674.5,903.2 L1675.6,900.9 L1676.7,898.7 L1677.8,896.4 L1678.9,894.1 L1679.9,891.8 L1681,889.5 L1682,887.2 L1683,884.8 L1684,882.5 L1685,880.2 L1686,877.8 L1687,875.5 L1687.9,873.1 L1688.9,870.8 L1689.8,868.4 L1690.7,866 L1691.6,863.6 L1692.5,861.2 L1693.4,858.9 L1694.3,856.5 L1695.1,854.1 L1696,851.6 L1696.8,849.2 L1697.7,846.8 L1698.5,844.4 L1699.3,842 L1700.1,839.5 L1700.9,837.1 L1701.7,834.7 L1702.4,832.2 L1703.2,829.8 L1704,827.4 L1704.7,824.9 L1705.4,822.5 L1706.2,820 L1706.9,817.6 L1707.6,815.1 L1708.3,812.7 L1709,810.2 L1709.7,807.7 L1710.3,805.3 L1711,802.8 L1711.7,800.4 L1712.3,797.9 L1713,795.5 L1713.6,793 L1714.3,790.5 L1714.9,788.1 L1715.5,785.6 L1716.1,783.2 L1716.7,780.7 L1717.3,778.3 L1717.9,775.8 L1718.5,773.4 L1719.1,770.9 L1719.7,768.5 L1720.3,766 L1720.9,763.6 L1721.4,761.1 L1722,758.7 L1722.5,756.3 L1723.1,753.8 L1723.7,751.4 L1724.2,749 L1724.8,746.6 L1725.3,744.2 L1725.8,741.8 L1726.1,740.4"/>
<path d="M1381,1106.8 L1383.3,1105.5 L1385.6,1104.1 L1387.8,1102.7 L1390,1101.2 L1392,1099.7 L1394.1,1098.2 L1396,1096.6 L1397.9,1094.9 L1399.8,1093.2 L1401.5,1091.5 L1403.3,1089.7 L1405,1087.9 L1406.6,1086.1 L1408.2,1084.2 L1409.7,1082.3 L1411.2,1080.4 L1412.6,1078.4 L1414,1076.4 L1415.4,1074.3 L1416.7,1072.3 L1418,1070.2 L1419.2,1068.1 L1420.4,1065.9 L1421.5,1063.7 L1422.7,1061.5 L1423.7,1059.3 L1424.8,1057.1 L1425.8,1054.8 L1426.8,1052.5 L1427.8,1050.2 L1428.7,1047.9 L1429.6,1045.5 L1430.5,1043.2 L1431.4,1040.8 L1432.2,1038.4 L1433.1,1036 L1433.9,1033.6 L1434.6,1031.2 L1435.4,1028.8 L1436.2,1026.4 L1436.9,1023.9 L1437.7,1021.5 L1438.4,1019 L1439.1,1016.6 L1439.8,1014.1 L1440.5,1011.7 L1441.2,1009.2 L1441.9,1006.8 L1442.5,1004.3 L1443.2,1001.9 L1443.9,999.4 L1444.5,997 L1445.2,994.5 L1445.9,992.1 L1446.5,989.6 L1447.1,987.1 L1447.8,984.7 L1448.4,982.2 L1449.1,979.8 L1449.7,977.3 L1450.3,974.9 L1450.9,972.4 L1451.5,970 L1452.2,967.5 L1452.8,965 L1453.4,962.6 L1454,960.1 L1454.6,957.7 L1455.2,955.2 L1455.8,952.8 L1456.4,950.3 L1456.9,947.9 L1457.5,945.4 L1458.1,942.9 L1458.7,940.5 L1459.3,938 L1459.9,935.6 L1460.5,933.1 L1461,930.7 L1461.6,928.2 L1462.2,925.8 L1462.8,923.3 L1463.3,920.9 L1463.9,918.4 L1464.5,916 L1465,913.5 L1465.6,911.1 L1466.2,908.6 L1466.7,906.2 L1467.3,903.7 L1467.8,901.3 L1468.4,898.8 L1468.9,896.4 L1469.5,893.9 L1470,891.5 L1470.6,889 L1471.1,886.6 L1471.7,884.1 L1472.2,881.7 L1472.8,879.2 L1473.3,876.8 L1473.8,874.3 L1474.4,871.9 L1474.9,869.4 L1475.4,867 L1476,864.5 L1476.5,862.1 L1477,859.6 L1477.5,857.2 L1478.1,854.7 L1478.6,852.3 L1479.1,849.8 L1479.6,847.4 L1480.1,844.9 L1480.7,842.5 L1481.2,840 L1481.7,837.6 L1482.2,835.1 L1482.7,832.6 L1483.2,830.2 L1483.7,827.7 L1484.2,825.3 L1484.7,822.8 L1485.2,820.4 L1485.7,817.9 L1486.2,815.5 L1486.7,813 L1487.2,810.5 L1487.7,808.1 L1488.2,805.6 L1488.7,803.2 L1489.2,800.7 L1489.7,798.2 L1490.2,795.8 L1490.6,793.3 L1491.1,790.8 L1491.6,788.4 L1492.1,785.9 L1492.6,783.4 L1493,781 L1493.5,778.5 L1494,776 L1494.5,773.6 L1494.9,771.1 L1495.4,768.6 L1495.9,766.2 L1496.3,763.7 L1496.8,761.2 L1497.2,758.8 L1497.7,756.3 L1498.2,753.8 L1498.6,751.3 L1499.1,748.9 L1499.5,746.4 L1500,743.9 L1500.4,741.4 L1500.9,739 L1501.3,736.5 L1501.8,734 L1502.2,731.5 L1502.6,729.1 L1503.1,726.6 L1503.5,724.1 L1504,721.6 L1504.4,719.1 L1504.8,716.7 L1505.2,714.2 L1505.7,711.7 L1506.1,709.2 L1506.5,706.7 L1506.9,704.3 L1507.4,701.8 L1507.8,699.3 L1508.2,696.8 L1508.6,694.3 L1509,691.8 L1509.4,689.4 L1509.8,686.9 L1510.2,684.4 L1510.6,681.9 L1511,679.4 L1511.4,676.9 L1511.8,674.4 L1512.2,671.9 L1512.6,669.5 L1513,667 L1513.4,664.5 L1513.7,662 L1514.1,659.5 L1514.5,657 L1514.9,654.5 L1515.2,652 L1515.6,649.5 L1516,647 L1516.4,644.6 L1516.7,642.1 L1517.1,639.6 L1517.4,637.1 L1517.8,634.6 L1518.1,632.1 L1518.5,629.6 L1518.8,627.1 L1519.2,624.6 L1519.5,622.1 L1519.9,619.6 L1520.2,617.1 L1520.6,614.6 L1520.9,612.1 L1521.2,609.6 L1521.5,607.1 L1521.9,604.7 L1522.2,602.2 L1522.5,599.7 L1522.8,597.2 L1523.2,594.7 L1523.5,592.2 L1523.8,589.7 L1524.1,587.2 L1524.4,584.7 L1524.7,582.2 L1525,579.7 L1525.3,577.2 L1525.6,574.7 L1525.9,572.2 L1526.2,569.7 L1526.4,567.2 L1526.7,564.7 L1527,562.2 L1527.3,559.7 L1527.5,557.2 L1527.8,554.7 L1528.1,552.2 L1528.4,549.7 L1528.6,547.2 L1528.9,544.7 L1529.1,542.2 L1529.4,539.7 L1529.6,537.2 L1529.9,534.7 L1530.1,532.2 L1530.4,529.7 L1530.6,527.2 L1530.8,524.7 L1531.1,522.2 L1531.3,519.7 L1531.5,517.2 L1531.7,514.7 L1531.9,513"/>
<path d="M1396.2,1120 L1479.8,1120"/>
<path d="M1409.4,138 L1674.9,92.3"/>
<path d="M1409.4,152 L1476.7,155.3"/>
<path d="M1365.4,169.2 L1367.2,171.1 L1368.9,172.9 L1370.7,174.8 L1372.4,176.7 L1374.1,178.6 L1375.8,180.5 L1377.4,182.4 L1379.1,184.4 L1380.7,186.3 L1382.3,188.3 L1383.9,190.3 L1385.5,192.2 L1387,194.2 L1388.6,196.2 L1390.1,198.3 L1391.6,200.3 L1393.1,202.3 L1394.6,204.4 L1396.1,206.4 L1397.5,208.5 L1398.9,210.5 L1400.4,212.6 L1401.8,214.7 L1403.2,216.8 L1404.6,218.9 L1405.9,221 L1407.3,223.1 L1408.6,225.3 L1409.9,227.4 L1411.3,229.5 L1412.6,231.7 L1413.9,233.9 L1415.1,236 L1416.4,238.2 L1417.7,240.4 L1418.9,242.6 L1420.2,244.7 L1421.4,246.9 L1422.6,249.2 L1423.8,251.4 L1425,253.6 L1426.2,255.8 L1427.4,258 L1428.6,260.3 L1429.8,262.5 L1430.9,264.7 L1432.1,267 L1433.2,269.2 L1434.4,271.5 L1435.5,273.8 L1436.6,276 L1437.7,278.3 L1438.8,280.6 L1439.9,282.8 L1441,285.1 L1442.1,287.4 L1443.2,289.7 L1444.3,292 L1445.4,294.3 L1446.5,296.6 L1447.5,298.9 L1448.6,301.2 L1449.7,303.5 L1450.7,305.8 L1451.8,308.1 L1452.9,310.4 L1453.9,312.7 L1455,315 L1456,317.3 L1457.1,319.6 L1458.1,321.9 L1459.2,324.2 L1460.2,326.5 L1461.3,328.8 L1462.3,331.2 L1463.3,333.5 L1464.4,335.8 L1465.4,338.1 L1466.5,340.4 L1467.5,342.7 L1468.6,345 L1469.6,347.3 L1470.7,349.6 L1471.7,352 L1472.7,354.3 L1473.8,356.6 L1474.8,358.9 L1475.9,361.2 L1476.9,363.5 L1478,365.8 L1479,368.1 L1480.1,370.4 L1481.1,372.8 L1482.1,375.1 L1483.2,377.4 L1484.2,379.7 L1485.3,382 L1486.3,384.3 L1487.4,386.6 L1488.4,388.9 L1489.5,391.2 L1490.5,393.5 L1491.6,395.8 L1492.7,398.1 L1493.7,400.4 L1494.8,402.7 L1495.8,405 L1496.9,407.3 L1497.9,409.6 L1499,411.9 L1500.1,414.2 L1501.1,416.5 L1502.2,418.8 L1503.3,421.1 L1504.3,423.4 L1505.4,425.7 L1506.5,428 L1507.6,430.3 L1508.6,432.5 L1509.7,434.8 L1510.8,437.1 L1511.9,439.4 L1513,441.7 L1514.1,444 L1515.1,446.3 L1516.2,448.5 L1517.3,450.8 L1518.4,453.1 L1519.5,455.4 L1520.6,457.6 L1521.7,459.9 L1522.5,461.6"/>
<path d="M1366.5,257.6 L1446.1,257.6"/>
<path d="M1366.6,264.5 L1474.7,292.3"/>
<path d="M1407.6,469.8 L1501.1,482"/>
<path d="M1578.6,1120 L1647.7,1120"/>
<path d="M1571,144.4 L1685.6,98.9"/>
<path d="M1582,168.7 L1584.5,169.8 L1586.8,170.9 L1589.2,172.1 L1591.4,173.3 L1593.6,174.6 L1595.8,175.9 L1597.9,177.4 L1599.9,178.8 L1601.9,180.3 L1603.8,181.9 L1605.7,183.5 L1607.5,185.1 L1609.3,186.8 L1611,188.6 L1612.7,190.4 L1614.3,192.2 L1615.9,194 L1617.5,195.9 L1619,197.9 L1620.5,199.8 L1621.9,201.8 L1623.3,203.9 L1624.7,205.9 L1626,208 L1627.3,210.1 L1628.6,212.3 L1629.9,214.4 L1631.1,216.6 L1632.3,218.8 L1633.5,221 L1634.6,223.3 L1635.7,225.5 L1636.9,227.8 L1637.9,230.1 L1639,232.4 L1640.1,234.7 L1641.1,237 L1642.1,239.4 L1643.1,241.7 L1644.1,244 L1645.1,246.4 L1646.1,248.7 L1647,251.1 L1648,253.5 L1648.9,255.8 L1649.8,258.2 L1650.7,260.6 L1651.6,263 L1652.5,265.4 L1653.3,267.8 L1654.2,270.2 L1655,272.6 L1655.9,275 L1656.7,277.5 L1657.5,279.9 L1658.3,282.3 L1659.1,284.7 L1659.9,287.2 L1660.6,289.6 L1661.4,292 L1662.1,294.5 L1662.9,296.9 L1663.6,299.4 L1664.3,301.8 L1665,304.2 L1665.7,306.7 L1666.4,309.1 L1667.1,311.5 L1667.8,314 L1668.5,316.4 L1669.2,318.9 L1669.8,321.3 L1670.5,323.7 L1671.1,326.2 L1671.7,328.6 L1672.4,331.1 L1673,333.5 L1673.6,335.9 L1674.2,338.4 L1674.8,340.8 L1675.4,343.3 L1676,345.7 L1676.6,348.2 L1677.2,350.6 L1677.7,353.1 L1678.3,355.5 L1678.9,357.9 L1679.4,360.4 L1680,362.8 L1680.5,365.3 L1681.1,367.7 L1681.6,370.2 L1682.1,372.6 L1682.6,375.1 L1683.2,377.5 L1683.7,380 L1684.2,382.5 L1684.7,384.9 L1685.2,387.4 L1685.7,389.8 L1686.2,392.3 L1686.7,394.7 L1687.2,397.2 L1687.6,399.6 L1688.1,402.1 L1688.6,404.6 L1689.1,407 L1689.5,409.5 L1690,412 L1690.5,414.4 L1690.9,416.9 L1691.4,419.3 L1691.8,421.8 L1692.3,424.3 L1692.8,426.7 L1693.2,429.2 L1693.7,431.7 L1694.1,434.2 L1694.5,436.6 L1695,439.1 L1695.4,441.6 L1695.9,444 L1696.3,446.5 L1696.7,449 L1697.2,451.5 L1697.6,454 L1698,456.4 L1698.5,458.9 L1698.9,461.4 L1699.3,463.9 L1699.7,466.4 L1700.2,468.8 L1700.6,471.3 L1701,473.8 L1701.4,476.3 L1701.8,478.8 L1702.3,481.3 L1702.7,483.8 L1703.1,486.2 L1703.5,488.7 L1703.9,491.2 L1704.3,493.7 L1704.7,496.2 L1705.1,498.7 L1705.5,501.2 L1705.9,503.7 L1706.3,506.2 L1706.7,508.7 L1707.1,511.2 L1707.5,513.7 L1707.9,516.2 L1708.3,518.7 L1708.6,521.2 L1709,523.7 L1709.4,526.1 L1709.8,528.6 L1710.2,531.1 L1710.5,533.6 L1710.9,536.1 L1711.3,538.6 L1711.7,541.1 L1712,543.6 L1712.4,546.1 L1712.7,548.7 L1713.1,551.2 L1713.5,553.7 L1713.8,556.2 L1714.2,558.7 L1714.5,561.2 L1714.9,563.7 L1715.2,566.2 L1715.6,568.7 L1715.9,571.2 L1716.3,573.7 L1716.6,576.2 L1716.9,578.7 L1717.3,581.2 L1717.6,583.7 L1717.9,586.2 L1718.3,588.7 L1718.6,591.2 L1718.9,593.7 L1719.2,596.2 L1719.5,598.7 L1719.9,601.2 L1720.2,603.8 L1720.5,606.3 L1720.8,608.8 L1721.1,611.3 L1721.4,613.8 L1721.7,616.3 L1722,618.8 L1722.3,621.3 L1722.6,623.8 L1722.9,626.3 L1723.2,628.8 L1723.5,631.3 L1723.7,633.8 L1724,636.3 L1724.3,638.8 L1724.6,641.3 L1724.8,643.9 L1725.1,646.4 L1725.4,648.9 L1725.7,651.4 L1725.9,653.9 L1726.2,656.4 L1726.4,658.9 L1726.7,661.4 L1726.9,663.9 L1727.2,666.4 L1727.4,668.9 L1727.7,671.4 L1727.9,673.9 L1728.2,676.4 L1728.4,678.9 L1728.6,681.4 L1728.9,683.9 L1729.1,686.4 L1729.3,688.1"/>
<path d="M1777,81.2 L1838.1,81.2"/>
<path d="M1757.8,714.4 L1838.9,714.4"/>
</g><g fill="#191970" stroke="#191970" stroke-width="1.33">
<polygon points="274,398.2 263.3,407.2 260.1,399.2"/>
<polygon points="649.4,134.2 636.4,139.4 635.8,130.8"/>
<polygon points="1514.3,493.8 1503.4,502.6 1500.3,494.6"/>
<polygon points="685.9,1067.9 672.5,1071.7 672.8,1063.1"/>
<polygon points="1693,68.4 1679,68.4 1681.6,60.3"/>
<polygon points="459.3,220.6 449,230 445.4,222.2"/>
<polygon points="475.2,271.4 463.1,278.3 461.3,269.9"/>
<polygon points="714,354 700.1,355.7 701.8,347.2"/>
<polygon points="447.6,368.9 434.8,374.5 433.9,365.9"/>
<polygon points="1512.2,475.8 1498.4,473.5 1502.4,465.9"/>
<polygon points="915.6,485.4 902,488.7 902.7,480.1"/>
<polygon points="507,738.5 496.7,729.1 504.1,724.8"/>
<polygon points="685.9,1057.6 672,1056.1 675.5,1048.3"/>
<polygon points="709.1,144.6 698.6,153.8 695.2,145.9"/>
<polygon points="681,220 669.1,227.4 667.1,219.1"/>
<polygon points="650.5,258.3 637.2,262.6 637.2,254"/>
<polygon points="1521,473.7 1509.9,465.2 1517,460.3"/>
<polygon points="923,68.4 911.8,76.8 909,68.7"/>
<polygon points="1524.8,473.5 1517.3,461.7 1525.6,459.6"/>
<polygon points="1130.4,55.6 1117.1,59.9 1117.1,51.3"/>
<polygon points="904.4,169.5 892.4,176.7 890.5,168.4"/>
<polygon points="903.6,207.8 890.3,212.1 890.3,203.5"/>
<polygon points="904.4,221.3 892.4,228.4 890.5,220"/>
<polygon points="881.2,258.3 867.9,262.6 867.9,254"/>
<polygon points="1688,83 1674.8,87.5 1674.6,78.9"/>
<polygon points="938,473.3 924.3,470.5 928.6,463"/>
<polygon points="915.6,493 902.8,498.7 901.9,490.2"/>
<polygon points="719,524.6 711,536 705.8,529.2"/>
<polygon points="690,626 679.1,634.8 676,626.8"/>
<polygon points="1521,499.7 1513.1,511.2 1507.9,504.4"/>
<polygon points="691.4,752 678.1,756.3 678.1,747.7"/>
<polygon points="680.3,788.9 666.4,790.2 668.3,781.8"/>
<polygon points="715.3,879 701.8,875.5 706.4,868.2"/>
<polygon points="685.9,1059.4 672,1060.7 673.9,1052.3"/>
<polygon points="1120,1109.7 1106.1,1111.1 1107.9,1102.7"/>
<polygon points="916,802.5 902,803 904.4,794.7"/>
<polygon points="894.6,875.4 881.8,881 880.9,872.4"/>
<polygon points="894.6,909.6 880.9,912.4 881.9,903.8"/>
<polygon points="1316.4,924.8 1303.4,930.1 1302.8,921.5"/>
<polygon points="1299.8,1131.8 1287.7,1138.7 1285.9,1130.3"/>
<polygon points="1130.5,207.8 1118.7,215.2 1116.6,206.9"/>
<polygon points="1153.3,271.4 1148,284.3 1141.4,278.8"/>
<polygon points="1097.3,469.5 1084.7,475.5 1083.6,466.9"/>
<polygon points="1514,486.6 1500.7,490.9 1500.7,482.3"/>
<polygon points="1146,651.2 1133.2,645.5 1139,639.1"/>
<polygon points="1126,752.6 1112.2,750.5 1116,742.8"/>
<polygon points="1340.6,903.6 1330.9,893.5 1338.7,889.8"/>
<polygon points="1125.7,774.3 1113.9,781.8 1111.7,773.5"/>
<polygon points="1097.6,815.8 1084.3,820.1 1084.3,811.5"/>
<polygon points="1114.2,853.6 1100.2,853.5 1102.9,845.3"/>
<polygon points="1316.4,922.5 1303,926.6 1303.2,918"/>
<polygon points="1152,1005.5 1139.7,998.8 1145.9,992.9"/>
<polygon points="1297,1070.8 1283.6,1074.7 1283.8,1066.1"/>
<polygon points="1121,1107 1107.9,1102 1113.3,1095.3"/>
<polygon points="1297.5,1120 1284.2,1124.3 1284.2,1115.7"/>
<polygon points="1284.8,164.8 1273,172.3 1270.8,164"/>
<polygon points="1327.7,258.3 1314.4,262.6 1314.4,254"/>
<polygon points="1729.4,701.4 1724.2,688.4 1732.8,687.8"/>
<polygon points="1286.3,461 1273,465.3 1273,456.7"/>
<polygon points="1527.5,499.7 1521.9,512.5 1515.5,506.8"/>
<polygon points="1707.2,712.7 1693.5,715.7 1694.4,707.1"/>
<polygon points="1341.8,903.6 1334.1,891.9 1342.4,889.6"/>
<polygon points="1326,929.8 1316.6,940.2 1312.3,932.7"/>
<polygon points="1716,727.4 1707.8,738.8 1702.7,731.8"/>
<polygon points="1729,727.4 1730.3,741.3 1721.9,739.5"/>
<polygon points="1533,499.7 1536.2,513.3 1527.6,512.6"/>
<polygon points="1493.1,1120 1479.8,1124.3 1479.8,1115.7"/>
<polygon points="1688,90 1675.6,96.5 1674.2,88"/>
<polygon points="1490,156 1476.5,159.6 1476.9,151"/>
<polygon points="1528.4,473.5 1518.7,463.5 1526.4,459.7"/>
<polygon points="1459.4,257.6 1446.1,261.9 1446.1,253.3"/>
<polygon points="1487.6,295.6 1473.6,296.5 1475.8,288.1"/>
<polygon points="1514.3,483.7 1500.6,486.2 1501.7,477.7"/>
<polygon points="1661,1120 1647.7,1124.3 1647.7,1115.7"/>
<polygon points="1698,94 1687.2,102.9 1684.1,94.9"/>
<polygon points="1730.4,701.4 1725,688.5 1733.5,687.8"/>
<polygon points="1851.4,81.2 1838.1,85.5 1838.1,76.9"/>
<polygon points="1852.2,714.4 1838.9,718.7 1838.9,710.1"/>
</g><g stroke-width="1.33">
<rect x="5" y="461.7" width="173.7" height="25.7" fill="#bfbfbf" stroke="#000"/>
<rect x="226.4" y="372.7" width="158.8" height="25.5" fill="#fff" stroke="#000"/>
<rect x="453.2" y="195.2" width="126.8" height="25.2" fill="#fff" stroke="#000"/>
<rect x="433.2" y="246" width="166.8" height="25.2" fill="#fff" stroke="#000"/>
<rect x="447.6" y="347.2" width="137.6" height="25.4" fill="#fff" stroke="#000"/>
<rect x="469.2" y="739" width="94.8" height="26" fill="#fff" stroke="#000"/>
<rect x="649.4" y="118.8" width="175" height="25.6" fill="#fff" stroke="#000"/>
<rect x="659.6" y="195.2" width="154.8" height="25.2" fill="#fff" stroke="#000"/>
<rect x="651.2" y="246" width="172" height="25.2" fill="#fff" stroke="#000"/>
<rect x="713.6" y="347.2" width="46.8" height="25.2" fill="#fff" stroke="#000"/>
<rect x="697.6" y="499" width="79" height="25.6" fill="#fff" stroke="#000"/>
<rect x="647.6" y="600.6" width="179.2" height="25.6" fill="#fff" stroke="#000"/>
<rect x="691" y="739" width="92.2" height="26" fill="#fff" stroke="#000"/>
<rect x="679" y="789.4" width="116.2" height="26" fill="#fff" stroke="#000"/>
<rect x="671.6" y="879" width="131.2" height="25.6" fill="#fff" stroke="#000"/>
<rect x="685.6" y="1056.2" width="103" height="25.6" fill="#fff" stroke="#000"/>
<rect x="874.4" y="42.8" width="174.8" height="25.6" fill="#fff" stroke="#000"/>
<rect x="1130.4" y="42.8" width="72" height="25.6" fill="#fff" stroke="#000"/>
<rect x="889.6" y="144.4" width="144.4" height="25.6" fill="#fff" stroke="#000"/>
<rect x="903.6" y="195.2" width="116.4" height="25.2" fill="#fff" stroke="#ff0000"/>
<rect x="881.2" y="246" width="161.6" height="25.2" fill="#fff" stroke="#000"/>
<rect x="915.6" y="473.8" width="92.4" height="25.6" fill="#fff" stroke="#000"/>
<rect x="916.4" y="803" width="90.8" height="25.6" fill="#fff" stroke="#000"/>
<rect x="894.4" y="853.8" width="134.8" height="25.6" fill="#fff" stroke="#000"/>
<rect x="894.4" y="904.2" width="134.8" height="26" fill="#fff" stroke="#000"/>
<rect x="1104.4" y="182" width="124.1" height="25.2" fill="#fff" stroke="#000"/>
<rect x="1102.4" y="246" width="128.1" height="25.2" fill="#fff" stroke="#000"/>
<rect x="1097.2" y="448.2" width="138.4" height="26" fill="#fff" stroke="#000"/>
<rect x="1102.8" y="651.4" width="127.3" height="25.6" fill="#fff" stroke="#000"/>
<rect x="1125.6" y="752.2" width="81.6" height="25.6" fill="#fff" stroke="#000"/>
<rect x="1097.6" y="803" width="137.8" height="25.6" fill="#fff" stroke="#ff0000"/>
<rect x="1105.2" y="853.8" width="122.8" height="25.6" fill="#fff" stroke="#ff0000"/>
<rect x="1103.2" y="1005.8" width="126.8" height="25.6" fill="#fff" stroke="#000"/>
<rect x="1115.2" y="1107" width="102.9" height="25.6" fill="#fff" stroke="#000"/>
<rect x="1285.1" y="129.2" width="124.3" height="40" fill="#fff" stroke="#000"/>
<rect x="1327.7" y="246" width="38.8" height="25.2" fill="#fff" stroke="#000"/>
<rect x="1286.3" y="448.2" width="121.5" height="26" fill="#fff" stroke="#000"/>
<rect x="1317.3" y="904.2" width="60" height="26" fill="#fff" stroke="#000"/>
<rect x="1283.7" y="1044.2" width="126.9" height="25.6" fill="#fff" stroke="#000"/>
<rect x="1297.5" y="1107" width="98.7" height="25.6" fill="#fff" stroke="#000"/>
<rect x="1489.8" y="144.4" width="92" height="25.6" fill="#fff" stroke="#000"/>
<rect x="1459.4" y="246" width="152.4" height="25.2" fill="#fff" stroke="#000"/>
<rect x="1458.6" y="296.4" width="154.8" height="25.2" fill="#fff" stroke="#000"/>
<rect x="1513.8" y="473.8" width="44" height="25.6" fill="#fff" stroke="#000"/>
<rect x="1493.1" y="1107" width="85.5" height="25.6" fill="#fff" stroke="#000"/>
<rect x="1687.8" y="68.4" width="89.2" height="25.6" fill="#fff" stroke="#000"/>
<rect x="1707" y="701.4" width="50.8" height="26" fill="#fff" stroke="#000"/>
<rect x="1661" y="1107" width="143.2" height="25.6" fill="#fff" stroke="#000"/>
<rect x="1851.4" y="68.4" width="120.4" height="25.6" fill="#fff" stroke="#000"/>
<rect x="1852.2" y="701.4" width="118.8" height="26" fill="#fff" stroke="#ff0000"/>
<text x="91.8" y="477.9" text-anchor="middle">build_id_cache__show_all</text>
<text x="305.8" y="388.8" text-anchor="middle">build_id_cache__list_all</text>
<text x="516.6" y="211.2" text-anchor="middle">lsdir_bid_tail_filter</text>
<text x="516.6" y="262" text-anchor="middle">build_id_cache__valid_id</text>
<text x="516.4" y="363.3" text-anchor="middle">lsdir_bid_head_filter</text>
<text x="516.6" y="755.4" text-anchor="middle">symbol__init</text>
<text x="736.9" y="135" text-anchor="middle">build_id_cache__origname</text>
<text x="737" y="211.2" text-anchor="middle">sysfs__sprintf_build_id</text>
<text x="737.2" y="262" text-anchor="middle">filename__sprintf_build_id</text>
<text x="737" y="363.2" text-anchor="middle">lsdir</text>
<text x="737.1" y="515.2" text-anchor="middle">setup_list</text>
<text x="737.2" y="616.8" text-anchor="middle">symbol__read_kptr_restrict</text>
<text x="737.1" y="755.4" text-anchor="middle">setup_intlist</text>
<text x="737.1" y="805.8" text-anchor="middle">symbol__elf_init</text>
<text x="737.2" y="895.2" text-anchor="middle">vmlinux_path__init</text>
<text x="737.1" y="1072.4" text-anchor="middle">strlist__delete</text>
<text x="961.8" y="59" text-anchor="middle">build_id_cache__linkname</text>
<text x="1166.4" y="59" text-anchor="middle">asnprintf</text>
<text x="961.8" y="160.6" text-anchor="middle">sysfs__read_build_id</text>
<text x="961.8" y="211.2" text-anchor="middle">build_id__sprintf</text>
<text x="962" y="262" text-anchor="middle">filename__read_build_id</text>
<text x="961.8" y="490" text-anchor="middle">strlist__new</text>
<text x="961.8" y="819.2" text-anchor="middle">intlist__new</text>
<text x="961.8" y="870" text-anchor="middle">vmlinux_path__add</text>
<text x="961.8" y="920.6" text-anchor="middle">vmlinux_path__exit</text>
<text x="1166.5" y="198" text-anchor="middle">strlist__parse_list</text>
<text x="1166.5" y="262" text-anchor="middle">strlist__node_cmp</text>
<text x="1166.4" y="464.6" text-anchor="middle">strlist__node_delete</text>
<text x="1166.4" y="667.6" text-anchor="middle">strlist__node_new</text>
<text x="1166.4" y="768.4" text-anchor="middle">rblist__init</text>
<text x="1166.5" y="819.2" text-anchor="middle">intlist__node_delete</text>
<text x="1166.6" y="870" text-anchor="middle">intlist__parse_list</text>
<text x="1166.6" y="1022" text-anchor="middle">intlist__node_new</text>
<text x="1166.7" y="1123.2" text-anchor="middle">intlist__delete</text>
<text x="1347.2" y="145.1" text-anchor="middle">strlist__parse_list</text>
<text x="1347.2" y="160.1" text-anchor="middle">_entry</text>
<text x="1347.1" y="262" text-anchor="middle">str</text>
<text x="1347" y="464.6" text-anchor="middle">str_node__delete</text>
<text x="1347.3" y="920.6" text-anchor="middle">malloc</text>
<text x="1347.2" y="1060.4" text-anchor="middle">intlist__node_cmp</text>
<text x="1346.8" y="1123.2" text-anchor="middle">rblist__delete</text>
<text x="1535.8" y="160.6" text-anchor="middle">strlist__load</text>
<text x="1535.6" y="262" text-anchor="middle">parse_events_get_lval</text>
<text x="1536" y="312.4" text-anchor="middle">parse_events_get_text</text>
<text x="1535.8" y="490" text-anchor="middle">free</text>
<text x="1535.8" y="1123.2" text-anchor="middle">rblist__exit</text>
<text x="1732.4" y="84.6" text-anchor="middle">strlist__add</text>
<text x="1732.4" y="717.8" text-anchor="middle">entry</text>
<text x="1732.6" y="1123.2" text-anchor="middle">rblist__remove_node</text>
<text x="1911.6" y="84.6" text-anchor="middle">rblist__add_node</text>
<text x="1911.6" y="717.8" text-anchor="middle">__report_module</text>
</g></svg></body></html>
